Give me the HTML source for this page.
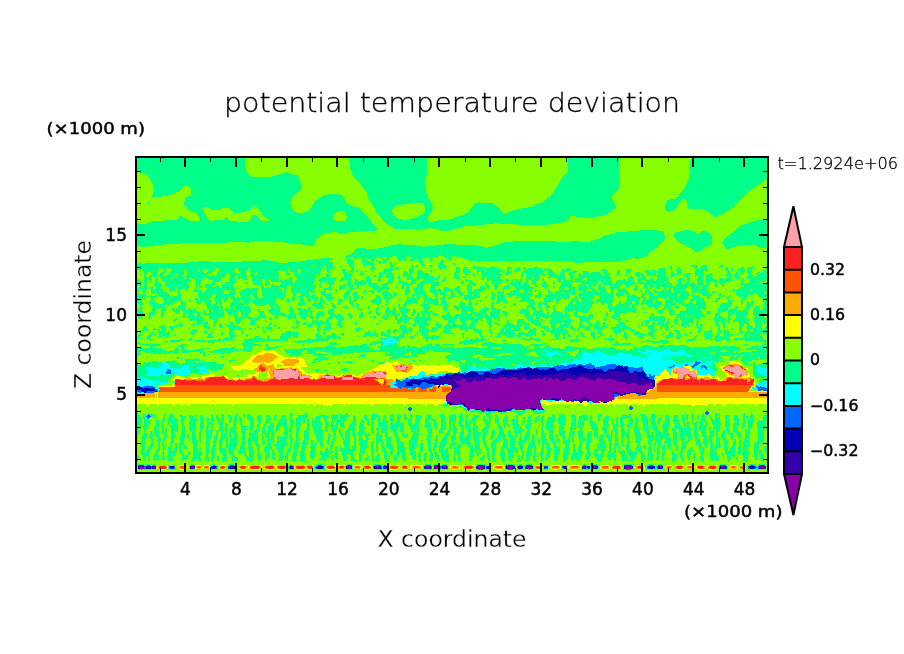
<!DOCTYPE html>
<html lang="en"><head><meta charset="utf-8"><title>potential temperature deviation</title>
<style>html,body{margin:0;padding:0;background:#fff}
svg{display:block}
text{fill:#000}
.thin{stroke:#fff;stroke-width:1.1px;paint-order:fill stroke}
.thin2{stroke:#fff;stroke-width:.3px;paint-order:fill stroke}
.lt{stroke:#000;stroke-width:.3px}
.med{stroke:#000;stroke-width:.45px}
</style></head><body>
<svg width="904" height="654" viewBox="0 0 904 654">
<rect width="904" height="654" fill="#fff"/>
<g shape-rendering="crispEdges"><rect x="136" y="157" width="632" height="316" fill="#88ff00"/>
<path fill="#00ff88" d="M348 157h79v2h-79zM691 157h77v3h-77zM349 159h78v4h-78zM136 157h109v10h-109zM690 160h78v7h-78zM350 163h77v6h-77zM136 167h110v4h-110zM689 167h79v4h-79zM351 169h76v2h-76zM568 157h51v15h-51zM136 171h111v1h-111zM690 171h78v2h-78zM139 172h109v1h-109zM285 172h3v1h-3zM567 172h52v1h-52zM143 173h105v1h-105zM282 173h8v1h-8zM566 173h53v1h-53zM352 171h75v4h-75zM146 174h103v1h-103zM279 174h15v1h-15zM565 174h54v1h-54zM147 175h102v1h-102zM276 175h21v1h-21zM353 175h74v1h-74zM564 175h55v1h-55zM148 176h103v1h-103zM272 176h26v1h-26zM563 176h56v1h-56zM354 176h72v2h-72zM689 173h79v6h-79zM149 177h150v2h-150zM562 177h57v2h-57zM355 178h71v1h-71zM150 179h149v1h-149zM356 179h69v1h-69zM561 179h58v1h-58zM689 179h77v1h-77zM357 180h68v1h-68zM688 180h76v1h-76zM151 180h149v2h-149zM560 180h59v2h-59zM358 181h67v1h-67zM687 181h76v1h-76zM359 182h66v1h-66zM687 182h75v1h-75zM152 182h149v2h-149zM559 182h60v2h-60zM360 183h65v1h-65zM687 183h74v1h-74zM153 184h148v1h-148zM686 184h73v1h-73zM361 184h64v2h-64zM558 184h61v2h-61zM153 185h149v1h-149zM686 185h72v1h-72zM153 186h30v1h-30zM188 186h114v1h-114zM362 186h64v1h-64zM557 186h62v1h-62zM685 186h71v1h-71zM190 187h111v1h-111zM363 187h63v1h-63zM556 187h63v1h-63zM685 187h70v1h-70zM154 187h28v2h-28zM191 188h110v1h-110zM555 188h64v1h-64zM684 188h69v1h-69zM364 188h62v2h-62zM154 189h27v1h-27zM555 189h63v1h-63zM683 189h68v1h-68zM191 189h109v2h-109zM154 190h26v1h-26zM365 190h61v1h-61zM554 190h64v1h-64zM683 190h67v1h-67zM154 191h25v1h-25zM191 191h108v1h-108zM366 191h60v1h-60zM554 191h62v1h-62zM682 191h67v1h-67zM153 192h23v1h-23zM191 192h107v1h-107zM367 192h59v1h-59zM553 192h62v1h-62zM681 192h67v1h-67zM153 193h21v1h-21zM191 193h105v1h-105zM553 193h61v1h-61zM680 193h67v1h-67zM153 194h18v1h-18zM191 194h104v1h-104zM328 194h11v1h-11zM552 194h61v1h-61zM679 194h67v1h-67zM367 193h60v3h-60zM152 195h16v1h-16zM190 195h103v1h-103zM324 195h18v1h-18zM551 195h61v1h-61zM679 195h66v1h-66zM152 196h10v1h-10zM188 196h105v1h-105zM322 196h21v1h-21zM368 196h59v1h-59zM550 196h62v1h-62zM678 196h66v1h-66zM152 197h2v1h-2zM186 197h106v1h-106zM320 197h23v1h-23zM368 197h60v1h-60zM548 197h64v1h-64zM677 197h66v1h-66zM151 198h1v1h-1zM185 198h107v1h-107zM319 198h25v1h-25zM368 198h61v1h-61zM547 198h65v1h-65zM676 198h66v1h-66zM318 199h27v1h-27zM369 199h60v1h-60zM546 199h67v1h-67zM670 199h12v1h-12zM685 199h56v1h-56zM316 200h29v1h-29zM370 200h60v1h-60zM545 200h68v1h-68zM667 200h14v1h-14zM686 200h54v1h-54zM185 199h106v3h-106zM149 201h1v1h-1zM315 201h31v1h-31zM371 201h59v1h-59zM544 201h70v1h-70zM667 201h13v1h-13zM686 201h53v1h-53zM148 202h1v1h-1zM314 202h32v1h-32zM371 202h60v1h-60zM478 202h2v1h-2zM542 202h72v1h-72zM687 202h51v1h-51zM184 202h106v2h-106zM666 202h13v2h-13zM147 203h2v1h-2zM314 203h33v1h-33zM372 203h39v1h-39zM423 203h8v1h-8zM475 203h18v1h-18zM539 203h76v1h-76zM687 203h50v1h-50zM184 204h107v1h-107zM313 204h36v1h-36zM373 204h30v1h-30zM474 204h20v1h-20zM536 204h79v1h-79zM665 204h13v1h-13zM687 204h49v1h-49zM424 204h8v2h-8zM185 205h106v1h-106zM312 205h40v1h-40zM373 205h23v1h-23zM473 205h22v1h-22zM534 205h81v1h-81zM688 205h47v1h-47zM665 205h12v2h-12zM186 206h67v1h-67zM256 206h35v1h-35zM312 206h41v1h-41zM374 206h21v1h-21zM473 206h24v1h-24zM532 206h84v1h-84zM688 206h46v1h-46zM208 207h44v1h-44zM257 207h35v1h-35zM311 207h46v1h-46zM374 207h20v1h-20zM472 207h26v1h-26zM528 207h88v1h-88zM688 207h45v1h-45zM425 206h8v3h-8zM187 207h16v2h-16zM665 207h11v2h-11zM209 208h13v1h-13zM229 208h22v1h-22zM258 208h34v1h-34zM310 208h50v1h-50zM375 208h18v1h-18zM471 208h28v1h-28zM521 208h95v1h-95zM689 208h43v1h-43zM188 209h15v1h-15zM211 209h9v1h-9zM230 209h20v1h-20zM310 209h51v1h-51zM470 209h30v1h-30zM516 209h98v1h-98zM665 209h10v1h-10zM704 209h27v1h-27zM259 209h34v2h-34zM375 209h17v2h-17zM425 209h7v2h-7zM190 210h13v1h-13zM231 210h18v1h-18zM309 210h53v1h-53zM470 210h31v1h-31zM513 210h99v1h-99zM666 210h7v1h-7zM706 210h22v1h-22zM192 211h12v1h-12zM233 211h13v1h-13zM260 211h35v1h-35zM307 211h31v1h-31zM425 211h6v1h-6zM469 211h32v1h-32zM510 211h101v1h-101zM667 211h3v1h-3zM707 211h19v1h-19zM345 211h18v2h-18zM376 211h16v2h-16zM195 212h9v1h-9zM234 212h7v1h-7zM261 212h36v1h-36zM304 212h32v1h-32zM424 212h7v1h-7zM468 212h34v1h-34zM508 212h102v1h-102zM709 212h16v1h-16zM196 213h9v1h-9zM262 213h73v1h-73zM346 213h18v1h-18zM377 213h16v1h-16zM424 213h6v1h-6zM465 213h38v1h-38zM505 213h103v1h-103zM710 213h13v1h-13zM197 214h8v1h-8zM262 214h72v1h-72zM346 214h19v1h-19zM378 214h15v1h-15zM422 214h8v1h-8zM463 214h144v1h-144zM712 214h9v1h-9zM198 215h8v1h-8zM252 215h4v1h-4zM263 215h70v1h-70zM346 215h20v1h-20zM379 215h15v1h-15zM420 215h9v1h-9zM460 215h144v1h-144zM713 215h6v1h-6zM179 216h3v1h-3zM199 216h7v1h-7zM252 216h5v1h-5zM264 216h69v1h-69zM347 216h20v1h-20zM380 216h15v1h-15zM418 216h10v1h-10zM457 216h113v1h-113zM575 216h22v1h-22zM714 216h4v1h-4zM179 217h5v1h-5zM199 217h8v1h-8zM226 217h1v1h-1zM251 217h7v1h-7zM266 217h67v1h-67zM347 217h21v1h-21zM381 217h15v1h-15zM416 217h12v1h-12zM455 217h115v1h-115zM583 217h11v1h-11zM178 218h8v1h-8zM200 218h7v1h-7zM225 218h2v1h-2zM251 218h8v1h-8zM268 218h65v1h-65zM346 218h23v1h-23zM382 218h16v1h-16zM411 218h16v1h-16zM453 218h116v1h-116zM177 219h11v1h-11zM200 219h8v1h-8zM224 219h4v1h-4zM250 219h10v1h-10zM269 219h65v1h-65zM346 219h24v1h-24zM382 219h19v1h-19zM409 219h19v1h-19zM449 219h120v1h-120zM165 220h25v1h-25zM199 220h11v1h-11zM214 220h15v1h-15zM250 220h11v1h-11zM269 220h67v1h-67zM345 220h26v1h-26zM383 220h45v1h-45zM438 220h130v1h-130zM756 220h12v1h-12zM151 221h86v1h-86zM248 221h123v1h-123zM384 221h45v1h-45zM434 221h131v1h-131zM753 221h15v1h-15zM149 222h223v1h-223zM385 222h177v1h-177zM749 222h19v1h-19zM136 223h3v1h-3zM147 223h225v1h-225zM386 223h108v1h-108zM499 223h58v1h-58zM747 223h21v1h-21zM136 224h237v1h-237zM388 224h97v1h-97zM518 224h31v1h-31zM744 224h24v1h-24zM136 225h238v1h-238zM389 225h86v1h-86zM741 225h27v1h-27zM136 226h239v1h-239zM391 226h73v1h-73zM740 226h28v1h-28zM136 227h240v1h-240zM392 227h69v1h-69zM738 227h30v1h-30zM394 228h34v1h-34zM433 228h24v1h-24zM737 228h31v1h-31zM136 228h241v2h-241zM416 229h4v1h-4zM437 229h16v1h-16zM736 229h32v1h-32zM136 230h240v1h-240zM441 230h9v1h-9zM640 230h18v1h-18zM683 230h8v1h-8zM735 230h33v1h-33zM136 231h197v1h-197zM334 231h25v1h-25zM628 231h35v1h-35zM680 231h15v1h-15zM702 231h4v1h-4zM734 231h34v1h-34zM136 232h193v1h-193zM337 232h12v1h-12zM616 232h48v1h-48zM676 232h20v1h-20zM701 232h7v1h-7zM733 232h35v1h-35zM136 233h188v1h-188zM339 233h7v1h-7zM615 233h49v1h-49zM674 233h22v1h-22zM699 233h11v1h-11zM731 233h37v1h-37zM136 234h186v1h-186zM610 234h54v1h-54zM730 234h38v1h-38zM674 234h37v2h-37zM136 235h185v1h-185zM605 235h60v1h-60zM728 235h40v1h-40zM136 236h184v1h-184zM603 236h62v1h-62zM674 236h38v1h-38zM727 236h41v1h-41zM136 237h183v1h-183zM602 237h63v1h-63zM726 237h42v1h-42zM675 237h37v2h-37zM136 238h181v1h-181zM600 238h65v1h-65zM725 238h43v1h-43zM597 239h67v1h-67zM676 239h36v1h-36zM136 239h180v2h-180zM724 239h44v2h-44zM593 240h71v1h-71zM677 240h35v1h-35zM136 241h118v1h-118zM273 241h42v1h-42zM513 241h42v1h-42zM571 241h8v1h-8zM590 241h73v1h-73zM678 241h34v1h-34zM723 241h45v1h-45zM136 242h92v1h-92zM246 242h3v1h-3zM285 242h30v1h-30zM504 242h158v1h-158zM679 242h33v1h-33zM722 242h46v2h-46zM136 243h45v1h-45zM292 243h22v1h-22zM501 243h160v1h-160zM680 243h32v1h-32zM136 244h28v1h-28zM302 244h12v1h-12zM397 244h5v1h-5zM444 244h12v1h-12zM498 244h162v1h-162zM683 244h29v1h-29zM723 244h45v1h-45zM136 245h18v1h-18zM307 245h7v1h-7zM391 245h25v1h-25zM435 245h42v1h-42zM495 245h164v1h-164zM685 245h25v1h-25zM724 245h15v1h-15zM755 245h13v1h-13zM141 246h6v1h-6zM388 246h34v1h-34zM425 246h56v1h-56zM492 246h166v1h-166zM687 246h20v1h-20zM725 246h11v1h-11zM757 246h11v1h-11zM383 247h102v1h-102zM488 247h169v1h-169zM689 247h15v1h-15zM725 247h8v1h-8zM759 247h9v1h-9zM357 248h9v1h-9zM378 248h278v1h-278zM691 248h12v1h-12zM726 248h4v1h-4zM355 249h299v1h-299zM692 249h10v1h-10zM355 250h298v1h-298zM694 250h7v1h-7zM354 251h297v1h-297zM695 251h4v1h-4zM353 252h297v1h-297zM352 253h297v1h-297zM350 254h298v1h-298zM347 255h92v1h-92zM441 255h206v1h-206zM346 256h46v1h-46zM396 256h12v1h-12zM409 256h29v1h-29zM443 256h9v1h-9zM456 256h189v1h-189zM353 257h24v1h-24zM379 257h3v1h-3zM397 257h8v1h-8zM411 257h15v1h-15zM435 257h2v1h-2zM445 257h7v1h-7zM460 257h183v1h-183zM346 257h3v2h-3zM387 257h3v2h-3zM429 257h3v2h-3zM321 258h11v1h-11zM354 258h3v1h-3zM362 258h3v1h-3zM367 258h8v1h-8zM381 258h2v1h-2zM397 258h9v1h-9zM411 258h12v1h-12zM446 258h1v1h-1zM448 258h4v1h-4zM464 258h168v1h-168zM635 258h3v1h-3zM314 259h15v1h-15zM330 259h3v1h-3zM347 259h3v1h-3zM362 259h5v1h-5zM383 259h6v1h-6zM398 259h4v1h-4zM404 259h3v1h-3zM410 259h4v1h-4zM418 259h4v1h-4zM430 259h2v1h-2zM449 259h3v1h-3zM467 259h163v1h-163zM371 259h3v2h-3zM261 260h8v1h-8zM306 260h23v1h-23zM362 260h6v1h-6zM383 260h4v1h-4zM399 260h3v1h-3zM404 260h2v1h-2zM409 260h5v1h-5zM418 260h5v1h-5zM430 260h3v1h-3zM441 260h2v1h-2zM450 260h1v1h-1zM470 260h156v1h-156zM376 260h1v2h-1zM199 261h10v1h-10zM229 261h1v1h-1zM242 261h32v1h-32zM299 261h30v1h-30zM362 261h7v1h-7zM371 261h2v1h-2zM379 261h2v1h-2zM383 261h2v1h-2zM399 261h1v1h-1zM405 261h1v1h-1zM409 261h1v1h-1zM431 261h1v1h-1zM543 261h3v1h-3zM572 261h47v1h-47zM419 261h4v2h-4zM440 261h4v2h-4zM187 262h91v1h-91zM288 262h44v1h-44zM362 262h12v1h-12zM378 262h7v1h-7zM390 262h2v1h-2zM395 262h1v1h-1zM575 262h8v1h-8zM347 260h6v4h-6zM139 263h2v1h-2zM145 263h188v1h-188zM379 263h1v1h-1zM389 263h3v1h-3zM394 263h2v1h-2zM420 263h3v1h-3zM438 263h5v1h-5zM453 263h2v1h-2zM364 263h10v2h-10zM136 264h177v1h-177zM314 264h19v1h-19zM390 264h2v1h-2zM395 264h1v1h-1zM417 264h1v1h-1zM421 264h3v1h-3zM438 264h6v1h-6zM454 264h1v2h-1zM315 265h10v1h-10zM364 265h2v1h-2zM412 265h1v1h-1zM416 265h3v1h-3zM422 265h3v1h-3zM438 265h8v1h-8zM691 265h6v1h-6zM703 265h3v1h-3zM720 265h3v1h-3zM349 264h4v3h-4zM136 265h176v2h-176zM371 265h3v2h-3zM429 265h3v2h-3zM315 266h9v1h-9zM340 266h2v1h-2zM364 266h1v1h-1zM415 266h3v1h-3zM422 266h2v1h-2zM438 266h9v1h-9zM449 266h1v1h-1zM473 266h4v1h-4zM492 266h1v1h-1zM692 266h6v1h-6zM701 266h6v1h-6zM719 266h4v1h-4zM752 266h1v1h-1zM390 265h3v3h-3zM411 266h3v2h-3zM136 267h100v1h-100zM237 267h12v1h-12zM250 267h73v1h-73zM341 267h1v1h-1zM371 267h4v1h-4zM396 267h3v1h-3zM438 267h8v1h-8zM456 267h3v1h-3zM464 267h3v1h-3zM472 267h13v1h-13zM489 267h7v1h-7zM507 267h4v1h-4zM518 267h2v1h-2zM523 267h2v1h-2zM534 267h4v1h-4zM694 267h4v1h-4zM718 267h5v1h-5zM726 267h2v1h-2zM741 267h2v1h-2zM748 267h5v1h-5zM326 265h7v4h-7zM351 267h3v2h-3zM677 267h3v2h-3zM700 267h7v2h-7zM137 268h22v1h-22zM161 268h6v1h-6zM169 268h36v1h-36zM206 268h9v1h-9zM250 268h38v1h-38zM289 268h32v1h-32zM385 268h2v1h-2zM389 268h4v1h-4zM395 268h4v1h-4zM410 268h4v1h-4zM439 268h6v1h-6zM463 268h4v1h-4zM474 268h11v1h-11zM486 268h13v1h-13zM507 268h5v1h-5zM515 268h6v1h-6zM523 268h3v1h-3zM528 268h14v1h-14zM545 268h2v1h-2zM695 268h3v1h-3zM740 268h4v1h-4zM747 268h6v1h-6zM755 268h1v1h-1zM670 266h2v4h-2zM219 268h16v2h-16zM238 268h10v2h-10zM370 268h5v2h-5zM566 268h4v2h-4zM659 268h6v2h-6zM725 268h3v2h-3zM138 269h20v1h-20zM171 269h13v1h-13zM186 269h11v1h-11zM200 269h4v1h-4zM209 269h6v1h-6zM250 269h37v1h-37zM300 269h7v1h-7zM332 269h1v1h-1zM342 269h4v1h-4zM352 269h2v1h-2zM394 269h5v1h-5zM440 269h2v1h-2zM476 269h9v1h-9zM486 269h14v1h-14zM507 269h4v1h-4zM515 269h5v1h-5zM524 269h18v1h-18zM544 269h7v1h-7zM562 269h2v1h-2zM602 269h3v1h-3zM653 269h1v1h-1zM677 269h4v1h-4zM700 269h8v1h-8zM738 269h7v1h-7zM766 269h2v1h-2zM731 268h2v3h-2zM290 269h8v2h-8zM326 269h4v2h-4zM384 269h9v2h-9zM409 269h5v2h-5zM435 269h1v2h-1zM463 269h6v2h-6zM696 269h3v2h-3zM139 270h1v1h-1zM143 270h15v1h-15zM172 270h12v1h-12zM200 270h3v1h-3zM208 270h6v1h-6zM219 270h15v1h-15zM239 270h8v1h-8zM249 270h30v1h-30zM281 270h7v1h-7zM342 270h5v1h-5zM351 270h3v1h-3zM371 270h3v1h-3zM418 270h3v1h-3zM477 270h8v1h-8zM487 270h16v1h-16zM507 270h3v1h-3zM514 270h6v1h-6zM525 270h21v1h-21zM548 270h4v1h-4zM562 270h7v1h-7zM573 270h3v1h-3zM601 270h6v1h-6zM617 270h2v1h-2zM645 270h5v1h-5zM652 270h4v1h-4zM671 270h1v1h-1zM676 270h6v1h-6zM700 270h4v1h-4zM705 270h3v1h-3zM726 270h3v1h-3zM737 270h2v1h-2zM456 268h4v4h-4zM164 269h2v3h-2zM308 269h13v3h-13zM626 269h5v3h-5zM747 269h5v3h-5zM187 270h11v2h-11zM301 270h6v2h-6zM356 270h1v2h-1zM430 270h2v2h-2zM740 270h5v2h-5zM763 270h5v2h-5zM144 271h5v1h-5zM171 271h13v1h-13zM199 271h4v1h-4zM208 271h5v1h-5zM239 271h7v1h-7zM250 271h28v1h-28zM285 271h3v1h-3zM290 271h3v1h-3zM327 271h3v1h-3zM343 271h3v1h-3zM349 271h5v1h-5zM365 271h2v1h-2zM372 271h1v1h-1zM383 271h9v1h-9zM404 271h2v1h-2zM417 271h6v1h-6zM463 271h8v1h-8zM477 271h2v1h-2zM481 271h4v1h-4zM487 271h17v1h-17zM507 271h4v1h-4zM514 271h4v1h-4zM523 271h21v1h-21zM548 271h5v1h-5zM561 271h7v1h-7zM572 271h5v1h-5zM582 271h6v1h-6zM601 271h1v1h-1zM644 271h6v1h-6zM652 271h5v1h-5zM671 271h2v1h-2zM677 271h5v1h-5zM706 271h1v1h-1zM737 271h1v1h-1zM658 270h8v3h-8zM151 271h6v2h-6zM218 271h15v2h-15zM361 271h2v2h-2zM409 271h4v2h-4zM603 271h5v2h-5zM727 271h3v2h-3zM144 272h4v1h-4zM161 272h4v1h-4zM170 272h7v1h-7zM187 272h17v1h-17zM207 272h5v1h-5zM235 272h1v1h-1zM251 272h5v1h-5zM257 272h21v1h-21zM286 272h2v1h-2zM300 272h21v1h-21zM328 272h1v1h-1zM343 272h4v1h-4zM349 272h1v1h-1zM351 272h2v1h-2zM380 272h8v1h-8zM389 272h3v1h-3zM417 272h7v1h-7zM431 272h1v1h-1zM455 272h5v1h-5zM463 272h6v1h-6zM470 272h1v1h-1zM502 272h1v1h-1zM522 272h22v1h-22zM548 272h6v1h-6zM560 272h5v1h-5zM570 272h6v1h-6zM592 272h8v1h-8zM626 272h4v1h-4zM636 272h4v1h-4zM645 272h12v1h-12zM677 272h4v1h-4zM719 272h1v1h-1zM736 272h2v1h-2zM740 272h4v1h-4zM747 272h4v1h-4zM757 272h3v1h-3zM762 272h6v1h-6zM294 271h4v3h-4zM617 271h3v3h-3zM240 272h6v2h-6zM481 272h19v2h-19zM506 272h5v2h-5zM583 272h6v2h-6zM671 272h3v2h-3zM144 273h3v1h-3zM151 273h7v1h-7zM170 273h6v1h-6zM187 273h22v1h-22zM217 273h9v1h-9zM229 273h8v1h-8zM251 273h4v1h-4zM286 273h3v1h-3zM290 273h1v1h-1zM300 273h20v1h-20zM327 273h1v1h-1zM343 273h8v1h-8zM360 273h4v1h-4zM379 273h14v1h-14zM417 273h11v1h-11zM454 273h6v1h-6zM464 273h4v1h-4zM472 273h2v1h-2zM522 273h2v1h-2zM526 273h18v1h-18zM548 273h7v1h-7zM560 273h4v1h-4zM569 273h6v1h-6zM578 273h2v1h-2zM590 273h11v1h-11zM635 273h7v1h-7zM646 273h5v1h-5zM658 273h7v1h-7zM676 273h4v1h-4zM687 273h4v1h-4zM710 273h2v1h-2zM727 273h4v1h-4zM735 273h8v1h-8zM755 273h13v1h-13zM178 272h6v3h-6zM403 272h5v3h-5zM477 272h1v3h-1zM160 273h4v2h-4zM257 273h22v2h-22zM409 273h3v2h-3zM652 273h4v2h-4zM748 273h4v2h-4zM140 274h1v1h-1zM152 274h6v1h-6zM168 274h7v1h-7zM187 274h21v1h-21zM217 274h8v1h-8zM229 274h17v1h-17zM250 274h4v1h-4zM286 274h4v1h-4zM317 274h3v1h-3zM326 274h3v1h-3zM360 274h3v1h-3zM379 274h4v1h-4zM465 274h3v1h-3zM482 274h19v1h-19zM506 274h3v1h-3zM526 274h14v1h-14zM542 274h3v1h-3zM548 274h10v1h-10zM560 274h3v1h-3zM578 274h3v1h-3zM583 274h19v1h-19zM616 274h3v1h-3zM635 274h8v1h-8zM647 274h4v1h-4zM671 274h4v1h-4zM676 274h3v1h-3zM708 274h4v1h-4zM726 274h6v1h-6zM734 274h6v1h-6zM695 271h8v5h-8zM604 273h6v3h-6zM294 274h22v2h-22zM344 274h8v2h-8zM386 274h7v2h-7zM417 274h12v2h-12zM454 274h4v2h-4zM473 274h2v2h-2zM569 274h5v2h-5zM625 274h2v2h-2zM657 274h9v2h-9zM684 274h6v2h-6zM757 274h11v2h-11zM149 275h9v1h-9zM166 275h8v1h-8zM178 275h5v1h-5zM186 275h23v1h-23zM211 275h3v1h-3zM216 275h9v1h-9zM230 275h17v1h-17zM250 275h5v1h-5zM256 275h23v1h-23zM287 275h2v1h-2zM318 275h1v1h-1zM361 275h2v1h-2zM379 275h3v1h-3zM399 275h1v1h-1zM403 275h9v1h-9zM439 275h1v1h-1zM465 275h2v1h-2zM482 275h20v1h-20zM506 275h1v1h-1zM527 275h12v1h-12zM543 275h2v1h-2zM549 275h15v1h-15zM578 275h25v1h-25zM631 275h1v1h-1zM635 275h9v1h-9zM647 275h3v1h-3zM653 275h2v1h-2zM671 275h5v1h-5zM706 275h7v1h-7zM726 275h5v1h-5zM748 275h5v1h-5zM144 274h2v3h-2zM159 275h5v2h-5zM326 275h4v2h-4zM374 275h2v2h-2zM734 275h5v2h-5zM149 276h3v1h-3zM154 276h3v1h-3zM165 276h10v1h-10zM177 276h6v1h-6zM186 276h39v1h-39zM230 276h6v1h-6zM251 276h28v1h-28zM295 276h21v1h-21zM344 276h7v1h-7zM366 276h3v1h-3zM378 276h4v1h-4zM386 276h8v1h-8zM404 276h2v1h-2zM417 276h17v1h-17zM438 276h2v1h-2zM454 276h5v1h-5zM474 276h2v1h-2zM482 276h14v1h-14zM498 276h3v1h-3zM526 276h13v1h-13zM549 276h16v1h-16zM570 276h4v1h-4zM578 276h32v1h-32zM630 276h2v1h-2zM637 276h3v1h-3zM670 276h3v1h-3zM683 276h6v1h-6zM695 276h1v1h-1zM747 276h6v1h-6zM755 276h13v1h-13zM521 274h2v4h-2zM238 276h9v2h-9zM407 276h6v2h-6zM463 276h2v2h-2zM641 276h5v2h-5zM657 276h10v2h-10zM706 276h6v2h-6zM727 276h4v2h-4zM144 277h3v1h-3zM148 277h4v1h-4zM160 277h12v1h-12zM173 277h3v1h-3zM177 277h7v1h-7zM186 277h17v1h-17zM205 277h17v1h-17zM223 277h2v1h-2zM289 277h4v1h-4zM296 277h20v1h-20zM322 277h9v1h-9zM333 277h2v1h-2zM342 277h9v1h-9zM366 277h4v1h-4zM378 277h3v1h-3zM386 277h3v1h-3zM390 277h4v1h-4zM416 277h18v1h-18zM437 277h3v1h-3zM454 277h6v1h-6zM482 277h3v1h-3zM487 277h14v1h-14zM548 277h4v1h-4zM554 277h11v1h-11zM578 277h33v1h-33zM638 277h1v1h-1zM686 277h3v1h-3zM735 277h4v1h-4zM746 277h22v1h-22zM398 276h2v3h-2zM698 276h5v3h-5zM156 277h1v2h-1zM252 277h26v2h-26zM444 277h2v2h-2zM526 277h6v2h-6zM534 277h6v2h-6zM570 277h3v2h-3zM628 277h5v2h-5zM671 277h1v2h-1zM136 278h2v1h-2zM144 278h8v1h-8zM161 278h10v1h-10zM173 278h11v1h-11zM186 278h4v1h-4zM193 278h10v1h-10zM208 278h13v1h-13zM238 278h2v1h-2zM242 278h5v1h-5zM289 278h3v1h-3zM341 278h10v1h-10zM379 278h2v1h-2zM407 278h7v1h-7zM416 278h5v1h-5zM423 278h12v1h-12zM436 278h3v1h-3zM455 278h5v1h-5zM487 278h13v1h-13zM515 278h1v1h-1zM521 278h1v1h-1zM543 278h1v1h-1zM549 278h1v1h-1zM575 278h3v1h-3zM579 278h4v1h-4zM650 278h3v1h-3zM679 278h4v1h-4zM706 278h7v1h-7zM720 278h3v1h-3zM726 278h6v1h-6zM736 278h3v1h-3zM742 278h1v1h-1zM747 278h21v1h-21zM229 277h6v3h-6zM297 278h18v2h-18zM319 278h12v2h-12zM332 278h4v2h-4zM389 278h5v2h-5zM481 278h3v2h-3zM557 278h8v2h-8zM587 278h24v2h-24zM638 278h8v2h-8zM657 278h11v2h-11zM136 279h3v1h-3zM162 279h28v1h-28zM194 279h8v1h-8zM209 279h12v1h-12zM244 279h3v1h-3zM264 279h5v1h-5zM285 279h7v1h-7zM341 279h4v1h-4zM347 279h4v1h-4zM354 279h3v1h-3zM399 279h1v1h-1zM407 279h8v1h-8zM417 279h2v1h-2zM424 279h14v1h-14zM443 279h2v1h-2zM458 279h1v1h-1zM465 279h2v1h-2zM487 279h15v1h-15zM506 279h2v1h-2zM512 279h1v1h-1zM520 279h2v1h-2zM529 279h3v1h-3zM534 279h5v1h-5zM570 279h2v1h-2zM574 279h9v1h-9zM623 279h2v1h-2zM649 279h4v1h-4zM706 279h8v1h-8zM716 279h1v1h-1zM719 279h13v1h-13zM749 279h2v1h-2zM752 279h14v1h-14zM366 278h5v3h-5zM687 278h3v3h-3zM149 279h3v2h-3zM252 279h10v2h-10zM271 279h8v2h-8zM515 279h3v2h-3zM526 279h2v2h-2zM542 279h2v2h-2zM627 279h6v2h-6zM767 279h1v2h-1zM136 280h4v1h-4zM162 280h29v1h-29zM195 280h7v1h-7zM212 280h10v1h-10zM229 280h7v1h-7zM265 280h3v1h-3zM280 280h3v1h-3zM284 280h8v1h-8zM296 280h19v1h-19zM318 280h9v1h-9zM328 280h7v1h-7zM340 280h4v1h-4zM355 280h3v1h-3zM361 280h2v1h-2zM388 280h5v1h-5zM399 280h2v1h-2zM423 280h11v1h-11zM436 280h2v1h-2zM442 280h3v1h-3zM463 280h1v1h-1zM465 280h7v1h-7zM487 280h2v1h-2zM491 280h12v1h-12zM506 280h3v1h-3zM511 280h2v1h-2zM519 280h3v1h-3zM531 280h6v1h-6zM558 280h4v1h-4zM563 280h5v1h-5zM569 280h3v1h-3zM575 280h7v1h-7zM583 280h2v1h-2zM587 280h25v1h-25zM617 280h8v1h-8zM638 280h4v1h-4zM645 280h9v1h-9zM656 280h12v1h-12zM706 280h12v1h-12zM719 280h14v1h-14zM750 280h9v1h-9zM760 280h6v1h-6zM155 279h3v3h-3zM378 279h3v3h-3zM678 279h5v3h-5zM348 280h3v2h-3zM411 280h4v2h-4zM163 281h28v1h-28zM213 281h6v1h-6zM229 281h8v1h-8zM265 281h4v1h-4zM271 281h4v1h-4zM276 281h3v1h-3zM280 281h12v1h-12zM295 281h20v1h-20zM319 281h3v1h-3zM340 281h2v1h-2zM355 281h4v1h-4zM360 281h11v1h-11zM388 281h4v1h-4zM399 281h4v1h-4zM422 281h12v1h-12zM435 281h3v1h-3zM442 281h1v1h-1zM462 281h2v1h-2zM466 281h1v1h-1zM469 281h3v1h-3zM487 281h1v1h-1zM492 281h11v1h-11zM506 281h2v1h-2zM511 281h3v1h-3zM516 281h6v1h-6zM525 281h3v1h-3zM532 281h5v1h-5zM544 281h2v1h-2zM553 281h1v1h-1zM558 281h3v1h-3zM562 281h11v1h-11zM575 281h23v1h-23zM616 281h18v1h-18zM638 281h5v1h-5zM666 281h2v1h-2zM687 281h2v1h-2zM713 281h17v1h-17zM761 281h4v1h-4zM697 279h6v4h-6zM741 279h2v4h-2zM324 281h2v2h-2zM601 281h11v2h-11zM646 281h18v2h-18zM706 281h4v2h-4zM749 281h11v2h-11zM155 282h4v1h-4zM165 282h24v1h-24zM212 282h4v1h-4zM225 282h11v1h-11zM295 282h19v1h-19zM320 282h1v1h-1zM354 282h13v1h-13zM368 282h3v1h-3zM387 282h5v1h-5zM398 282h9v1h-9zM411 282h5v1h-5zM420 282h19v1h-19zM469 282h4v1h-4zM492 282h10v1h-10zM507 282h1v1h-1zM511 282h11v1h-11zM524 282h4v1h-4zM543 282h3v1h-3zM559 282h1v1h-1zM561 282h12v1h-12zM576 282h1v1h-1zM580 282h11v1h-11zM616 282h19v1h-19zM638 282h6v1h-6zM666 282h4v1h-4zM686 282h3v1h-3zM692 282h2v1h-2zM714 282h3v1h-3zM719 282h6v1h-6zM136 281h6v3h-6zM196 281h5v3h-5zM253 281h9v3h-9zM328 281h6v3h-6zM245 282h2v2h-2zM265 282h5v2h-5zM281 282h12v2h-12zM347 282h4v2h-4zM461 282h2v2h-2zM485 282h2v2h-2zM532 282h4v2h-4zM553 282h2v2h-2zM592 282h6v2h-6zM678 282h4v2h-4zM155 283h6v1h-6zM166 283h21v1h-21zM211 283h4v1h-4zM221 283h1v1h-1zM225 283h9v1h-9zM294 283h19v1h-19zM354 283h12v1h-12zM385 283h6v1h-6zM402 283h6v1h-6zM410 283h6v1h-6zM419 283h9v1h-9zM429 283h10v1h-10zM469 283h8v1h-8zM492 283h7v1h-7zM500 283h2v1h-2zM509 283h12v1h-12zM523 283h5v1h-5zM542 283h5v1h-5zM581 283h10v1h-10zM603 283h9v1h-9zM615 283h20v1h-20zM638 283h26v1h-26zM665 283h7v1h-7zM684 283h6v1h-6zM691 283h4v1h-4zM720 283h3v1h-3zM745 283h16v1h-16zM765 283h1v1h-1zM368 283h9v2h-9zM561 283h11v2h-11zM697 283h7v2h-7zM706 283h3v2h-3zM740 283h3v2h-3zM136 284h5v1h-5zM154 284h7v1h-7zM165 284h22v1h-22zM196 284h4v1h-4zM205 284h10v1h-10zM222 284h1v1h-1zM224 284h9v1h-9zM254 284h8v1h-8zM265 284h4v1h-4zM272 284h2v1h-2zM280 284h34v1h-34zM329 284h4v1h-4zM344 284h2v1h-2zM355 284h11v1h-11zM382 284h6v1h-6zM402 284h10v1h-10zM417 284h7v1h-7zM427 284h1v1h-1zM467 284h3v1h-3zM471 284h5v1h-5zM486 284h2v1h-2zM493 284h5v1h-5zM508 284h13v1h-13zM522 284h7v1h-7zM533 284h3v1h-3zM542 284h6v1h-6zM581 284h5v1h-5zM588 284h3v1h-3zM593 284h4v1h-4zM599 284h2v1h-2zM604 284h9v1h-9zM614 284h8v1h-8zM624 284h9v1h-9zM637 284h1v1h-1zM643 284h11v1h-11zM676 284h19v1h-19zM721 284h2v1h-2zM744 284h19v1h-19zM764 284h3v1h-3zM347 284h6v2h-6zM431 284h8v2h-8zM553 284h1v2h-1zM656 284h16v2h-16zM136 285h6v1h-6zM154 285h8v1h-8zM165 285h13v1h-13zM200 285h2v1h-2zM205 285h9v1h-9zM260 285h3v1h-3zM265 285h3v1h-3zM271 285h7v1h-7zM280 285h8v1h-8zM291 285h25v1h-25zM340 285h6v1h-6zM369 285h9v1h-9zM382 285h5v1h-5zM467 285h4v1h-4zM473 285h3v1h-3zM506 285h2v1h-2zM512 285h9v1h-9zM522 285h8v1h-8zM548 285h1v1h-1zM560 285h12v1h-12zM578 285h8v1h-8zM589 285h2v1h-2zM593 285h3v1h-3zM610 285h11v1h-11zM626 285h5v1h-5zM636 285h2v1h-2zM644 285h10v1h-10zM676 285h12v1h-12zM690 285h6v1h-6zM698 285h10v1h-10zM722 285h2v1h-2zM319 283h2v4h-2zM715 283h2v4h-2zM180 285h9v2h-9zM196 285h2v2h-2zM222 285h11v2h-11zM329 285h2v2h-2zM357 285h2v2h-2zM402 285h2v2h-2zM417 285h6v2h-6zM535 285h3v2h-3zM542 285h5v2h-5zM598 285h3v2h-3zM604 285h1v2h-1zM741 285h1v2h-1zM744 285h24v2h-24zM140 286h2v1h-2zM152 286h1v1h-1zM155 286h7v1h-7zM166 286h1v1h-1zM168 286h11v1h-11zM199 286h3v1h-3zM205 286h7v1h-7zM215 286h4v1h-4zM237 286h1v1h-1zM271 286h16v1h-16zM292 286h24v1h-24zM339 286h7v1h-7zM348 286h5v1h-5zM369 286h10v1h-10zM381 286h7v1h-7zM396 286h1v1h-1zM431 286h5v1h-5zM457 286h3v1h-3zM480 286h4v1h-4zM501 286h1v1h-1zM504 286h5v1h-5zM514 286h16v1h-16zM549 286h1v1h-1zM553 286h2v1h-2zM560 286h5v1h-5zM566 286h6v1h-6zM578 286h13v1h-13zM594 286h1v1h-1zM626 286h4v1h-4zM650 286h9v1h-9zM661 286h12v1h-12zM675 286h12v1h-12zM691 286h9v1h-9zM723 286h1v1h-1zM144 279h3v9h-3zM486 285h3v3h-3zM494 285h4v3h-4zM261 286h3v2h-3zM610 286h10v2h-10zM635 286h3v2h-3zM139 287h3v1h-3zM156 287h4v1h-4zM177 287h12v1h-12zM200 287h2v1h-2zM206 287h14v1h-14zM222 287h12v1h-12zM266 287h2v1h-2zM281 287h6v1h-6zM292 287h9v1h-9zM302 287h14v1h-14zM320 287h1v1h-1zM328 287h3v1h-3zM349 287h4v1h-4zM356 287h3v1h-3zM372 287h7v1h-7zM381 287h8v1h-8zM396 287h2v1h-2zM413 287h1v1h-1zM415 287h8v1h-8zM431 287h4v1h-4zM444 287h3v1h-3zM456 287h4v1h-4zM480 287h5v1h-5zM503 287h6v1h-6zM515 287h19v1h-19zM538 287h1v1h-1zM544 287h3v1h-3zM554 287h1v1h-1zM568 287h7v1h-7zM578 287h10v1h-10zM590 287h3v1h-3zM598 287h7v1h-7zM650 287h3v1h-3zM655 287h5v1h-5zM664 287h3v1h-3zM669 287h18v1h-18zM741 287h27v1h-27zM406 285h3v4h-3zM644 286h4v3h-4zM702 286h5v3h-5zM150 287h3v2h-3zM169 287h6v2h-6zM195 287h2v2h-2zM270 287h9v2h-9zM339 287h6v2h-6zM401 287h3v2h-3zM559 287h5v2h-5zM691 287h8v2h-8zM138 288h9v1h-9zM156 288h6v1h-6zM177 288h6v1h-6zM184 288h4v1h-4zM207 288h28v1h-28zM246 288h4v1h-4zM252 288h6v1h-6zM261 288h8v1h-8zM284 288h3v1h-3zM302 288h13v1h-13zM324 288h7v1h-7zM350 288h3v1h-3zM356 288h2v1h-2zM373 288h16v1h-16zM397 288h1v1h-1zM413 288h10v1h-10zM430 288h5v1h-5zM439 288h1v1h-1zM444 288h5v1h-5zM479 288h7v1h-7zM487 288h2v1h-2zM502 288h7v1h-7zM516 288h18v1h-18zM545 288h2v1h-2zM569 288h6v1h-6zM590 288h4v1h-4zM610 288h5v1h-5zM617 288h3v1h-3zM623 288h2v1h-2zM650 288h2v1h-2zM656 288h4v1h-4zM669 288h2v1h-2zM740 288h28v1h-28zM467 286h5v4h-5zM454 288h6v2h-6zM494 288h3v2h-3zM598 288h8v2h-8zM634 288h4v2h-4zM664 288h2v2h-2zM673 288h13v2h-13zM137 289h3v1h-3zM142 289h5v1h-5zM151 289h2v1h-2zM155 289h8v1h-8zM169 289h7v1h-7zM177 289h4v1h-4zM186 289h1v1h-1zM194 289h4v1h-4zM207 289h8v1h-8zM216 289h9v1h-9zM226 289h10v1h-10zM244 289h14v1h-14zM261 289h18v1h-18zM280 289h2v1h-2zM324 289h3v1h-3zM328 289h4v1h-4zM339 289h2v1h-2zM349 289h4v1h-4zM374 289h10v1h-10zM386 289h3v1h-3zM399 289h1v1h-1zM406 289h4v1h-4zM430 289h7v1h-7zM438 289h3v1h-3zM444 289h8v1h-8zM475 289h11v1h-11zM502 289h2v1h-2zM515 289h4v1h-4zM523 289h9v1h-9zM559 289h6v1h-6zM568 289h7v1h-7zM591 289h4v1h-4zM611 289h3v1h-3zM617 289h4v1h-4zM622 289h3v1h-3zM646 289h3v1h-3zM654 289h1v1h-1zM668 289h3v1h-3zM691 289h16v1h-16zM733 289h2v1h-2zM737 289h13v1h-13zM578 288h9v3h-9zM302 289h12v2h-12zM319 289h1v2h-1zM335 289h2v2h-2zM414 289h9v2h-9zM752 289h16v2h-16zM142 290h4v1h-4zM170 290h5v1h-5zM194 290h7v1h-7zM206 290h9v1h-9zM216 290h8v1h-8zM227 290h2v1h-2zM231 290h4v1h-4zM241 290h17v1h-17zM324 290h2v1h-2zM330 290h1v1h-1zM339 290h1v1h-1zM348 290h4v1h-4zM364 290h2v1h-2zM369 290h4v1h-4zM376 290h6v1h-6zM387 290h1v1h-1zM430 290h11v1h-11zM444 290h9v1h-9zM455 290h5v1h-5zM474 290h10v1h-10zM499 290h1v1h-1zM513 290h6v1h-6zM524 290h7v1h-7zM535 290h2v1h-2zM539 290h1v1h-1zM559 290h17v1h-17zM589 290h1v1h-1zM591 290h6v1h-6zM599 290h7v1h-7zM617 290h9v1h-9zM634 290h2v1h-2zM637 290h1v1h-1zM648 290h2v1h-2zM653 290h3v1h-3zM662 290h4v1h-4zM667 290h4v1h-4zM674 290h12v1h-12zM692 290h15v1h-15zM732 290h3v1h-3zM736 290h14v1h-14zM291 288h10v4h-10zM284 289h2v3h-2zM548 289h2v3h-2zM136 290h3v2h-3zM151 290h12v2h-12zM262 290h20v2h-20zM468 290h4v2h-4zM503 290h1v2h-1zM611 290h2v2h-2zM640 290h2v2h-2zM142 291h3v1h-3zM170 291h3v1h-3zM193 291h8v1h-8zM205 291h19v1h-19zM230 291h5v1h-5zM240 291h17v1h-17zM302 291h7v1h-7zM310 291h4v1h-4zM319 291h2v1h-2zM323 291h3v1h-3zM336 291h1v1h-1zM346 291h4v1h-4zM355 291h1v1h-1zM368 291h6v1h-6zM377 291h4v1h-4zM383 291h5v1h-5zM414 291h11v1h-11zM430 291h7v1h-7zM439 291h2v1h-2zM444 291h4v1h-4zM450 291h3v1h-3zM456 291h5v1h-5zM473 291h8v1h-8zM498 291h3v1h-3zM510 291h9v1h-9zM524 291h5v1h-5zM535 291h1v1h-1zM556 291h19v1h-19zM579 291h1v1h-1zM582 291h8v1h-8zM591 291h7v1h-7zM600 291h6v1h-6zM618 291h9v1h-9zM648 291h3v1h-3zM654 291h17v1h-17zM674 291h13v1h-13zM692 291h5v1h-5zM699 291h9v1h-9zM733 291h2v1h-2zM736 291h32v1h-32zM405 290h5v3h-5zM364 291h3v2h-3zM491 291h2v2h-2zM530 291h2v2h-2zM539 291h2v2h-2zM645 291h2v2h-2zM712 291h4v2h-4zM136 292h2v1h-2zM143 292h2v1h-2zM151 292h16v1h-16zM229 292h6v1h-6zM262 292h24v1h-24zM291 292h8v1h-8zM300 292h9v1h-9zM311 292h2v1h-2zM320 292h6v1h-6zM330 292h1v1h-1zM345 292h5v1h-5zM354 292h3v1h-3zM378 292h2v1h-2zM382 292h7v1h-7zM393 292h2v1h-2zM415 292h10v1h-10zM431 292h6v1h-6zM451 292h2v1h-2zM510 292h10v1h-10zM524 292h4v1h-4zM548 292h3v1h-3zM564 292h11v1h-11zM582 292h16v1h-16zM599 292h8v1h-8zM611 292h3v1h-3zM618 292h10v1h-10zM641 292h1v1h-1zM648 292h4v1h-4zM654 292h3v1h-3zM658 292h14v1h-14zM673 292h15v1h-15zM692 292h3v1h-3zM700 292h9v1h-9zM736 292h29v1h-29zM178 290h2v4h-2zM198 292h25v2h-25zM239 292h18v2h-18zM372 292h2v2h-2zM440 292h5v2h-5zM457 292h6v2h-6zM468 292h11v2h-11zM555 292h6v2h-6zM767 292h1v2h-1zM142 293h3v1h-3zM151 293h4v1h-4zM157 293h11v1h-11zM229 293h7v1h-7zM292 293h3v1h-3zM321 293h5v1h-5zM329 293h2v1h-2zM345 293h4v1h-4zM353 293h4v1h-4zM382 293h8v1h-8zM405 293h4v1h-4zM414 293h9v1h-9zM424 293h1v1h-1zM433 293h4v1h-4zM451 293h3v1h-3zM491 293h4v1h-4zM563 293h7v1h-7zM571 293h4v1h-4zM579 293h29v1h-29zM609 293h5v1h-5zM625 293h4v1h-4zM642 293h4v1h-4zM648 293h5v1h-5zM659 293h19v1h-19zM679 293h11v1h-11zM700 293h10v1h-10zM712 293h2v1h-2zM719 293h2v1h-2zM736 293h18v1h-18zM755 293h10v1h-10zM136 293h3v2h-3zM301 293h8v2h-8zM506 293h26v2h-26zM538 293h4v2h-4zM548 293h5v2h-5zM616 293h8v2h-8zM692 293h2v2h-2zM141 294h4v1h-4zM157 294h13v1h-13zM178 294h3v1h-3zM198 294h15v1h-15zM215 294h20v1h-20zM240 294h17v1h-17zM321 294h10v1h-10zM344 294h5v1h-5zM352 294h5v1h-5zM382 294h9v1h-9zM405 294h3v1h-3zM412 294h11v1h-11zM424 294h2v1h-2zM434 294h3v1h-3zM440 294h7v1h-7zM459 294h4v1h-4zM468 294h4v1h-4zM474 294h5v1h-5zM491 294h5v1h-5zM554 294h15v1h-15zM572 294h3v1h-3zM578 294h36v1h-36zM626 294h4v1h-4zM633 294h1v1h-1zM642 294h3v1h-3zM648 294h6v1h-6zM658 294h20v1h-20zM680 294h10v1h-10zM702 294h9v1h-9zM718 294h4v1h-4zM723 294h1v1h-1zM736 294h17v1h-17zM757 294h11v1h-11zM497 292h7v4h-7zM262 293h23v3h-23zM393 293h4v3h-4zM312 294h3v2h-3zM451 294h4v2h-4zM151 295h1v1h-1zM155 295h2v1h-2zM159 295h11v1h-11zM177 295h4v1h-4zM198 295h14v1h-14zM240 295h10v1h-10zM253 295h4v1h-4zM300 295h10v1h-10zM324 295h8v1h-8zM353 295h5v1h-5zM376 295h3v1h-3zM383 295h5v1h-5zM389 295h3v1h-3zM412 295h7v1h-7zM443 295h4v1h-4zM460 295h2v1h-2zM464 295h8v1h-8zM474 295h6v1h-6zM509 295h3v1h-3zM517 295h15v1h-15zM545 295h24v1h-24zM578 295h16v1h-16zM596 295h18v1h-18zM616 295h7v1h-7zM627 295h3v1h-3zM632 295h3v1h-3zM641 295h4v1h-4zM649 295h5v1h-5zM657 295h20v1h-20zM680 295h9v1h-9zM692 295h4v1h-4zM697 295h2v1h-2zM703 295h8v1h-8zM729 295h1v1h-1zM737 295h11v1h-11zM758 295h10v1h-10zM293 294h3v3h-3zM216 295h18v2h-18zM344 295h4v2h-4zM423 295h4v2h-4zM435 295h2v2h-2zM492 295h3v2h-3zM535 295h7v2h-7zM719 295h2v2h-2zM723 295h2v2h-2zM147 296h2v1h-2zM159 296h12v1h-12zM173 296h8v1h-8zM198 296h6v1h-6zM205 296h7v1h-7zM241 296h8v1h-8zM263 296h22v1h-22zM298 296h5v1h-5zM305 296h10v1h-10zM321 296h1v1h-1zM325 296h7v1h-7zM354 296h4v1h-4zM362 296h1v1h-1zM376 296h4v1h-4zM384 296h4v1h-4zM390 296h3v1h-3zM395 296h1v1h-1zM416 296h3v1h-3zM443 296h3v1h-3zM450 296h5v1h-5zM460 296h1v1h-1zM464 296h16v1h-16zM485 296h2v1h-2zM509 296h2v1h-2zM518 296h13v1h-13zM545 296h25v1h-25zM599 296h15v1h-15zM618 296h2v1h-2zM627 296h11v1h-11zM641 296h3v1h-3zM668 296h10v1h-10zM679 296h9v1h-9zM692 296h8v1h-8zM727 296h2v1h-2zM739 296h8v1h-8zM759 296h9v1h-9zM136 295h10v3h-10zM150 296h7v2h-7zM254 296h4v2h-4zM412 296h2v2h-2zM497 296h8v2h-8zM575 296h2v2h-2zM579 296h14v2h-14zM649 296h18v2h-18zM707 296h3v2h-3zM147 297h1v1h-1zM162 297h19v1h-19zM199 297h13v1h-13zM215 297h6v1h-6zM222 297h6v1h-6zM230 297h5v1h-5zM237 297h2v1h-2zM241 297h9v1h-9zM262 297h23v1h-23zM299 297h4v1h-4zM306 297h4v1h-4zM311 297h3v1h-3zM317 297h1v1h-1zM319 297h3v1h-3zM325 297h8v1h-8zM375 297h5v1h-5zM384 297h8v1h-8zM407 297h2v1h-2zM417 297h3v1h-3zM423 297h5v1h-5zM430 297h1v1h-1zM436 297h1v1h-1zM442 297h4v1h-4zM448 297h6v1h-6zM464 297h15v1h-15zM486 297h1v1h-1zM509 297h1v1h-1zM520 297h10v1h-10zM535 297h6v1h-6zM545 297h24v1h-24zM600 297h14v1h-14zM618 297h1v1h-1zM627 297h19v1h-19zM693 297h7v1h-7zM718 297h2v1h-2zM726 297h3v1h-3zM742 297h4v1h-4zM760 297h8v1h-8zM292 297h3v2h-3zM344 297h3v2h-3zM354 297h5v2h-5zM361 297h2v2h-2zM491 297h4v2h-4zM516 297h2v2h-2zM669 297h19v2h-19zM143 298h3v1h-3zM163 298h18v1h-18zM231 298h20v1h-20zM254 298h24v1h-24zM280 298h4v1h-4zM287 298h2v1h-2zM300 298h3v1h-3zM307 298h3v1h-3zM312 298h3v1h-3zM316 298h2v1h-2zM320 298h3v1h-3zM326 298h7v1h-7zM375 298h6v1h-6zM384 298h7v1h-7zM399 298h2v1h-2zM407 298h9v1h-9zM423 298h9v1h-9zM436 298h2v1h-2zM440 298h6v1h-6zM464 298h12v1h-12zM521 298h6v1h-6zM528 298h2v1h-2zM539 298h1v1h-1zM544 298h17v1h-17zM563 298h6v1h-6zM573 298h5v1h-5zM580 298h13v1h-13zM599 298h14v1h-14zM643 298h3v1h-3zM649 298h8v1h-8zM664 298h3v1h-3zM692 298h9v1h-9zM702 298h2v1h-2zM707 298h2v1h-2zM727 298h2v1h-2zM742 298h3v1h-3zM763 298h5v1h-5zM349 296h2v4h-2zM151 298h3v2h-3zM195 298h3v2h-3zM200 298h10v2h-10zM214 298h7v2h-7zM223 298h5v2h-5zM417 298h2v2h-2zM448 298h2v2h-2zM497 298h9v2h-9zM627 298h13v2h-13zM716 298h4v2h-4zM144 299h2v1h-2zM163 299h4v1h-4zM189 299h1v1h-1zM232 299h8v1h-8zM241 299h11v1h-11zM254 299h23v1h-23zM281 299h2v1h-2zM287 299h3v1h-3zM313 299h5v1h-5zM327 299h5v1h-5zM339 299h3v1h-3zM346 299h1v1h-1zM354 299h3v1h-3zM361 299h1v1h-1zM373 299h8v1h-8zM385 299h4v1h-4zM399 299h1v1h-1zM406 299h10v1h-10zM440 299h5v1h-5zM465 299h2v1h-2zM469 299h5v1h-5zM491 299h2v1h-2zM521 299h11v1h-11zM544 299h10v1h-10zM556 299h5v1h-5zM565 299h1v1h-1zM572 299h6v1h-6zM581 299h11v1h-11zM597 299h16v1h-16zM643 299h4v1h-4zM648 299h6v1h-6zM655 299h2v1h-2zM665 299h2v1h-2zM669 299h17v1h-17zM690 299h14v1h-14zM728 299h1v1h-1zM733 299h1v1h-1zM741 299h4v1h-4zM169 299h12v2h-12zM291 299h4v2h-4zM320 299h4v2h-4zM145 300h1v1h-1zM150 300h4v1h-4zM164 300h3v1h-3zM196 300h3v1h-3zM200 300h12v1h-12zM224 300h3v1h-3zM233 300h7v1h-7zM242 300h34v1h-34zM281 300h1v1h-1zM314 300h4v1h-4zM328 300h4v1h-4zM338 300h5v1h-5zM349 300h3v1h-3zM353 300h3v1h-3zM386 300h3v1h-3zM406 300h12v1h-12zM441 300h4v1h-4zM449 300h1v1h-1zM492 300h1v1h-1zM497 300h10v1h-10zM544 300h9v1h-9zM556 300h4v1h-4zM571 300h7v1h-7zM581 300h10v1h-10zM596 300h18v1h-18zM626 300h14v1h-14zM643 300h10v1h-10zM656 300h1v1h-1zM666 300h17v1h-17zM690 300h4v1h-4zM696 300h8v1h-8zM741 300h3v1h-3zM752 300h1v1h-1zM300 299h4v3h-4zM308 299h3v3h-3zM424 299h14v3h-14zM763 299h4v3h-4zM189 300h2v2h-2zM215 300h7v2h-7zM286 300h4v2h-4zM371 300h10v2h-10zM480 300h1v2h-1zM520 300h14v2h-14zM715 300h3v2h-3zM728 300h6v2h-6zM149 301h5v1h-5zM164 301h11v1h-11zM179 301h6v1h-6zM203 301h8v1h-8zM224 301h2v1h-2zM233 301h9v1h-9zM243 301h7v1h-7zM314 301h3v1h-3zM319 301h6v1h-6zM342 301h1v1h-1zM349 301h7v1h-7zM406 301h11v1h-11zM442 301h4v1h-4zM461 301h1v1h-1zM496 301h4v1h-4zM540 301h1v1h-1zM544 301h7v1h-7zM552 301h1v1h-1zM570 301h4v1h-4zM576 301h3v1h-3zM582 301h11v1h-11zM596 301h17v1h-17zM626 301h6v1h-6zM642 301h10v1h-10zM656 301h4v1h-4zM675 301h8v1h-8zM690 301h3v1h-3zM696 301h9v1h-9zM712 301h1v1h-1zM746 301h2v1h-2zM136 298h6v5h-6zM469 300h2v3h-2zM252 301h23v2h-23zM331 301h1v2h-1zM338 301h3v2h-3zM503 301h4v2h-4zM619 301h2v2h-2zM665 301h8v2h-8zM751 301h3v2h-3zM149 302h7v1h-7zM164 302h10v1h-10zM216 302h6v1h-6zM232 302h10v1h-10zM244 302h5v1h-5zM288 302h1v1h-1zM299 302h6v1h-6zM315 302h1v1h-1zM319 302h7v1h-7zM372 302h9v1h-9zM405 302h6v1h-6zM412 302h6v1h-6zM424 302h1v1h-1zM442 302h5v1h-5zM460 302h4v1h-4zM496 302h3v1h-3zM528 302h7v1h-7zM539 302h2v1h-2zM543 302h4v1h-4zM570 302h3v1h-3zM576 302h17v1h-17zM596 302h2v1h-2zM601 302h11v1h-11zM625 302h7v1h-7zM641 302h12v1h-12zM675 302h9v1h-9zM689 302h3v1h-3zM696 302h10v1h-10zM725 302h1v1h-1zM728 302h4v1h-4zM747 302h2v1h-2zM197 301h4v3h-4zM556 301h2v3h-2zM741 301h2v3h-2zM205 302h6v2h-6zM349 302h4v2h-4zM427 302h11v2h-11zM655 302h7v2h-7zM138 303h5v1h-5zM150 303h8v1h-8zM163 303h11v1h-11zM215 303h3v1h-3zM219 303h3v1h-3zM230 303h13v1h-13zM244 303h4v1h-4zM253 303h22v1h-22zM313 303h4v1h-4zM318 303h4v1h-4zM325 303h1v1h-1zM331 303h2v1h-2zM356 303h2v1h-2zM376 303h5v1h-5zM404 303h5v1h-5zM416 303h2v1h-2zM422 303h3v1h-3zM441 303h6v1h-6zM469 303h3v1h-3zM476 303h2v1h-2zM497 303h2v1h-2zM513 303h2v1h-2zM538 303h9v1h-9zM569 303h4v1h-4zM576 303h18v1h-18zM601 303h3v1h-3zM607 303h4v1h-4zM618 303h3v1h-3zM624 303h8v1h-8zM641 303h4v1h-4zM646 303h8v1h-8zM679 303h7v1h-7zM688 303h5v1h-5zM695 303h6v1h-6zM702 303h4v1h-4zM721 303h11v1h-11zM747 303h7v1h-7zM492 301h2v4h-2zM635 301h4v4h-4zM181 302h5v3h-5zM764 302h4v3h-4zM298 303h7v2h-7zM338 303h2v2h-2zM460 303h5v2h-5zM529 303h6v2h-6zM665 303h11v2h-11zM139 304h4v1h-4zM150 304h9v1h-9zM160 304h10v1h-10zM172 304h1v1h-1zM197 304h1v1h-1zM213 304h4v1h-4zM246 304h2v1h-2zM255 304h11v1h-11zM269 304h9v1h-9zM312 304h10v1h-10zM326 304h1v1h-1zM332 304h2v1h-2zM351 304h3v1h-3zM377 304h3v1h-3zM421 304h9v1h-9zM433 304h5v1h-5zM440 304h8v1h-8zM475 304h3v1h-3zM513 304h3v1h-3zM538 304h5v1h-5zM544 304h4v1h-4zM568 304h5v1h-5zM575 304h17v1h-17zM602 304h2v1h-2zM617 304h9v1h-9zM627 304h4v1h-4zM632 304h1v1h-1zM641 304h3v1h-3zM646 304h16v1h-16zM682 304h24v1h-24zM720 304h12v1h-12zM741 304h1v1h-1zM747 304h6v1h-6zM386 301h1v5h-1zM206 304h5v2h-5zM220 304h2v2h-2zM230 304h14v2h-14zM403 304h4v2h-4zM468 304h4v2h-4zM608 304h4v2h-4zM140 305h2v1h-2zM151 305h14v1h-14zM168 305h2v1h-2zM180 305h6v1h-6zM212 305h5v1h-5zM247 305h1v1h-1zM256 305h2v1h-2zM260 305h3v1h-3zM269 305h5v1h-5zM275 305h4v1h-4zM299 305h3v1h-3zM312 305h12v1h-12zM332 305h3v1h-3zM352 305h2v1h-2zM377 305h2v1h-2zM381 305h1v1h-1zM420 305h10v1h-10zM441 305h1v1h-1zM454 305h2v1h-2zM459 305h3v1h-3zM463 305h3v1h-3zM514 305h2v1h-2zM528 305h7v1h-7zM545 305h4v1h-4zM554 305h1v1h-1zM616 305h14v1h-14zM632 305h6v1h-6zM647 305h12v1h-12zM664 305h12v1h-12zM683 305h14v1h-14zM698 305h8v1h-8zM356 304h3v3h-3zM398 304h2v3h-2zM444 305h4v2h-4zM491 305h3v2h-3zM568 305h24v2h-24zM720 305h11v2h-11zM152 306h13v1h-13zM207 306h15v1h-15zM230 306h4v1h-4zM270 306h4v1h-4zM276 306h3v1h-3zM290 306h1v1h-1zM313 306h10v1h-10zM343 306h4v1h-4zM352 306h1v1h-1zM368 306h2v1h-2zM381 306h2v1h-2zM387 306h1v1h-1zM403 306h3v1h-3zM422 306h8v1h-8zM453 306h5v1h-5zM459 306h13v1h-13zM527 306h7v1h-7zM545 306h5v1h-5zM566 306h1v1h-1zM608 306h5v1h-5zM615 306h14v1h-14zM632 306h3v1h-3zM648 306h5v1h-5zM674 306h5v1h-5zM685 306h11v1h-11zM698 306h7v1h-7zM736 306h2v1h-2zM756 306h3v1h-3zM538 305h4v3h-4zM764 305h3v3h-3zM140 306h1v2h-1zM178 306h8v2h-8zM235 306h15v2h-15zM332 306h4v2h-4zM504 306h1v2h-1zM654 306h5v2h-5zM664 306h7v2h-7zM153 307h12v1h-12zM207 307h16v1h-16zM271 307h3v1h-3zM276 307h4v1h-4zM290 307h2v1h-2zM316 307h7v1h-7zM343 307h5v1h-5zM367 307h3v1h-3zM377 307h2v1h-2zM387 307h2v1h-2zM399 307h7v1h-7zM423 307h7v1h-7zM453 307h6v1h-6zM460 307h12v1h-12zM485 307h2v1h-2zM527 307h2v1h-2zM530 307h5v1h-5zM546 307h4v1h-4zM565 307h26v1h-26zM608 307h4v1h-4zM614 307h15v1h-15zM632 307h4v1h-4zM650 307h2v1h-2zM675 307h4v1h-4zM686 307h10v1h-10zM697 307h9v1h-9zM719 307h9v1h-9zM735 307h3v1h-3zM741 307h1v1h-1zM755 307h4v1h-4zM746 305h4v4h-4zM553 306h2v3h-2zM197 307h1v2h-1zM230 307h3v2h-3zM308 307h3v2h-3zM357 307h2v2h-2zM443 307h4v2h-4zM491 307h4v2h-4zM136 308h1v1h-1zM139 308h3v1h-3zM153 308h6v1h-6zM161 308h4v1h-4zM172 308h2v1h-2zM177 308h8v1h-8zM188 308h2v1h-2zM194 308h1v1h-1zM207 308h12v1h-12zM225 308h3v1h-3zM267 308h1v1h-1zM271 308h9v1h-9zM290 308h3v1h-3zM317 308h2v1h-2zM333 308h2v1h-2zM345 308h3v1h-3zM361 308h1v1h-1zM368 308h2v1h-2zM393 308h2v1h-2zM399 308h8v1h-8zM455 308h4v1h-4zM482 308h1v1h-1zM484 308h5v1h-5zM523 308h1v1h-1zM526 308h2v1h-2zM531 308h5v1h-5zM539 308h2v1h-2zM565 308h25v1h-25zM608 308h28v1h-28zM642 308h1v1h-1zM655 308h3v1h-3zM663 308h3v1h-3zM667 308h4v1h-4zM676 308h2v1h-2zM686 308h20v1h-20zM734 308h4v1h-4zM754 308h5v1h-5zM763 308h5v1h-5zM221 308h2v2h-2zM235 308h16v2h-16zM297 308h5v2h-5zM321 308h2v2h-2zM376 308h3v2h-3zM386 308h3v2h-3zM424 308h6v2h-6zM461 308h12v2h-12zM546 308h2v2h-2zM718 308h10v2h-10zM152 309h6v1h-6zM162 309h3v1h-3zM172 309h8v1h-8zM181 309h4v1h-4zM188 309h4v1h-4zM193 309h2v1h-2zM209 309h10v1h-10zM225 309h8v1h-8zM268 309h1v1h-1zM270 309h10v1h-10zM304 309h2v1h-2zM307 309h4v1h-4zM329 309h5v1h-5zM358 309h4v1h-4zM393 309h3v1h-3zM399 309h10v1h-10zM413 309h2v1h-2zM456 309h3v1h-3zM481 309h8v1h-8zM521 309h8v1h-8zM532 309h4v1h-4zM540 309h2v1h-2zM554 309h2v1h-2zM565 309h24v1h-24zM609 309h28v1h-28zM657 309h1v1h-1zM662 309h3v1h-3zM669 309h4v1h-4zM686 309h15v1h-15zM703 309h3v1h-3zM729 309h9v1h-9zM744 309h5v1h-5zM754 309h2v1h-2zM758 309h2v1h-2zM762 309h6v1h-6zM136 309h6v2h-6zM258 309h2v2h-2zM289 309h4v2h-4zM444 309h3v2h-3zM492 309h9v2h-9zM152 310h4v1h-4zM161 310h4v1h-4zM182 310h13v1h-13zM204 310h1v1h-1zM225 310h4v1h-4zM230 310h21v1h-21zM268 310h12v1h-12zM298 310h13v1h-13zM360 310h2v1h-2zM376 310h2v1h-2zM385 310h5v1h-5zM392 310h4v1h-4zM400 310h9v1h-9zM423 310h5v1h-5zM457 310h1v1h-1zM462 310h11v1h-11zM480 310h7v1h-7zM533 310h4v1h-4zM539 310h4v1h-4zM553 310h3v1h-3zM568 310h6v1h-6zM575 310h14v1h-14zM609 310h3v1h-3zM613 310h24v1h-24zM658 310h6v1h-6zM669 310h5v1h-5zM681 310h1v1h-1zM685 310h16v1h-16zM718 310h9v1h-9zM728 310h10v1h-10zM739 310h3v1h-3zM743 310h5v1h-5zM753 310h4v1h-4zM758 310h10v1h-10zM173 310h7v2h-7zM209 310h3v2h-3zM213 310h10v2h-10zM413 310h3v2h-3zM520 310h9v2h-9zM547 310h1v2h-1zM564 310h3v2h-3zM151 311h4v1h-4zM183 311h15v1h-15zM203 311h2v1h-2zM226 311h12v1h-12zM240 311h11v1h-11zM258 311h6v1h-6zM269 311h11v1h-11zM289 311h5v1h-5zM299 311h14v1h-14zM319 311h2v1h-2zM361 311h1v1h-1zM369 311h3v1h-3zM377 311h1v1h-1zM400 311h8v1h-8zM421 311h8v1h-8zM430 311h2v1h-2zM445 311h1v1h-1zM461 311h6v1h-6zM470 311h3v1h-3zM492 311h8v1h-8zM502 311h3v1h-3zM553 311h5v1h-5zM559 311h1v1h-1zM568 311h4v1h-4zM575 311h4v1h-4zM581 311h7v1h-7zM600 311h1v1h-1zM609 311h2v1h-2zM632 311h4v1h-4zM707 311h3v1h-3zM718 311h8v1h-8zM753 311h15v1h-15zM328 310h6v3h-6zM136 311h7v2h-7zM479 311h7v2h-7zM534 311h9v2h-9zM614 311h14v2h-14zM658 311h5v2h-5zM669 311h6v2h-6zM680 311h22v2h-22zM728 311h20v2h-20zM184 312h11v1h-11zM196 312h5v1h-5zM203 312h3v1h-3zM209 312h15v1h-15zM227 312h11v1h-11zM241 312h9v1h-9zM270 312h11v1h-11zM290 312h4v1h-4zM299 312h9v1h-9zM309 312h3v1h-3zM318 312h6v1h-6zM361 312h2v1h-2zM368 312h4v1h-4zM376 312h3v1h-3zM406 312h1v1h-1zM418 312h1v1h-1zM421 312h12v1h-12zM448 312h1v1h-1zM461 312h5v1h-5zM471 312h6v1h-6zM502 312h5v1h-5zM519 312h4v1h-4zM582 312h5v1h-5zM607 312h1v1h-1zM633 312h3v1h-3zM643 312h4v1h-4zM707 312h4v1h-4zM718 312h4v1h-4zM753 312h14v1h-14zM385 311h11v3h-11zM175 312h4v2h-4zM401 312h4v2h-4zM412 312h4v2h-4zM547 312h2v2h-2zM552 312h10v2h-10zM565 312h2v2h-2zM573 312h5v2h-5zM595 312h1v2h-1zM137 313h6v1h-6zM203 313h4v1h-4zM208 313h16v1h-16zM233 313h5v1h-5zM271 313h14v1h-14zM289 313h6v1h-6zM310 313h1v1h-1zM317 313h7v1h-7zM328 313h7v1h-7zM348 313h2v1h-2zM369 313h3v1h-3zM398 313h2v1h-2zM422 313h8v1h-8zM432 313h4v1h-4zM447 313h3v1h-3zM461 313h7v1h-7zM470 313h16v1h-16zM503 313h4v1h-4zM520 313h2v1h-2zM533 313h11v1h-11zM615 313h6v1h-6zM624 313h3v1h-3zM652 313h1v1h-1zM659 313h3v1h-3zM669 313h5v1h-5zM679 313h6v1h-6zM686 313h11v1h-11zM698 313h5v1h-5zM707 313h3v1h-3zM716 313h4v1h-4zM753 313h12v1h-12zM161 311h3v4h-3zM149 312h6v3h-6zM259 312h5v3h-5zM524 312h6v3h-6zM188 313h6v2h-6zM228 313h3v2h-3zM297 313h11v2h-11zM360 313h3v2h-3zM376 313h4v2h-4zM728 313h5v2h-5zM736 313h12v2h-12zM138 314h5v1h-5zM204 314h20v1h-20zM234 314h3v1h-3zM272 314h14v1h-14zM310 314h2v1h-2zM329 314h7v1h-7zM338 314h3v1h-3zM347 314h5v1h-5zM386 314h4v1h-4zM391 314h9v1h-9zM402 314h4v1h-4zM446 314h4v1h-4zM456 314h3v1h-3zM460 314h12v1h-12zM473 314h10v1h-10zM485 314h2v1h-2zM504 314h4v1h-4zM532 314h13v1h-13zM546 314h3v1h-3zM551 314h18v1h-18zM590 314h3v1h-3zM614 314h6v1h-6zM651 314h3v1h-3zM670 314h3v1h-3zM687 314h17v1h-17zM707 314h2v1h-2zM753 314h11v1h-11zM490 312h10v4h-10zM197 313h3v3h-3zM241 313h7v3h-7zM417 313h3v3h-3zM606 313h2v3h-2zM288 314h8v2h-8zM316 314h8v2h-8zM411 314h3v2h-3zM422 314h3v2h-3zM427 314h3v2h-3zM433 314h5v2h-5zM574 314h3v2h-3zM676 314h9v2h-9zM715 314h5v2h-5zM149 315h5v1h-5zM188 315h2v1h-2zM191 315h3v1h-3zM205 315h1v1h-1zM208 315h16v1h-16zM229 315h1v1h-1zM259 315h7v1h-7zM275 315h4v1h-4zM281 315h6v1h-6zM300 315h13v1h-13zM330 315h11v1h-11zM348 315h4v1h-4zM377 315h2v1h-2zM383 315h6v1h-6zM391 315h8v1h-8zM402 315h5v1h-5zM442 315h9v1h-9zM455 315h17v1h-17zM474 315h9v1h-9zM484 315h4v1h-4zM525 315h6v1h-6zM532 315h2v1h-2zM535 315h35v1h-35zM579 315h1v1h-1zM583 315h2v1h-2zM589 315h4v1h-4zM613 315h7v1h-7zM650 315h4v1h-4zM687 315h19v1h-19zM728 315h3v1h-3zM736 315h11v1h-11zM754 315h9v1h-9zM138 315h4v2h-4zM161 315h2v2h-2zM234 315h4v2h-4zM505 315h2v2h-2zM597 315h1v2h-1zM187 316h8v1h-8zM196 316h6v1h-6zM209 316h14v1h-14zM241 316h8v1h-8zM258 316h8v1h-8zM275 316h3v1h-3zM283 316h13v1h-13zM300 316h7v1h-7zM309 316h4v1h-4zM316 316h4v1h-4zM322 316h2v1h-2zM329 316h14v1h-14zM382 316h7v1h-7zM395 316h2v1h-2zM401 316h7v1h-7zM416 316h4v1h-4zM422 316h4v1h-4zM428 316h2v1h-2zM441 316h11v1h-11zM454 316h20v1h-20zM475 316h2v1h-2zM484 316h16v1h-16zM525 316h8v1h-8zM536 316h5v1h-5zM542 316h28v1h-28zM575 316h2v1h-2zM588 316h5v1h-5zM605 316h2v1h-2zM611 316h9v1h-9zM649 316h5v1h-5zM656 316h2v1h-2zM660 316h4v1h-4zM677 316h13v1h-13zM691 316h15v1h-15zM715 316h7v1h-7zM755 316h9v1h-9zM183 313h3v5h-3zM359 315h4v3h-4zM149 316h2v2h-2zM349 316h3v2h-3zM370 316h1v2h-1zM373 316h3v2h-3zM478 316h5v2h-5zM578 316h8v2h-8zM728 316h2v2h-2zM736 316h10v2h-10zM138 317h3v1h-3zM161 317h1v1h-1zM187 317h16v1h-16zM209 317h11v1h-11zM234 317h5v1h-5zM240 317h4v1h-4zM246 317h5v1h-5zM257 317h3v1h-3zM262 317h4v1h-4zM270 317h1v1h-1zM288 317h8v1h-8zM310 317h4v1h-4zM315 317h4v1h-4zM328 317h5v1h-5zM335 317h9v1h-9zM382 317h6v1h-6zM415 317h6v1h-6zM422 317h9v1h-9zM441 317h17v1h-17zM459 317h15v1h-15zM484 317h7v1h-7zM492 317h7v1h-7zM526 317h7v1h-7zM536 317h4v1h-4zM543 317h6v1h-6zM551 317h19v1h-19zM587 317h6v1h-6zM611 317h6v1h-6zM649 317h16v1h-16zM676 317h2v1h-2zM679 317h11v1h-11zM691 317h4v1h-4zM718 317h5v1h-5zM754 317h5v1h-5zM760 317h4v1h-4zM275 317h2v2h-2zM301 317h5v2h-5zM395 317h3v2h-3zM400 317h11v2h-11zM604 317h2v2h-2zM618 317h2v2h-2zM696 317h4v2h-4zM714 317h3v2h-3zM139 318h2v1h-2zM150 318h1v1h-1zM175 318h3v1h-3zM209 318h9v1h-9zM235 318h8v1h-8zM247 318h8v1h-8zM256 318h4v1h-4zM264 318h1v1h-1zM288 318h4v1h-4zM294 318h2v1h-2zM312 318h2v1h-2zM315 318h3v1h-3zM327 318h5v1h-5zM336 318h8v1h-8zM350 318h2v1h-2zM374 318h2v1h-2zM383 318h5v1h-5zM443 318h14v1h-14zM460 318h15v1h-15zM476 318h6v1h-6zM486 318h5v1h-5zM494 318h2v1h-2zM497 318h3v1h-3zM535 318h5v1h-5zM545 318h3v1h-3zM566 318h4v1h-4zM579 318h12v1h-12zM612 318h4v1h-4zM649 318h17v1h-17zM675 318h3v1h-3zM718 318h8v1h-8zM728 318h3v1h-3zM735 318h12v1h-12zM754 318h10v1h-10zM766 318h2v1h-2zM189 318h14v2h-14zM269 318h3v2h-3zM414 318h17v2h-17zM527 318h6v2h-6zM551 318h13v2h-13zM680 318h14v2h-14zM174 319h4v1h-4zM213 319h5v1h-5zM250 319h9v1h-9zM304 319h2v1h-2zM312 319h1v1h-1zM316 319h2v1h-2zM326 319h5v1h-5zM337 319h7v1h-7zM351 319h1v1h-1zM375 319h1v1h-1zM384 319h3v1h-3zM395 319h15v1h-15zM444 319h12v1h-12zM460 319h19v1h-19zM480 319h2v1h-2zM494 319h1v1h-1zM498 319h2v1h-2zM518 319h5v1h-5zM534 319h5v1h-5zM566 319h5v1h-5zM604 319h3v1h-3zM615 319h6v1h-6zM649 319h16v1h-16zM668 319h2v1h-2zM708 319h2v1h-2zM727 319h4v1h-4zM734 319h13v1h-13zM748 319h2v1h-2zM754 319h14v1h-14zM235 319h7v2h-7zM487 319h5v2h-5zM541 319h2v2h-2zM697 319h2v2h-2zM714 319h12v2h-12zM173 320h3v1h-3zM190 320h3v1h-3zM196 320h7v1h-7zM214 320h4v1h-4zM251 320h6v1h-6zM265 320h1v1h-1zM296 320h2v1h-2zM312 320h2v1h-2zM315 320h3v1h-3zM320 320h1v1h-1zM338 320h5v1h-5zM380 320h2v1h-2zM397 320h12v1h-12zM414 320h14v1h-14zM429 320h2v1h-2zM445 320h1v1h-1zM447 320h8v1h-8zM460 320h7v1h-7zM471 320h7v1h-7zM481 320h2v1h-2zM498 320h1v1h-1zM528 320h12v1h-12zM572 320h1v1h-1zM597 320h1v1h-1zM604 320h2v1h-2zM617 320h4v1h-4zM626 320h2v1h-2zM644 320h7v1h-7zM652 320h13v1h-13zM681 320h13v1h-13zM733 320h17v1h-17zM762 320h6v1h-6zM580 319h10v3h-10zM674 319h4v3h-4zM507 320h2v2h-2zM517 320h6v2h-6zM550 320h21v2h-21zM667 320h2v2h-2zM727 320h3v2h-3zM754 320h7v2h-7zM174 321h2v1h-2zM197 321h7v1h-7zM214 321h3v1h-3zM229 321h1v1h-1zM235 321h6v1h-6zM251 321h5v1h-5zM265 321h2v1h-2zM305 321h1v1h-1zM311 321h13v1h-13zM355 321h1v1h-1zM397 321h4v1h-4zM403 321h5v1h-5zM415 321h12v1h-12zM461 321h5v1h-5zM472 321h6v1h-6zM481 321h1v1h-1zM487 321h7v1h-7zM529 321h14v1h-14zM618 321h2v1h-2zM626 321h3v1h-3zM643 321h7v1h-7zM654 321h1v1h-1zM658 321h7v1h-7zM682 321h12v1h-12zM696 321h4v1h-4zM715 321h4v1h-4zM720 321h6v1h-6zM733 321h15v1h-15zM326 320h3v3h-3zM448 321h7v2h-7zM596 321h3v2h-3zM609 321h1v2h-1zM763 321h4v2h-4zM179 322h1v1h-1zM197 322h11v1h-11zM229 322h4v1h-4zM270 322h1v1h-1zM304 322h3v1h-3zM312 322h13v1h-13zM354 322h3v1h-3zM404 322h3v1h-3zM422 322h6v1h-6zM436 322h1v1h-1zM462 322h3v1h-3zM471 322h7v1h-7zM487 322h5v1h-5zM494 322h1v1h-1zM497 322h1v1h-1zM507 322h3v1h-3zM517 322h9v1h-9zM531 322h10v1h-10zM550 322h12v1h-12zM563 322h8v1h-8zM580 322h2v1h-2zM586 322h4v1h-4zM619 322h5v1h-5zM645 322h4v1h-4zM653 322h2v1h-2zM658 322h6v1h-6zM666 322h3v1h-3zM674 322h3v1h-3zM682 322h7v1h-7zM691 322h3v1h-3zM696 322h2v1h-2zM721 322h5v1h-5zM727 322h2v1h-2zM733 322h1v1h-1zM739 322h9v1h-9zM296 321h4v3h-4zM338 321h3v3h-3zM236 322h4v2h-4zM397 322h3v2h-3zM415 322h6v2h-6zM603 322h2v2h-2zM715 322h3v2h-3zM179 323h3v1h-3zM193 323h1v1h-1zM196 323h6v1h-6zM219 323h2v1h-2zM270 323h2v1h-2zM303 323h3v1h-3zM311 323h14v1h-14zM326 323h4v1h-4zM376 323h2v1h-2zM422 323h7v1h-7zM436 323h2v1h-2zM448 323h2v1h-2zM451 323h4v1h-4zM462 323h4v1h-4zM471 323h5v1h-5zM494 323h5v1h-5zM506 323h6v1h-6zM532 323h9v1h-9zM550 323h8v1h-8zM559 323h2v1h-2zM564 323h6v1h-6zM580 323h3v1h-3zM595 323h5v1h-5zM618 323h7v1h-7zM646 323h3v1h-3zM652 323h3v1h-3zM657 323h7v1h-7zM665 323h4v1h-4zM682 323h6v1h-6zM691 323h2v1h-2zM696 323h1v1h-1zM701 323h1v1h-1zM722 323h4v1h-4zM728 323h1v1h-1zM739 323h10v1h-10zM764 323h2v1h-2zM213 322h3v3h-3zM250 322h5v3h-5zM204 323h4v2h-4zM230 323h4v2h-4zM355 323h2v2h-2zM404 323h1v2h-1zM488 323h4v2h-4zM523 323h6v2h-6zM589 323h3v2h-3zM675 323h2v2h-2zM192 324h3v1h-3zM196 324h4v1h-4zM225 324h2v1h-2zM269 324h2v1h-2zM274 324h1v1h-1zM303 324h2v1h-2zM308 324h5v1h-5zM316 324h8v1h-8zM337 324h4v1h-4zM376 324h1v1h-1zM397 324h1v1h-1zM418 324h11v1h-11zM436 324h5v1h-5zM447 324h3v1h-3zM452 324h5v1h-5zM461 324h6v1h-6zM470 324h5v1h-5zM495 324h1v1h-1zM497 324h2v1h-2zM505 324h8v1h-8zM534 324h7v1h-7zM551 324h5v1h-5zM579 324h4v1h-4zM617 324h8v1h-8zM646 324h2v1h-2zM651 324h4v1h-4zM657 324h11v1h-11zM700 324h3v1h-3zM716 324h3v1h-3zM722 324h3v1h-3zM739 324h5v1h-5zM747 324h2v1h-2zM764 324h1v1h-1zM641 322h2v4h-2zM517 323h5v3h-5zM178 324h5v2h-5zM219 324h3v2h-3zM237 324h1v2h-1zM297 324h2v2h-2zM412 324h4v2h-4zM560 324h9v2h-9zM603 324h3v2h-3zM681 324h8v2h-8zM161 325h4v1h-4zM176 325h1v1h-1zM191 325h3v1h-3zM203 325h3v1h-3zM213 325h2v1h-2zM226 325h9v1h-9zM257 325h1v1h-1zM308 325h4v1h-4zM316 325h4v1h-4zM337 325h5v1h-5zM400 325h5v1h-5zM419 325h9v1h-9zM445 325h22v1h-22zM498 325h1v1h-1zM504 325h12v1h-12zM523 325h7v1h-7zM536 325h6v1h-6zM551 325h4v1h-4zM570 325h2v1h-2zM579 325h5v1h-5zM588 325h4v1h-4zM616 325h9v1h-9zM645 325h2v1h-2zM659 325h9v1h-9zM700 325h2v1h-2zM717 325h3v1h-3zM740 325h4v1h-4zM747 325h4v1h-4zM325 324h6v3h-6zM594 324h6v3h-6zM696 324h2v3h-2zM268 325h2v2h-2zM274 325h2v2h-2zM436 325h6v2h-6zM469 325h6v2h-6zM489 325h3v2h-3zM638 325h1v2h-1zM144 326h2v1h-2zM170 326h3v1h-3zM174 326h3v1h-3zM180 326h2v1h-2zM203 326h4v1h-4zM208 326h2v1h-2zM214 326h2v1h-2zM219 326h4v1h-4zM228 326h11v1h-11zM292 326h2v1h-2zM296 326h2v1h-2zM308 326h3v1h-3zM317 326h3v1h-3zM338 326h5v1h-5zM400 326h6v1h-6zM413 326h3v1h-3zM444 326h24v1h-24zM503 326h18v1h-18zM540 326h7v1h-7zM559 326h10v1h-10zM579 326h7v1h-7zM587 326h4v1h-4zM602 326h5v1h-5zM615 326h6v1h-6zM622 326h5v1h-5zM645 326h1v1h-1zM661 326h2v1h-2zM665 326h3v1h-3zM671 326h2v1h-2zM681 326h5v1h-5zM688 326h1v1h-1zM700 326h1v1h-1zM718 326h2v1h-2zM739 326h4v1h-4zM747 326h5v1h-5zM755 322h7v6h-7zM723 325h2v3h-2zM159 326h6v2h-6zM257 326h2v2h-2zM419 326h6v2h-6zM524 326h5v2h-5zM551 326h5v2h-5zM570 326h3v2h-3zM765 326h3v2h-3zM169 327h6v1h-6zM204 327h6v1h-6zM220 327h2v1h-2zM229 327h12v1h-12zM266 327h5v1h-5zM292 327h6v1h-6zM340 327h2v1h-2zM358 327h2v1h-2zM400 327h7v1h-7zM409 327h2v1h-2zM432 327h2v1h-2zM435 327h6v1h-6zM444 327h11v1h-11zM489 327h2v1h-2zM503 327h4v1h-4zM508 327h12v1h-12zM541 327h7v1h-7zM558 327h6v1h-6zM566 327h2v1h-2zM579 327h11v1h-11zM594 327h13v1h-13zM623 327h7v1h-7zM671 327h1v1h-1zM684 327h2v1h-2zM697 327h4v1h-4zM719 327h1v1h-1zM746 327h6v1h-6zM648 325h6v4h-6zM136 327h1v2h-1zM262 327h1v2h-1zM278 327h2v2h-2zM324 327h7v2h-7zM459 327h16v2h-16zM611 327h9v2h-9zM154 328h2v1h-2zM170 328h4v1h-4zM188 328h1v1h-1zM206 328h3v1h-3zM229 328h13v1h-13zM249 328h2v1h-2zM266 328h6v1h-6zM293 328h2v1h-2zM356 328h5v1h-5zM399 328h8v1h-8zM409 328h3v1h-3zM419 328h9v1h-9zM432 328h6v1h-6zM444 328h7v1h-7zM489 328h1v1h-1zM502 328h9v1h-9zM513 328h7v1h-7zM524 328h6v1h-6zM533 328h3v1h-3zM543 328h6v1h-6zM552 328h12v1h-12zM570 328h4v1h-4zM578 328h2v1h-2zM583 328h7v1h-7zM594 328h10v1h-10zM622 328h9v1h-9zM732 328h1v1h-1zM747 328h15v1h-15zM143 327h4v3h-4zM317 327h4v3h-4zM660 327h2v3h-2zM665 327h4v3h-4zM711 327h1v3h-1zM161 328h5v2h-5zM255 328h1v2h-1zM698 328h4v2h-4zM718 328h2v2h-2zM764 328h4v2h-4zM153 329h4v1h-4zM158 329h1v1h-1zM171 329h3v1h-3zM193 329h4v1h-4zM229 329h6v1h-6zM237 329h5v1h-5zM250 329h1v1h-1zM262 329h2v1h-2zM267 329h5v1h-5zM323 329h7v1h-7zM355 329h5v1h-5zM388 329h1v1h-1zM394 329h3v1h-3zM419 329h10v1h-10zM444 329h6v1h-6zM460 329h8v1h-8zM473 329h5v1h-5zM480 329h1v1h-1zM501 329h3v1h-3zM505 329h6v1h-6zM514 329h6v1h-6zM524 329h3v1h-3zM544 329h5v1h-5zM552 329h15v1h-15zM571 329h4v1h-4zM585 329h5v1h-5zM594 329h1v1h-1zM597 329h5v1h-5zM612 329h9v1h-9zM622 329h2v1h-2zM629 329h4v1h-4zM649 329h8v1h-8zM724 329h2v1h-2zM731 329h2v1h-2zM753 329h10v1h-10zM739 327h3v4h-3zM408 329h4v2h-4zM431 329h6v2h-6zM489 329h2v2h-2zM529 329h7v2h-7zM577 329h2v2h-2zM747 329h3v2h-3zM141 330h6v1h-6zM157 330h3v1h-3zM162 330h4v1h-4zM171 330h2v1h-2zM192 330h5v1h-5zM205 330h2v1h-2zM229 330h4v1h-4zM263 330h2v1h-2zM270 330h2v1h-2zM317 330h2v1h-2zM323 330h3v1h-3zM327 330h2v1h-2zM355 330h4v1h-4zM419 330h11v1h-11zM443 330h4v1h-4zM448 330h2v1h-2zM465 330h3v1h-3zM473 330h8v1h-8zM500 330h4v1h-4zM505 330h15v1h-15zM541 330h2v1h-2zM546 330h4v1h-4zM551 330h17v1h-17zM573 330h3v1h-3zM587 330h2v1h-2zM590 330h1v1h-1zM613 330h11v1h-11zM629 330h6v1h-6zM650 330h7v1h-7zM666 330h2v1h-2zM674 330h5v1h-5zM709 330h3v1h-3zM724 330h4v1h-4zM753 330h15v1h-15zM402 329h5v3h-5zM241 330h2v2h-2zM387 330h4v2h-4zM393 330h5v2h-5zM698 330h3v2h-3zM718 330h3v2h-3zM138 331h4v1h-4zM152 331h1v1h-1zM168 331h2v1h-2zM191 331h6v1h-6zM229 331h3v1h-3zM286 331h6v1h-6zM324 331h1v1h-1zM356 331h2v1h-2zM368 331h2v1h-2zM375 331h1v1h-1zM382 331h1v1h-1zM409 331h3v1h-3zM420 331h9v1h-9zM431 331h4v1h-4zM443 331h7v1h-7zM465 331h2v1h-2zM490 331h2v1h-2zM500 331h15v1h-15zM541 331h3v1h-3zM547 331h21v1h-21zM591 331h1v1h-1zM624 331h1v1h-1zM631 331h2v1h-2zM636 331h3v1h-3zM650 331h4v1h-4zM675 331h5v1h-5zM704 331h3v1h-3zM708 331h4v1h-4zM723 331h7v1h-7zM746 331h4v1h-4zM752 331h16v1h-16zM598 330h4v3h-4zM158 331h7v2h-7zM211 331h2v2h-2zM263 331h3v2h-3zM318 331h1v2h-1zM417 331h1v2h-1zM476 331h6v2h-6zM528 331h8v2h-8zM614 331h7v2h-7zM739 331h4v2h-4zM139 332h2v1h-2zM151 332h2v1h-2zM167 332h3v1h-3zM190 332h6v1h-6zM285 332h13v1h-13zM323 332h2v1h-2zM365 332h6v1h-6zM374 332h2v1h-2zM387 332h3v1h-3zM393 332h3v1h-3zM402 332h6v1h-6zM409 332h2v1h-2zM420 332h8v1h-8zM444 332h7v1h-7zM490 332h3v1h-3zM499 332h16v1h-16zM519 332h5v1h-5zM542 332h2v1h-2zM550 332h18v1h-18zM580 332h2v1h-2zM624 332h2v1h-2zM634 332h6v1h-6zM649 332h5v1h-5zM669 332h3v1h-3zM676 332h4v1h-4zM683 332h1v1h-1zM698 332h2v1h-2zM717 332h4v1h-4zM745 332h23v1h-23zM204 331h3v3h-3zM229 332h4v2h-4zM242 332h2v2h-2zM381 332h4v2h-4zM441 332h1v2h-1zM690 332h2v2h-2zM724 332h6v2h-6zM159 333h6v1h-6zM166 333h4v1h-4zM190 333h5v1h-5zM209 333h3v1h-3zM282 333h16v1h-16zM317 333h2v1h-2zM322 333h3v1h-3zM332 333h3v1h-3zM364 333h8v1h-8zM373 333h4v1h-4zM387 333h2v1h-2zM402 333h3v1h-3zM406 333h3v1h-3zM421 333h7v1h-7zM445 333h4v1h-4zM451 333h3v1h-3zM490 333h2v1h-2zM497 333h18v1h-18zM518 333h18v1h-18zM542 333h3v1h-3zM555 333h6v1h-6zM562 333h6v1h-6zM580 333h3v1h-3zM598 333h5v1h-5zM615 333h4v1h-4zM634 333h7v1h-7zM642 333h1v1h-1zM648 333h6v1h-6zM662 333h1v1h-1zM669 333h4v1h-4zM677 333h3v1h-3zM739 333h1v1h-1zM741 333h2v1h-2zM745 333h16v1h-16zM221 332h2v3h-2zM150 333h5v2h-5zM341 333h3v2h-3zM416 333h1v2h-1zM479 333h3v2h-3zM551 333h2v2h-2zM624 333h3v2h-3zM763 333h5v2h-5zM192 334h2v1h-2zM229 334h6v1h-6zM281 334h18v1h-18zM316 334h3v1h-3zM323 334h2v1h-2zM331 334h5v1h-5zM364 334h13v1h-13zM400 334h4v1h-4zM407 334h1v1h-1zM452 334h1v1h-1zM504 334h11v1h-11zM517 334h19v1h-19zM542 334h4v1h-4zM555 334h5v1h-5zM562 334h3v1h-3zM568 334h2v1h-2zM574 334h1v1h-1zM616 334h1v1h-1zM634 334h11v1h-11zM647 334h7v1h-7zM661 334h2v1h-2zM668 334h5v1h-5zM678 334h3v1h-3zM684 334h4v1h-4zM724 334h10v1h-10zM738 334h1v1h-1zM744 334h4v1h-4zM749 334h11v1h-11zM591 332h4v4h-4zM462 333h2v3h-2zM716 333h4v3h-4zM138 334h3v2h-3zM159 334h10v2h-10zM174 334h2v2h-2zM208 334h4v2h-4zM246 334h2v2h-2zM381 334h8v2h-8zM422 334h6v2h-6zM491 334h1v2h-1zM497 334h4v2h-4zM581 334h3v2h-3zM600 334h3v2h-3zM148 335h4v1h-4zM154 335h2v1h-2zM221 335h1v1h-1zM230 335h6v1h-6zM267 335h1v1h-1zM281 335h10v1h-10zM328 335h8v1h-8zM342 335h2v1h-2zM364 335h3v1h-3zM368 335h5v1h-5zM374 335h4v1h-4zM399 335h6v1h-6zM414 335h2v1h-2zM432 335h4v1h-4zM438 335h1v1h-1zM480 335h2v1h-2zM505 335h10v1h-10zM516 335h6v1h-6zM525 335h7v1h-7zM535 335h1v1h-1zM543 335h2v1h-2zM554 335h6v1h-6zM563 335h2v1h-2zM568 335h3v1h-3zM635 335h2v1h-2zM639 335h6v1h-6zM649 335h5v1h-5zM661 335h1v1h-1zM666 335h7v1h-7zM677 335h4v1h-4zM685 335h2v1h-2zM696 335h1v1h-1zM724 335h9v1h-9zM749 335h12v1h-12zM767 335h1v1h-1zM704 332h8v5h-8zM316 335h5v2h-5zM610 335h2v2h-2zM623 335h5v2h-5zM744 335h3v2h-3zM138 336h2v1h-2zM158 336h5v1h-5zM166 336h3v1h-3zM207 336h6v1h-6zM230 336h5v1h-5zM247 336h1v1h-1zM255 336h4v1h-4zM326 336h11v1h-11zM338 336h2v1h-2zM358 336h1v1h-1zM364 336h2v1h-2zM370 336h2v1h-2zM375 336h3v1h-3zM385 336h7v1h-7zM393 336h4v1h-4zM398 336h7v1h-7zM423 336h6v1h-6zM431 336h8v1h-8zM463 336h1v1h-1zM480 336h4v1h-4zM490 336h2v1h-2zM496 336h5v1h-5zM506 336h9v1h-9zM517 336h4v1h-4zM526 336h1v1h-1zM529 336h3v1h-3zM554 336h5v1h-5zM564 336h1v1h-1zM568 336h4v1h-4zM581 336h4v1h-4zM592 336h3v1h-3zM598 336h2v1h-2zM651 336h3v1h-3zM665 336h8v1h-8zM695 336h2v1h-2zM715 336h7v1h-7zM723 336h6v1h-6zM749 336h13v1h-13zM293 335h5v3h-5zM147 336h4v2h-4zM280 336h11v2h-11zM410 336h4v2h-4zM638 336h6v2h-6zM676 336h5v2h-5zM136 337h3v1h-3zM158 337h4v1h-4zM167 337h1v1h-1zM207 337h7v1h-7zM225 337h2v1h-2zM230 337h4v1h-4zM254 337h6v1h-6zM317 337h6v1h-6zM326 337h15v1h-15zM365 337h1v1h-1zM381 337h1v1h-1zM392 337h12v1h-12zM423 337h16v1h-16zM462 337h2v1h-2zM467 337h1v1h-1zM476 337h1v1h-1zM481 337h3v1h-3zM497 337h3v1h-3zM508 337h3v1h-3zM517 337h3v1h-3zM530 337h2v1h-2zM555 337h4v1h-4zM563 337h2v1h-2zM571 337h1v1h-1zM583 337h2v1h-2zM593 337h2v1h-2zM597 337h2v1h-2zM611 337h1v1h-1zM624 337h4v1h-4zM652 337h2v1h-2zM666 337h5v1h-5zM694 337h2v1h-2zM741 337h1v1h-1zM743 337h4v1h-4zM749 337h14v1h-14zM267 336h2v3h-2zM576 336h1v3h-1zM705 337h7v2h-7zM714 337h15v2h-15zM136 338h4v1h-4zM141 338h2v1h-2zM146 338h4v1h-4zM181 338h1v1h-1zM190 338h2v1h-2zM224 338h9v1h-9zM250 338h2v1h-2zM253 338h10v1h-10zM280 338h8v1h-8zM308 338h1v1h-1zM316 338h8v1h-8zM325 338h6v1h-6zM333 338h3v1h-3zM338 338h3v1h-3zM380 338h5v1h-5zM393 338h6v1h-6zM411 338h2v1h-2zM425 338h14v1h-14zM466 338h2v1h-2zM476 338h2v1h-2zM481 338h4v1h-4zM518 338h1v1h-1zM522 338h3v1h-3zM529 338h5v1h-5zM535 338h4v1h-4zM555 338h5v1h-5zM562 338h3v1h-3zM594 338h2v1h-2zM605 338h9v1h-9zM625 338h2v1h-2zM652 338h4v1h-4zM666 338h2v1h-2zM677 338h3v1h-3zM689 338h1v1h-1zM693 338h2v1h-2zM735 338h29v1h-29zM147 339h4v1h-4zM154 339h1v1h-1zM180 339h5v1h-5zM188 339h5v1h-5zM218 339h3v1h-3zM223 339h9v1h-9zM246 339h42v1h-42zM307 339h6v1h-6zM314 339h15v1h-15zM334 339h1v1h-1zM380 339h1v1h-1zM383 339h3v1h-3zM395 339h5v1h-5zM431 339h3v1h-3zM470 339h15v1h-15zM521 339h19v1h-19zM548 339h2v1h-2zM551 339h7v1h-7zM572 339h8v1h-8zM603 339h12v1h-12zM626 339h1v1h-1zM688 339h7v1h-7zM701 339h1v1h-1zM705 339h1v1h-1zM710 339h3v1h-3zM714 339h16v1h-16zM733 339h30v1h-30zM150 340h2v1h-2zM170 340h11v1h-11zM189 340h3v1h-3zM194 340h12v1h-12zM207 340h22v1h-22zM231 340h1v1h-1zM233 340h2v1h-2zM243 340h32v1h-32zM276 340h5v1h-5zM282 340h6v1h-6zM299 340h2v1h-2zM303 340h25v1h-25zM353 340h1v1h-1zM377 340h1v1h-1zM381 340h1v1h-1zM385 340h1v1h-1zM396 340h4v1h-4zM464 340h22v1h-22zM502 340h4v1h-4zM527 340h2v1h-2zM535 340h7v1h-7zM570 340h10v1h-10zM609 340h5v1h-5zM646 340h4v1h-4zM660 340h8v1h-8zM686 340h7v1h-7zM711 340h1v1h-1zM715 340h7v1h-7zM726 340h3v1h-3zM736 340h1v1h-1zM745 340h23v1h-23zM426 339h2v3h-2zM164 341h4v1h-4zM170 341h10v1h-10zM195 341h25v1h-25zM245 341h3v1h-3zM250 341h9v1h-9zM261 341h2v1h-2zM285 341h2v1h-2zM293 341h3v1h-3zM297 341h23v1h-23zM321 341h2v1h-2zM460 341h19v1h-19zM482 341h1v1h-1zM485 341h1v1h-1zM489 341h1v1h-1zM503 341h3v1h-3zM570 341h7v1h-7zM615 341h2v1h-2zM641 341h16v1h-16zM658 341h12v1h-12zM687 341h1v1h-1zM716 341h3v1h-3zM753 341h2v1h-2zM759 341h9v1h-9zM373 341h10v2h-10zM136 342h4v1h-4zM166 342h1v1h-1zM172 342h2v1h-2zM208 342h2v1h-2zM211 342h3v1h-3zM244 342h9v1h-9zM295 342h6v1h-6zM302 342h4v1h-4zM308 342h5v1h-5zM330 342h2v1h-2zM333 342h2v1h-2zM371 342h1v1h-1zM459 342h19v1h-19zM485 342h7v1h-7zM570 342h1v1h-1zM573 342h1v1h-1zM616 342h2v1h-2zM652 342h16v1h-16zM764 342h2v2h-2zM136 343h6v1h-6zM147 343h1v1h-1zM150 343h1v1h-1zM212 343h1v1h-1zM242 343h12v1h-12zM329 343h8v1h-8zM370 343h3v1h-3zM374 343h4v1h-4zM395 343h2v1h-2zM459 343h15v1h-15zM482 343h15v1h-15zM503 343h5v1h-5zM511 343h1v1h-1zM543 343h4v1h-4zM612 343h1v1h-1zM615 343h4v1h-4zM622 343h9v1h-9zM663 343h4v1h-4zM139 344h21v1h-21zM181 344h4v1h-4zM211 344h1v1h-1zM242 344h18v1h-18zM266 344h2v1h-2zM303 344h1v1h-1zM330 344h8v1h-8zM362 344h5v1h-5zM369 344h4v1h-4zM374 344h2v1h-2zM390 344h8v1h-8zM443 344h11v1h-11zM459 344h1v1h-1zM464 344h4v1h-4zM481 344h41v1h-41zM532 344h13v1h-13zM612 344h19v1h-19zM663 344h1v1h-1zM744 344h3v1h-3zM762 344h4v1h-4zM767 344h1v1h-1zM381 343h2v3h-2zM427 344h5v2h-5zM435 344h5v2h-5zM147 345h13v1h-13zM179 345h6v1h-6zM243 345h19v1h-19zM265 345h3v1h-3zM302 345h2v1h-2zM331 345h1v1h-1zM333 345h1v1h-1zM355 345h3v1h-3zM360 345h7v1h-7zM370 345h2v1h-2zM387 345h11v1h-11zM407 345h2v1h-2zM444 345h4v1h-4zM451 345h2v1h-2zM476 345h1v1h-1zM482 345h41v1h-41zM529 345h14v1h-14zM546 345h3v1h-3zM613 345h6v1h-6zM645 345h4v1h-4zM659 345h6v1h-6zM668 345h7v1h-7zM680 345h5v1h-5zM756 345h1v1h-1zM762 345h6v1h-6zM150 346h4v1h-4zM178 346h6v1h-6zM233 346h1v1h-1zM244 346h3v1h-3zM248 346h5v1h-5zM266 346h2v1h-2zM276 346h3v1h-3zM326 346h8v1h-8zM348 346h22v1h-22zM375 346h1v1h-1zM378 346h5v1h-5zM384 346h14v1h-14zM402 346h3v1h-3zM407 346h3v1h-3zM413 346h2v1h-2zM423 346h10v1h-10zM434 346h7v1h-7zM471 346h1v1h-1zM483 346h1v1h-1zM488 346h36v1h-36zM526 346h4v1h-4zM535 346h4v1h-4zM545 346h5v1h-5zM565 346h1v1h-1zM567 346h4v1h-4zM573 346h1v1h-1zM641 346h12v1h-12zM658 346h30v1h-30zM709 346h10v1h-10zM722 346h14v1h-14zM752 346h16v1h-16zM140 347h2v1h-2zM150 347h3v1h-3zM177 347h1v1h-1zM180 347h4v1h-4zM229 347h1v1h-1zM232 347h3v1h-3zM244 347h2v1h-2zM248 347h4v1h-4zM267 347h11v1h-11zM313 347h22v1h-22zM338 347h32v1h-32zM378 347h28v1h-28zM407 347h10v1h-10zM420 347h29v1h-29zM450 347h4v1h-4zM459 347h1v1h-1zM463 347h12v1h-12zM476 347h1v1h-1zM488 347h4v1h-4zM502 347h25v1h-25zM534 347h6v1h-6zM544 347h6v1h-6zM565 347h15v1h-15zM598 347h1v1h-1zM603 347h3v1h-3zM609 347h5v1h-5zM634 347h3v1h-3zM641 347h13v1h-13zM655 347h37v1h-37zM694 347h45v1h-45zM750 347h18v1h-18zM136 348h8v1h-8zM145 348h16v1h-16zM175 348h4v1h-4zM202 348h2v1h-2zM206 348h3v1h-3zM221 348h15v1h-15zM244 348h8v1h-8zM266 348h10v1h-10zM283 348h1v1h-1zM301 348h2v1h-2zM304 348h66v1h-66zM424 348h69v1h-69zM501 348h26v1h-26zM533 348h27v1h-27zM564 348h22v1h-22zM593 348h23v1h-23zM633 348h107v1h-107zM746 348h22v1h-22zM181 348h4v2h-4zM380 348h43v2h-43zM136 349h25v1h-25zM174 349h5v1h-5zM197 349h7v1h-7zM218 349h20v1h-20zM240 349h1v1h-1zM243 349h9v1h-9zM266 349h4v1h-4zM284 349h3v1h-3zM289 349h82v1h-82zM425 349h107v1h-107zM533 349h83v1h-83zM618 349h2v1h-2zM623 349h2v1h-2zM630 349h18v1h-18zM654 349h12v1h-12zM669 349h11v1h-11zM682 349h1v1h-1zM684 349h57v1h-57zM742 349h1v1h-1zM746 349h3v1h-3zM750 349h18v1h-18zM136 350h29v1h-29zM171 350h1v1h-1zM174 350h4v1h-4zM213 350h13v1h-13zM228 350h14v1h-14zM243 350h8v1h-8zM285 350h19v1h-19zM307 350h10v1h-10zM320 350h109v1h-109zM431 350h46v1h-46zM479 350h67v1h-67zM548 350h27v1h-27zM579 350h48v1h-48zM629 350h8v1h-8zM640 350h6v1h-6zM655 350h7v1h-7zM663 350h1v1h-1zM671 350h8v1h-8zM684 350h38v1h-38zM726 350h2v1h-2zM729 350h11v1h-11zM757 350h11v1h-11zM182 350h21v2h-21zM136 351h5v1h-5zM143 351h35v1h-35zM208 351h18v1h-18zM228 351h6v1h-6zM237 351h1v1h-1zM244 351h7v1h-7zM285 351h17v1h-17zM307 351h8v1h-8zM323 351h53v1h-53zM377 351h2v1h-2zM380 351h30v1h-30zM411 351h14v1h-14zM434 351h99v1h-99zM535 351h9v1h-9zM549 351h5v1h-5zM557 351h10v1h-10zM579 351h17v1h-17zM600 351h38v1h-38zM642 351h3v1h-3zM657 351h2v1h-2zM672 351h5v1h-5zM685 351h35v1h-35zM730 351h4v1h-4zM752 351h16v1h-16zM138 352h2v1h-2zM146 352h34v1h-34zM182 352h8v1h-8zM200 352h5v1h-5zM210 352h2v1h-2zM213 352h13v1h-13zM227 352h5v1h-5zM286 352h16v1h-16zM308 352h7v1h-7zM328 352h1v1h-1zM330 352h23v1h-23zM357 352h2v1h-2zM363 352h2v1h-2zM386 352h2v1h-2zM389 352h18v1h-18zM449 352h52v1h-52zM502 352h27v1h-27zM536 352h11v1h-11zM557 352h11v1h-11zM578 352h6v1h-6zM587 352h7v1h-7zM602 352h18v1h-18zM622 352h18v1h-18zM649 352h2v1h-2zM685 352h26v1h-26zM715 352h19v1h-19zM736 352h2v1h-2zM741 352h27v1h-27zM411 352h15v2h-15zM147 353h1v1h-1zM153 353h8v1h-8zM163 353h7v1h-7zM175 353h2v1h-2zM200 353h1v1h-1zM203 353h2v1h-2zM221 353h3v1h-3zM286 353h1v1h-1zM292 353h9v1h-9zM305 353h1v1h-1zM307 353h14v1h-14zM332 353h11v1h-11zM386 353h1v1h-1zM389 353h5v1h-5zM396 353h10v1h-10zM452 353h22v1h-22zM475 353h24v1h-24zM504 353h1v1h-1zM514 353h12v1h-12zM537 353h10v1h-10zM559 353h10v1h-10zM578 353h5v1h-5zM603 353h15v1h-15zM625 353h3v1h-3zM629 353h13v1h-13zM687 353h23v1h-23zM715 353h35v1h-35zM751 353h17v1h-17zM136 353h5v2h-5zM208 354h1v1h-1zM222 354h1v1h-1zM290 354h11v1h-11zM313 354h14v1h-14zM331 354h5v1h-5zM337 354h5v1h-5zM361 354h4v1h-4zM385 354h19v1h-19zM412 354h4v1h-4zM451 354h22v1h-22zM475 354h3v1h-3zM479 354h19v1h-19zM511 354h15v1h-15zM538 354h8v1h-8zM555 354h3v1h-3zM576 354h7v1h-7zM605 354h11v1h-11zM625 354h1v1h-1zM631 354h13v1h-13zM648 354h1v1h-1zM674 354h1v1h-1zM689 354h62v1h-62zM753 354h15v1h-15zM203 354h3v2h-3zM561 354h8v2h-8zM136 355h3v1h-3zM289 355h5v1h-5zM295 355h4v1h-4zM314 355h12v1h-12zM360 355h5v1h-5zM386 355h18v1h-18zM408 355h1v1h-1zM411 355h6v1h-6zM447 355h21v1h-21zM469 355h4v1h-4zM481 355h8v1h-8zM490 355h3v1h-3zM503 355h25v1h-25zM539 355h6v1h-6zM553 355h7v1h-7zM576 355h6v1h-6zM632 355h14v1h-14zM673 355h3v1h-3zM678 355h2v1h-2zM682 355h4v1h-4zM697 355h32v1h-32zM730 355h4v1h-4zM737 355h4v1h-4zM744 355h24v1h-24zM204 356h1v1h-1zM220 356h4v1h-4zM227 356h1v1h-1zM318 356h4v1h-4zM359 356h6v1h-6zM393 356h8v1h-8zM402 356h15v1h-15zM445 356h23v1h-23zM469 356h3v1h-3zM483 356h48v1h-48zM532 356h2v1h-2zM538 356h10v1h-10zM552 356h21v1h-21zM575 356h7v1h-7zM640 356h3v1h-3zM644 356h3v1h-3zM664 356h2v1h-2zM672 356h16v1h-16zM692 356h5v1h-5zM698 356h21v1h-21zM731 356h2v1h-2zM736 356h4v1h-4zM741 356h27v1h-27zM148 357h1v1h-1zM171 357h2v1h-2zM176 357h3v1h-3zM214 357h2v1h-2zM221 357h2v1h-2zM317 357h9v1h-9zM344 357h1v1h-1zM350 357h2v1h-2zM357 357h2v1h-2zM390 357h11v1h-11zM403 357h6v1h-6zM411 357h1v1h-1zM445 357h29v1h-29zM477 357h2v1h-2zM484 357h67v1h-67zM552 357h30v1h-30zM663 357h5v1h-5zM671 357h33v1h-33zM711 357h10v1h-10zM730 357h9v1h-9zM760 357h8v1h-8zM741 357h17v2h-17zM177 358h2v1h-2zM182 358h1v1h-1zM196 358h2v1h-2zM315 358h14v1h-14zM390 358h8v1h-8zM447 358h28v1h-28zM476 358h3v1h-3zM496 358h54v1h-54zM552 358h29v1h-29zM663 358h40v1h-40zM705 358h4v1h-4zM712 358h11v1h-11zM729 358h9v1h-9zM760 358h6v1h-6zM185 359h15v1h-15zM314 359h14v1h-14zM448 359h31v1h-31zM494 359h56v1h-56zM551 359h22v1h-22zM577 359h4v1h-4zM666 359h33v1h-33zM700 359h18v1h-18zM729 359h8v1h-8zM741 359h18v1h-18zM760 359h2v1h-2zM173 360h2v1h-2zM185 360h16v1h-16zM229 360h6v1h-6zM314 360h2v1h-2zM318 360h4v1h-4zM325 360h1v1h-1zM371 360h2v1h-2zM412 360h3v1h-3zM419 360h3v1h-3zM448 360h3v1h-3zM454 360h7v1h-7zM465 360h16v1h-16zM484 360h81v1h-81zM566 360h7v1h-7zM674 360h24v1h-24zM701 360h10v1h-10zM713 360h7v1h-7zM721 360h2v1h-2zM730 360h1v1h-1zM741 360h11v1h-11zM152 361h5v1h-5zM166 361h10v1h-10zM185 361h7v1h-7zM194 361h1v1h-1zM229 361h3v1h-3zM313 361h4v1h-4zM318 361h2v1h-2zM347 361h4v1h-4zM371 361h3v1h-3zM414 361h1v1h-1zM448 361h2v1h-2zM456 361h4v1h-4zM465 361h69v1h-69zM537 361h7v1h-7zM545 361h20v1h-20zM566 361h6v1h-6zM675 361h11v1h-11zM690 361h6v1h-6zM697 361h2v1h-2zM702 361h3v1h-3zM713 361h11v1h-11zM742 361h3v1h-3zM747 361h3v1h-3zM144 362h2v1h-2zM148 362h3v1h-3zM152 362h7v1h-7zM160 362h1v1h-1zM167 362h8v1h-8zM185 362h10v1h-10zM198 362h9v1h-9zM208 362h8v1h-8zM312 362h3v1h-3zM344 362h9v1h-9zM373 362h1v1h-1zM378 362h7v1h-7zM459 362h3v1h-3zM465 362h67v1h-67zM535 362h2v1h-2zM538 362h1v1h-1zM541 362h2v1h-2zM546 362h17v1h-17zM567 362h3v1h-3zM676 362h10v1h-10zM692 362h3v1h-3zM703 362h2v1h-2zM713 362h1v1h-1zM715 362h3v1h-3zM743 362h4v1h-4zM753 362h2v1h-2zM338 362h2v2h-2zM136 363h3v1h-3zM143 363h19v1h-19zM168 363h6v1h-6zM176 363h4v1h-4zM183 363h34v1h-34zM328 363h2v1h-2zM350 363h2v1h-2zM379 363h5v1h-5zM460 363h59v1h-59zM521 363h10v1h-10zM534 363h27v1h-27zM678 363h4v1h-4zM684 363h1v1h-1zM694 363h1v1h-1zM712 363h2v1h-2zM744 363h3v1h-3zM761 363h7v1h-7zM753 363h3v2h-3zM136 364h4v1h-4zM143 364h18v1h-18zM169 364h55v1h-55zM460 364h12v1h-12zM481 364h31v1h-31zM515 364h3v1h-3zM522 364h10v1h-10zM533 364h8v1h-8zM545 364h14v1h-14zM745 364h6v1h-6zM759 364h9v1h-9zM476 364h3v2h-3zM712 364h3v2h-3zM136 365h25v1h-25zM170 365h14v1h-14zM188 365h36v1h-36zM460 365h13v1h-13zM481 365h33v1h-33zM523 365h7v1h-7zM534 365h5v1h-5zM547 365h10v1h-10zM699 365h3v1h-3zM705 365h1v1h-1zM751 365h4v1h-4zM758 365h10v1h-10zM136 366h12v1h-12zM149 366h11v1h-11zM170 366h12v1h-12zM199 366h3v1h-3zM206 366h18v1h-18zM459 366h13v1h-13zM475 366h23v1h-23zM502 366h14v1h-14zM535 366h3v1h-3zM698 366h1v1h-1zM706 366h10v1h-10zM753 366h3v1h-3zM760 366h8v1h-8zM189 366h9v2h-9zM136 367h9v1h-9zM154 367h5v1h-5zM170 367h11v1h-11zM206 367h17v1h-17zM371 367h1v1h-1zM460 367h11v1h-11zM476 367h7v1h-7zM487 367h9v1h-9zM503 367h8v1h-8zM708 367h8v1h-8zM136 368h10v1h-10zM177 368h3v1h-3zM206 368h16v1h-16zM344 368h3v1h-3zM460 368h10v1h-10zM478 368h3v1h-3zM488 368h5v1h-5zM494 368h2v1h-2zM505 368h5v1h-5zM711 368h6v1h-6zM207 369h11v1h-11zM219 369h3v1h-3zM225 369h2v1h-2zM316 369h4v1h-4zM341 369h7v1h-7zM461 369h8v1h-8zM489 369h2v1h-2zM712 369h1v1h-1zM189 368h10v3h-10zM714 369h3v2h-3zM211 370h6v1h-6zM314 370h5v1h-5zM324 370h3v1h-3zM342 370h6v1h-6zM753 367h4v5h-4zM462 370h6v2h-6zM191 371h8v1h-8zM316 371h3v1h-3zM714 371h1v1h-1zM136 369h11v4h-11zM173 372h2v1h-2zM190 372h9v1h-9zM203 372h1v1h-1zM242 372h1v1h-1zM463 372h1v1h-1zM466 372h1v1h-1zM753 372h5v1h-5zM136 373h12v1h-12zM172 373h3v1h-3zM190 373h1v1h-1zM194 373h5v1h-5zM201 373h2v1h-2zM753 373h6v1h-6zM136 374h11v1h-11zM162 374h2v1h-2zM171 374h3v1h-3zM199 374h3v1h-3zM432 374h2v1h-2zM753 374h8v1h-8zM136 375h10v1h-10zM160 375h13v1h-13zM187 375h2v1h-2zM237 375h2v1h-2zM433 375h1v1h-1zM712 375h1v1h-1zM754 375h9v1h-9zM136 376h20v1h-20zM158 376h15v1h-15zM185 376h2v1h-2zM238 376h1v1h-1zM755 376h12v1h-12zM137 377h4v1h-4zM142 377h31v1h-31zM756 377h5v1h-5zM762 377h6v1h-6zM145 378h25v1h-25zM756 378h2v1h-2zM765 378h3v1h-3zM150 379h19v1h-19zM760 379h8v1h-8zM152 380h4v1h-4zM158 380h10v1h-10zM759 380h9v1h-9zM160 381h8v1h-8zM758 381h8v1h-8zM759 382h3v1h-3zM156 384h3v1h-3zM579 404h1v1h-1zM443 404h5v2h-5zM450 405h1v1h-1zM446 406h1v1h-1zM454 406h1v1h-1zM459 406h2v1h-2zM565 406h1v1h-1zM454 407h4v1h-4zM460 407h3v1h-3zM565 407h4v1h-4zM454 408h1v1h-1zM463 408h3v1h-3zM464 409h3v1h-3zM474 409h1v1h-1zM512 409h3v1h-3zM525 409h6v1h-6zM536 409h1v1h-1zM465 410h2v1h-2zM473 410h8v1h-8zM485 410h1v1h-1zM511 410h7v1h-7zM521 410h6v1h-6zM532 410h1v1h-1zM534 410h4v1h-4zM543 410h2v1h-2zM466 411h2v1h-2zM471 411h11v1h-11zM484 411h5v1h-5zM490 411h8v1h-8zM506 411h1v1h-1zM511 411h15v1h-15zM533 411h5v1h-5zM541 411h4v1h-4zM471 412h2v1h-2zM478 412h3v1h-3zM484 412h11v1h-11zM499 412h7v1h-7zM516 412h9v1h-9zM534 412h9v1h-9zM136 413h2v1h-2zM171 413h1v1h-1zM237 413h1v1h-1zM305 413h2v1h-2zM346 413h1v1h-1zM373 413h1v1h-1zM461 413h1v1h-1zM486 413h5v1h-5zM493 413h1v1h-1zM501 413h3v1h-3zM517 413h6v1h-6zM535 413h2v1h-2zM538 413h3v1h-3zM703 413h1v1h-1zM716 413h1v1h-1zM744 413h1v1h-1zM751 413h1v1h-1zM136 414h3v1h-3zM149 414h5v1h-5zM212 414h1v1h-1zM217 414h1v1h-1zM229 414h1v1h-1zM236 414h2v1h-2zM247 414h3v1h-3zM275 414h1v1h-1zM304 414h4v1h-4zM321 414h1v1h-1zM333 414h1v1h-1zM336 414h2v1h-2zM339 414h2v1h-2zM345 414h3v1h-3zM365 414h1v1h-1zM372 414h5v1h-5zM391 414h3v1h-3zM398 414h1v1h-1zM404 414h1v1h-1zM427 414h3v1h-3zM440 414h3v1h-3zM452 414h3v1h-3zM518 414h4v1h-4zM552 414h2v1h-2zM559 414h5v1h-5zM572 414h2v1h-2zM583 414h3v1h-3zM629 414h2v1h-2zM640 414h5v1h-5zM651 414h4v1h-4zM682 414h1v1h-1zM686 414h1v1h-1zM691 414h2v1h-2zM702 414h2v1h-2zM709 414h1v1h-1zM715 414h5v1h-5zM742 414h3v1h-3zM751 414h2v1h-2zM765 414h3v1h-3zM164 413h1v3h-1zM290 413h3v3h-3zM143 414h2v2h-2zM170 414h3v2h-3zM221 414h3v2h-3zM243 414h2v2h-2zM410 414h1v2h-1zM460 414h3v2h-3zM486 414h4v2h-4zM591 414h1v2h-1zM136 415h4v1h-4zM150 415h5v1h-5zM180 415h2v1h-2zM189 415h3v1h-3zM200 415h1v1h-1zM228 415h3v1h-3zM235 415h2v1h-2zM259 415h2v1h-2zM267 415h2v1h-2zM275 415h2v1h-2zM282 415h3v1h-3zM319 415h7v1h-7zM354 415h1v1h-1zM372 415h6v1h-6zM384 415h2v1h-2zM397 415h3v1h-3zM416 415h3v1h-3zM420 415h2v1h-2zM426 415h5v1h-5zM440 415h4v1h-4zM465 415h2v1h-2zM494 415h3v1h-3zM505 415h2v1h-2zM516 415h2v1h-2zM529 415h1v1h-1zM538 415h1v1h-1zM543 415h1v1h-1zM572 415h3v1h-3zM582 415h5v1h-5zM607 415h1v1h-1zM622 415h9v1h-9zM635 415h1v1h-1zM641 415h5v1h-5zM661 415h2v1h-2zM666 415h2v1h-2zM681 415h3v1h-3zM698 415h1v1h-1zM734 415h3v1h-3zM750 415h3v1h-3zM598 414h4v3h-4zM195 415h2v2h-2zM216 415h2v2h-2zM247 415h4v2h-4zM298 415h10v2h-10zM340 415h9v2h-9zM403 415h3v2h-3zM473 415h6v2h-6zM552 415h3v2h-3zM559 415h6v2h-6zM691 415h3v2h-3zM709 415h2v2h-2zM715 415h3v2h-3zM719 415h1v2h-1zM764 415h4v2h-4zM137 416h3v1h-3zM151 416h4v1h-4zM163 416h1v1h-1zM169 416h5v1h-5zM180 416h6v1h-6zM199 416h4v1h-4zM222 416h2v1h-2zM239 416h1v1h-1zM244 416h1v1h-1zM274 416h3v1h-3zM316 416h5v1h-5zM322 416h5v1h-5zM371 416h8v1h-8zM410 416h2v1h-2zM416 416h6v1h-6zM427 416h4v1h-4zM440 416h5v1h-5zM505 416h3v1h-3zM515 416h3v1h-3zM537 416h2v1h-2zM542 416h2v1h-2zM549 416h1v1h-1zM571 416h5v1h-5zM579 416h8v1h-8zM606 416h3v1h-3zM613 416h1v1h-1zM621 416h10v1h-10zM636 416h1v1h-1zM661 416h1v1h-1zM682 416h2v1h-2zM211 415h2v3h-2zM364 415h3v3h-3zM651 415h5v3h-5zM143 416h3v2h-3zM189 416h5v2h-5zM228 416h4v2h-4zM266 416h4v2h-4zM290 416h2v2h-2zM397 416h4v2h-4zM465 416h3v2h-3zM484 416h1v2h-1zM487 416h4v2h-4zM495 416h3v2h-3zM641 416h6v2h-6zM666 416h3v2h-3zM734 416h4v2h-4zM750 416h4v2h-4zM153 417h2v1h-2zM168 417h6v1h-6zM181 417h5v1h-5zM195 417h1v1h-1zM206 417h1v1h-1zM297 417h11v1h-11zM315 417h6v1h-6zM323 417h4v1h-4zM340 417h8v1h-8zM371 417h4v1h-4zM377 417h2v1h-2zM426 417h6v1h-6zM472 417h7v1h-7zM548 417h7v1h-7zM559 417h7v1h-7zM605 417h4v1h-4zM620 417h11v1h-11zM660 417h1v1h-1zM692 417h2v1h-2zM331 415h7v4h-7zM686 415h2v4h-2zM701 415h4v4h-4zM281 416h5v3h-5zM383 416h3v3h-3zM513 416h1v3h-1zM528 416h3v3h-3zM697 416h2v3h-2zM746 416h2v3h-2zM216 417h3v2h-3zM239 417h2v2h-2zM247 417h6v2h-6zM274 417h2v2h-2zM409 417h3v2h-3zM416 417h5v2h-5zM504 417h4v2h-4zM636 417h2v2h-2zM710 417h2v2h-2zM763 417h5v2h-5zM143 418h5v1h-5zM168 418h8v1h-8zM181 418h4v1h-4zM189 418h7v1h-7zM267 418h4v1h-4zM289 418h3v1h-3zM307 418h1v1h-1zM364 418h4v1h-4zM371 418h5v1h-5zM378 418h2v1h-2zM426 418h7v1h-7zM472 418h6v1h-6zM483 418h3v1h-3zM620 418h5v1h-5zM627 418h1v1h-1zM630 418h2v1h-2zM650 418h6v1h-6zM750 418h3v1h-3zM673 415h5v5h-5zM163 417h2v3h-2zM404 417h3v3h-3zM516 417h2v3h-2zM535 417h4v3h-4zM579 417h3v3h-3zM583 417h4v3h-4zM715 417h5v3h-5zM206 418h3v2h-3zM312 418h1v2h-1zM340 418h6v2h-6zM466 418h1v2h-1zM642 418h5v2h-5zM158 419h1v1h-1zM181 419h3v1h-3zM248 419h5v1h-5zM266 419h5v1h-5zM274 419h1v1h-1zM279 419h7v1h-7zM290 419h3v1h-3zM332 419h6v1h-6zM361 419h1v1h-1zM365 419h4v1h-4zM371 419h4v1h-4zM383 419h2v1h-2zM425 419h10v1h-10zM471 419h5v1h-5zM512 419h3v1h-3zM701 419h5v1h-5zM710 419h3v1h-3zM749 419h4v1h-4zM763 419h4v1h-4zM390 415h4v6h-4zM743 415h2v6h-2zM234 416h3v5h-3zM257 416h4v5h-4zM353 416h3v5h-3zM459 416h4v5h-4zM590 416h2v5h-2zM200 417h3v4h-3zM221 417h3v4h-3zM523 417h2v4h-2zM598 417h2v4h-2zM682 417h3v4h-3zM211 418h3v3h-3zM229 418h3v3h-3zM296 418h9v3h-9zM315 418h5v3h-5zM324 418h3v3h-3zM397 418h3v3h-3zM489 418h2v3h-2zM603 418h6v3h-6zM658 418h3v3h-3zM734 418h5v3h-5zM144 419h5v2h-5zM168 419h9v2h-9zM217 419h2v2h-2zM239 419h3v2h-3zM378 419h3v2h-3zM408 419h4v2h-4zM415 419h5v2h-5zM483 419h5v2h-5zM630 419h3v2h-3zM636 419h3v2h-3zM687 419h1v2h-1zM697 419h1v2h-1zM180 420h4v1h-4zM249 420h4v1h-4zM273 420h2v1h-2zM279 420h8v1h-8zM312 420h2v1h-2zM332 420h2v1h-2zM366 420h3v1h-3zM383 420h3v1h-3zM432 420h4v1h-4zM465 420h2v1h-2zM470 420h6v1h-6zM538 420h1v1h-1zM582 420h3v1h-3zM672 420h7v1h-7zM700 420h6v1h-6zM758 420h1v1h-1zM762 420h5v1h-5zM449 415h7v7h-7zM441 417h4v5h-4zM541 417h3v5h-3zM547 418h8v4h-8zM665 418h4v4h-4zM190 419h7v3h-7zM503 419h5v3h-5zM620 419h3v3h-3zM650 419h5v3h-5zM162 420h3v2h-3zM207 420h2v2h-2zM266 420h4v2h-4zM336 420h10v2h-10zM361 420h3v2h-3zM425 420h4v2h-4zM534 420h3v2h-3zM711 420h8v2h-8zM168 421h10v1h-10zM211 421h2v1h-2zM217 421h7v1h-7zM233 421h4v1h-4zM278 421h9v1h-9zM325 421h3v1h-3zM352 421h4v1h-4zM378 421h2v1h-2zM433 421h3v1h-3zM459 421h3v1h-3zM465 421h3v1h-3zM469 421h2v1h-2zM484 421h7v1h-7zM522 421h3v1h-3zM589 421h4v1h-4zM598 421h1v1h-1zM636 421h2v1h-2zM674 421h5v1h-5zM696 421h2v1h-2zM700 421h7v1h-7zM743 421h3v1h-3zM758 421h8v1h-8zM572 417h4v6h-4zM495 418h4v5h-4zM558 418h8v5h-8zM692 418h1v5h-1zM527 419h4v4h-4zM290 420h4v3h-4zM578 420h3v3h-3zM642 420h6v3h-6zM229 421h2v2h-2zM258 421h3v2h-3zM303 421h2v2h-2zM367 421h2v2h-2zM382 421h6v2h-6zM391 421h2v2h-2zM396 421h4v2h-4zM408 421h3v2h-3zM582 421h2v2h-2zM629 421h4v2h-4zM683 421h2v2h-2zM687 421h2v2h-2zM735 421h4v2h-4zM162 422h2v1h-2zM168 422h2v1h-2zM265 422h5v1h-5zM271 422h2v1h-2zM336 422h3v1h-3zM378 422h3v1h-3zM402 422h1v1h-1zM425 422h5v1h-5zM433 422h4v1h-4zM449 422h3v1h-3zM523 422h2v1h-2zM534 422h2v1h-2zM541 422h2v1h-2zM664 422h6v1h-6zM695 422h3v1h-3zM699 422h5v1h-5zM705 422h2v1h-2zM712 422h8v1h-8zM743 422h2v1h-2zM307 419h2v5h-2zM612 419h2v5h-2zM371 420h3v4h-3zM512 420h6v4h-6zM748 420h5v4h-5zM144 421h6v3h-6zM312 421h9v3h-9zM415 421h4v3h-4zM603 421h5v3h-5zM207 422h6v2h-6zM218 422h5v2h-5zM277 422h10v2h-10zM351 422h5v2h-5zM458 422h4v2h-4zM465 422h6v2h-6zM503 422h4v2h-4zM590 422h5v2h-5zM674 422h6v2h-6zM226 423h1v1h-1zM258 423h2v1h-2zM265 423h3v1h-3zM303 423h1v1h-1zM390 423h3v1h-3zM396 423h7v1h-7zM497 423h2v1h-2zM522 423h2v1h-2zM527 423h5v1h-5zM535 423h1v1h-1zM558 423h7v1h-7zM628 423h5v1h-5zM684 423h5v1h-5zM692 423h5v1h-5zM712 423h9v1h-9zM734 423h5v1h-5zM137 417h5v8h-5zM616 417h2v8h-2zM240 421h2v4h-2zM250 421h3v4h-3zM331 421h3v4h-3zM658 421h2v4h-2zM172 422h6v3h-6zM360 422h4v3h-4zM485 422h5v3h-5zM651 422h5v3h-5zM167 423h3v2h-3zM270 423h4v2h-4zM336 423h2v2h-2zM367 423h3v2h-3zM408 423h4v2h-4zM425 423h6v2h-6zM663 423h6v2h-6zM705 423h3v2h-3zM144 424h5v1h-5zM207 424h3v1h-3zM257 424h3v1h-3zM277 424h6v1h-6zM312 424h10v1h-10zM350 424h6v1h-6zM371 424h2v1h-2zM390 424h5v1h-5zM396 424h8v1h-8zM414 424h5v1h-5zM459 424h4v1h-4zM497 424h3v1h-3zM512 424h7v1h-7zM522 424h1v1h-1zM560 424h5v1h-5zM613 424h2v1h-2zM627 424h6v1h-6zM733 424h6v1h-6zM156 420h3v6h-3zM181 421h3v5h-3zM296 421h5v5h-5zM473 421h3v5h-3zM325 422h4v4h-4zM340 422h4v4h-4zM453 422h2v4h-2zM757 422h9v4h-9zM290 423h3v3h-3zM541 423h3v3h-3zM571 423h5v3h-5zM578 423h6v3h-6zM643 423h5v3h-5zM700 423h3v3h-3zM225 424h3v2h-3zM264 424h2v2h-2zM503 424h3v2h-3zM590 424h6v2h-6zM603 424h6v2h-6zM675 424h5v2h-5zM687 424h2v2h-2zM693 424h4v2h-4zM713 424h8v2h-8zM137 425h4v1h-4zM143 425h5v1h-5zM169 425h9v1h-9zM207 425h2v1h-2zM241 425h2v1h-2zM269 425h5v1h-5zM276 425h6v1h-6zM331 425h4v1h-4zM336 425h1v1h-1zM359 425h5v1h-5zM368 425h1v1h-1zM409 425h10v1h-10zM459 425h5v1h-5zM486 425h4v1h-4zM497 425h4v1h-4zM652 425h4v1h-4zM662 425h7v1h-7zM704 425h4v1h-4zM725 415h4v12h-4zM233 422h3v5h-3zM620 422h4v5h-4zM635 422h3v5h-3zM378 423h10v4h-10zM434 423h3v4h-3zM539 423h1v4h-1zM742 423h3v4h-3zM465 424h5v3h-5zM508 424h2v3h-2zM250 425h4v2h-4zM312 425h9v2h-9zM349 425h6v2h-6zM390 425h14v2h-14zM424 425h7v2h-7zM513 425h6v2h-6zM627 425h4v2h-4zM733 425h5v2h-5zM155 426h4v1h-4zM170 426h8v1h-8zM206 426h3v1h-3zM263 426h2v1h-2zM268 426h6v1h-6zM340 426h3v1h-3zM359 426h4v1h-4zM460 426h4v1h-4zM486 426h3v1h-3zM498 426h4v1h-4zM504 426h2v1h-2zM521 426h1v1h-1zM571 426h2v1h-2zM574 426h1v1h-1zM603 426h5v1h-5zM674 426h7v1h-7zM699 426h4v1h-4zM704 426h3v1h-3zM709 426h1v1h-1zM714 426h6v1h-6zM200 421h4v7h-4zM441 422h5v6h-5zM161 423h3v5h-3zM284 424h3v4h-3zM307 424h3v4h-3zM684 424h2v4h-2zM748 424h4v4h-4zM225 426h2v2h-2zM276 426h4v2h-4zM290 426h2v2h-2zM331 426h7v2h-7zM410 426h9v2h-9zM453 426h3v2h-3zM473 426h5v2h-5zM577 426h6v2h-6zM591 426h6v2h-6zM662 426h8v2h-8zM687 426h3v2h-3zM154 427h5v1h-5zM231 427h5v1h-5zM313 427h8v1h-8zM341 427h2v1h-2zM378 427h1v1h-1zM390 427h8v1h-8zM425 427h6v1h-6zM465 427h2v1h-2zM468 427h2v1h-2zM484 427h5v1h-5zM504 427h1v1h-1zM512 427h10v1h-10zM538 427h1v1h-1zM602 427h6v1h-6zM621 427h2v1h-2zM628 427h3v1h-3zM634 427h4v1h-4zM674 427h8v1h-8zM733 427h4v1h-4zM742 427h2v1h-2zM189 422h7v7h-7zM219 424h4v5h-4zM526 424h5v5h-5zM257 425h2v4h-2zM143 426h4v3h-4zM643 426h6v3h-6zM652 426h5v3h-5zM757 426h8v3h-8zM250 427h3v2h-3zM348 427h7v2h-7zM359 427h6v2h-6zM400 427h4v2h-4zM435 427h2v2h-2zM498 427h5v2h-5zM713 427h7v2h-7zM154 428h4v1h-4zM166 428h1v1h-1zM200 428h3v1h-3zM230 428h6v1h-6zM313 428h9v1h-9zM390 428h7v1h-7zM410 428h10v1h-10zM428 428h3v1h-3zM440 428h6v1h-6zM466 428h1v1h-1zM472 428h5v1h-5zM483 428h6v1h-6zM513 428h9v1h-9zM537 428h1v1h-1zM591 428h7v1h-7zM662 428h6v1h-6zM672 428h11v1h-11zM684 428h7v1h-7zM742 428h1v1h-1zM748 428h3v1h-3zM546 422h7v8h-7zM449 423h2v7h-2zM211 424h2v6h-2zM613 425h5v5h-5zM241 426h6v4h-6zM541 426h2v4h-2zM206 427h2v3h-2zM570 427h3v3h-3zM574 427h2v3h-2zM699 427h7v3h-7zM709 427h2v3h-2zM726 427h3v3h-3zM276 428h3v2h-3zM284 428h4v2h-4zM289 428h3v2h-3zM306 428h4v2h-4zM331 428h6v2h-6zM376 428h3v2h-3zM580 428h2v2h-2zM602 428h5v2h-5zM621 428h3v2h-3zM634 428h5v2h-5zM144 429h3v1h-3zM218 429h5v1h-5zM314 429h8v1h-8zM347 429h8v1h-8zM411 429h9v1h-9zM428 429h4v1h-4zM435 429h1v1h-1zM440 429h5v1h-5zM493 429h1v1h-1zM527 429h4v1h-4zM592 429h6v1h-6zM644 429h5v1h-5zM653 429h5v1h-5zM684 429h3v1h-3zM688 429h3v1h-3zM713 429h1v1h-1zM758 429h7v1h-7zM559 425h5v6h-5zM137 426h3v5h-3zM182 426h3v5h-3zM296 426h4v5h-4zM325 426h3v5h-3zM171 427h7v4h-7zM268 427h5v4h-5zM225 428h3v3h-3zM733 428h5v3h-5zM189 429h6v2h-6zM200 429h2v2h-2zM250 429h2v2h-2zM256 429h3v2h-3zM359 429h5v2h-5zM391 429h6v2h-6zM473 429h4v2h-4zM499 429h4v2h-4zM514 429h9v2h-9zM672 429h4v2h-4zM679 429h4v2h-4zM716 429h4v2h-4zM745 429h2v2h-2zM748 429h2v2h-2zM210 430h3v1h-3zM217 430h6v1h-6zM241 430h5v1h-5zM253 430h2v1h-2zM276 430h2v1h-2zM285 430h7v1h-7zM305 430h5v1h-5zM346 430h4v1h-4zM377 430h2v1h-2zM417 430h3v1h-3zM509 430h2v1h-2zM548 430h5v1h-5zM570 430h2v1h-2zM579 430h3v1h-3zM593 430h5v1h-5zM603 430h4v1h-4zM612 430h6v1h-6zM644 430h1v1h-1zM646 430h3v1h-3zM654 430h5v1h-5zM684 430h7v1h-7zM700 430h6v1h-6zM723 430h2v1h-2zM726 430h4v1h-4zM694 426h3v6h-3zM262 427h3v5h-3zM381 427h6v5h-6zM461 427h3v5h-3zM162 428h2v4h-2zM628 428h1v4h-1zM165 429h2v3h-2zM400 429h3v3h-3zM482 429h6v3h-6zM332 430h4v2h-4zM411 430h5v2h-5zM427 430h5v2h-5zM448 430h3v2h-3zM492 430h3v2h-3zM527 430h3v2h-3zM136 431h4v1h-4zM176 431h2v1h-2zM190 431h5v1h-5zM200 431h1v1h-1zM216 431h3v1h-3zM253 431h6v1h-6zM268 431h6v1h-6zM275 431h2v1h-2zM289 431h3v1h-3zM326 431h2v1h-2zM359 431h6v1h-6zM391 431h1v1h-1zM393 431h4v1h-4zM473 431h5v1h-5zM590 431h1v1h-1zM615 431h2v1h-2zM655 431h5v1h-5zM673 431h3v1h-3zM716 431h3v1h-3zM733 431h6v1h-6zM371 425h3v8h-3zM453 428h4v5h-4zM154 429h5v4h-5zM229 429h7v4h-7zM663 429h5v4h-5zM144 430h2v3h-2zM314 430h9v3h-9zM352 430h3v3h-3zM439 430h4v3h-4zM541 430h3v3h-3zM634 430h6v3h-6zM225 431h2v2h-2zM241 431h4v2h-4zM250 431h1v2h-1zM296 431h3v2h-3zM377 431h3v2h-3zM417 431h2v2h-2zM514 431h8v2h-8zM570 431h5v2h-5zM578 431h5v2h-5zM604 431h3v2h-3zM679 431h12v2h-12zM701 431h5v2h-5zM722 431h3v2h-3zM727 431h3v2h-3zM162 432h4v1h-4zM253 432h5v1h-5zM262 432h4v1h-4zM267 432h3v1h-3zM271 432h5v1h-5zM290 432h2v1h-2zM327 432h1v1h-1zM358 432h7v1h-7zM369 432h1v1h-1zM381 432h2v1h-2zM384 432h3v1h-3zM401 432h2v1h-2zM413 432h3v1h-3zM447 432h3v1h-3zM588 432h4v1h-4zM627 432h2v1h-2zM651 432h2v1h-2zM733 432h2v1h-2zM736 432h4v1h-4zM339 429h2v5h-2zM206 430h3v4h-3zM150 431h2v3h-2zM499 431h5v3h-5zM611 431h2v3h-2zM192 432h3v2h-3zM394 432h3v2h-3zM428 432h4v2h-4zM526 432h4v2h-4zM655 432h7v2h-7zM144 433h3v1h-3zM162 433h1v1h-1zM164 433h2v1h-2zM233 433h4v1h-4zM249 433h9v1h-9zM262 433h1v1h-1zM264 433h6v1h-6zM271 433h4v1h-4zM291 433h1v1h-1zM328 433h1v1h-1zM358 433h8v1h-8zM368 433h2v1h-2zM372 433h2v1h-2zM402 433h2v1h-2zM439 433h3v1h-3zM446 433h4v1h-4zM515 433h3v1h-3zM519 433h3v1h-3zM569 433h6v1h-6zM578 433h6v1h-6zM587 433h5v1h-5zM604 433h4v1h-4zM626 433h3v1h-3zM634 433h7v1h-7zM663 433h6v1h-6zM736 433h5v1h-5zM468 428h3v7h-3zM536 429h2v6h-2zM710 430h4v5h-4zM758 430h6v5h-6zM181 431h4v4h-4zM210 431h2v4h-2zM508 431h3v4h-3zM559 431h6v4h-6zM646 431h4v4h-4zM745 431h5v4h-5zM136 432h3v3h-3zM460 432h4v3h-4zM473 432h8v3h-8zM483 432h4v3h-4zM491 432h4v3h-4zM155 433h4v2h-4zM229 433h2v2h-2zM352 433h4v2h-4zM376 433h4v2h-4zM381 433h1v2h-1zM385 433h2v2h-2zM413 433h6v2h-6zM453 433h3v2h-3zM651 433h3v2h-3zM702 433h4v2h-4zM728 433h6v2h-6zM143 434h4v1h-4zM150 434h3v1h-3zM188 434h1v1h-1zM205 434h4v1h-4zM249 434h8v1h-8zM261 434h2v1h-2zM328 434h2v1h-2zM364 434h6v1h-6zM422 434h1v1h-1zM428 434h3v1h-3zM439 434h1v1h-1zM445 434h5v1h-5zM498 434h7v1h-7zM526 434h3v1h-3zM533 434h1v1h-1zM556 434h1v1h-1zM601 434h2v1h-2zM611 434h1v1h-1zM656 434h14v1h-14zM621 430h4v6h-4zM284 431h4v5h-4zM594 431h4v5h-4zM216 432h2v4h-2zM333 432h3v4h-3zM315 433h8v3h-8zM680 433h11v3h-11zM234 434h3v2h-3zM290 434h2v2h-2zM340 434h3v2h-3zM358 434h4v2h-4zM394 434h4v2h-4zM402 434h6v2h-6zM605 434h4v2h-4zM155 435h5v1h-5zM261 435h3v1h-3zM353 435h3v1h-3zM365 435h5v1h-5zM412 435h7v1h-7zM436 435h1v1h-1zM438 435h1v1h-1zM445 435h4v1h-4zM452 435h4v1h-4zM467 435h4v1h-4zM498 435h3v1h-3zM508 435h4v1h-4zM525 435h4v1h-4zM533 435h2v1h-2zM537 435h1v1h-1zM556 435h2v1h-2zM560 435h5v1h-5zM600 435h3v1h-3zM610 435h2v1h-2zM709 435h5v1h-5zM758 435h5v1h-5zM694 432h4v5h-4zM296 433h2v4h-2zM541 433h4v4h-4zM721 433h4v4h-4zM164 434h3v3h-3zM265 434h5v3h-5zM271 434h3v3h-3zM515 434h2v3h-2zM520 434h1v3h-1zM569 434h5v3h-5zM578 434h5v3h-5zM635 434h6v3h-6zM737 434h4v3h-4zM142 435h5v2h-5zM206 435h6v2h-6zM229 435h3v2h-3zM249 435h9v2h-9zM328 435h3v2h-3zM385 435h3v2h-3zM460 435h3v2h-3zM473 435h7v2h-7zM491 435h3v2h-3zM502 435h3v2h-3zM702 435h5v2h-5zM730 435h4v2h-4zM156 436h4v1h-4zM234 436h4v1h-4zM278 436h3v1h-3zM284 436h3v1h-3zM333 436h2v1h-2zM341 436h2v1h-2zM353 436h2v1h-2zM365 436h3v1h-3zM390 436h1v1h-1zM395 436h3v1h-3zM403 436h5v1h-5zM412 436h6v1h-6zM444 436h4v1h-4zM466 436h5v1h-5zM508 436h5v1h-5zM555 436h3v1h-3zM594 436h3v1h-3zM687 436h4v1h-4zM709 436h4v1h-4zM171 431h4v7h-4zM221 431h2v7h-2zM549 431h4v7h-4zM716 432h2v6h-2zM224 433h3v5h-3zM626 434h4v4h-4zM149 435h4v3h-4zM187 435h2v3h-2zM482 435h4v3h-4zM655 435h15v3h-15zM745 435h4v3h-4zM262 436h2v2h-2zM289 436h3v2h-3zM497 436h4v2h-4zM532 436h3v2h-3zM562 436h3v2h-3zM606 436h6v2h-6zM621 436h3v2h-3zM141 437h6v1h-6zM164 437h2v1h-2zM230 437h2v1h-2zM233 437h5v1h-5zM249 437h2v1h-2zM266 437h8v1h-8zM354 437h1v1h-1zM366 437h2v1h-2zM395 437h4v1h-4zM404 437h3v1h-3zM443 437h5v1h-5zM459 437h4v1h-4zM465 437h6v1h-6zM509 437h7v1h-7zM520 437h2v1h-2zM556 437h2v1h-2zM579 437h5v1h-5zM595 437h2v1h-2zM635 437h7v1h-7zM695 437h3v1h-3zM719 437h1v1h-1zM722 437h3v1h-3zM738 437h3v1h-3zM587 434h4v5h-4zM180 435h5v4h-5zM376 435h6v4h-6zM427 435h4v4h-4zM647 435h7v4h-7zM214 436h4v3h-4zM316 436h7v3h-7zM359 436h3v3h-3zM436 436h2v3h-2zM599 436h4v3h-4zM206 437h5v2h-5zM277 437h10v2h-10zM333 437h3v2h-3zM342 437h1v2h-1zM411 437h7v2h-7zM490 437h3v2h-3zM503 437h3v2h-3zM541 437h5v2h-5zM704 437h3v2h-3zM141 438h5v1h-5zM150 438h4v1h-4zM163 438h3v1h-3zM261 438h3v1h-3zM396 438h3v1h-3zM460 438h11v1h-11zM496 438h5v1h-5zM509 438h6v1h-6zM549 438h5v1h-5zM557 438h2v1h-2zM596 438h1v1h-1zM665 438h6v1h-6zM722 438h4v1h-4zM745 438h5v1h-5zM304 431h5v9h-5zM345 431h5v9h-5zM199 432h2v8h-2zM192 434h4v6h-4zM451 436h5v4h-5zM524 436h6v4h-6zM680 436h5v4h-5zM252 437h6v3h-6zM386 437h5v3h-5zM473 437h6v3h-6zM568 437h2v3h-2zM688 437h3v3h-3zM731 437h2v3h-2zM220 438h3v2h-3zM267 438h7v2h-7zM366 438h3v2h-3zM442 438h5v2h-5zM519 438h3v2h-3zM532 438h2v2h-2zM538 438h1v2h-1zM563 438h2v2h-2zM636 438h6v2h-6zM655 438h7v2h-7zM739 438h1v2h-1zM262 439h2v1h-2zM311 439h1v1h-1zM317 439h6v1h-6zM333 439h2v1h-2zM342 439h2v1h-2zM358 439h5v1h-5zM410 439h8v1h-8zM426 439h4v1h-4zM490 439h2v1h-2zM494 439h7v1h-7zM503 439h4v1h-4zM541 439h6v1h-6zM648 439h6v1h-6zM666 439h5v1h-5zM723 439h4v1h-4zM136 435h2v6h-2zM758 436h6v5h-6zM296 437h3v4h-3zM373 437h1v4h-1zM709 437h3v4h-3zM171 438h3v3h-3zM188 438h1v3h-1zM230 438h8v3h-8zM290 438h3v3h-3zM482 438h3v3h-3zM579 438h6v3h-6zM608 438h4v3h-4zM627 438h3v3h-3zM142 439h4v2h-4zM163 439h2v2h-2zM214 439h3v2h-3zM277 439h9v2h-9zM396 439h4v2h-4zM550 439h5v2h-5zM557 439h3v2h-3zM599 439h5v2h-5zM744 439h5v2h-5zM317 440h5v1h-5zM332 440h3v1h-3zM358 440h10v1h-10zM386 440h6v1h-6zM421 440h2v1h-2zM493 440h8v1h-8zM504 440h3v1h-3zM519 440h4v1h-4zM524 440h3v1h-3zM529 440h1v1h-1zM636 440h5v1h-5zM665 440h6v1h-6zM681 440h3v1h-3zM688 440h2v1h-2zM673 432h4v10h-4zM242 433h3v9h-3zM157 437h4v5h-4zM328 437h2v5h-2zM572 437h2v5h-2zM225 438h3v4h-3zM695 438h5v4h-5zM376 439h7v3h-7zM435 439h3v3h-3zM460 439h10v3h-10zM734 439h2v3h-2zM219 440h4v2h-4zM253 440h5v2h-5zM272 440h2v2h-2zM303 440h5v2h-5zM441 440h6v2h-6zM531 440h4v2h-4zM542 440h5v2h-5zM648 440h5v2h-5zM655 440h6v2h-6zM137 441h1v1h-1zM163 441h1v1h-1zM171 441h2v1h-2zM276 441h10v1h-10zM295 441h3v1h-3zM317 441h2v1h-2zM320 441h2v1h-2zM331 441h4v1h-4zM359 441h9v1h-9zM372 441h2v1h-2zM386 441h4v1h-4zM396 441h5v1h-5zM504 441h4v1h-4zM550 441h1v1h-1zM580 441h4v1h-4zM599 441h6v1h-6zM627 441h4v1h-4zM635 441h5v1h-5zM682 441h2v1h-2zM686 441h4v1h-4zM710 441h2v1h-2zM757 441h6v1h-6zM615 432h3v11h-3zM248 438h3v5h-3zM180 439h4v4h-4zM206 439h4v4h-4zM586 439h5v4h-5zM192 440h5v3h-5zM200 440h1v3h-1zM427 440h4v3h-4zM451 440h4v3h-4zM474 440h5v3h-5zM538 440h2v3h-2zM563 440h7v3h-7zM421 441h1v2h-1zM492 441h5v2h-5zM524 441h2v2h-2zM552 441h3v2h-3zM558 441h1v2h-1zM664 441h7v2h-7zM170 442h3v1h-3zM295 442h4v1h-4zM316 442h1v1h-1zM331 442h3v1h-3zM376 442h3v1h-3zM440 442h7v1h-7zM460 442h11v1h-11zM542 442h6v1h-6zM627 442h3v1h-3zM636 442h4v1h-4zM655 442h2v1h-2zM658 442h3v1h-3zM682 442h6v1h-6zM756 442h7v1h-7zM621 438h2v6h-2zM151 439h3v5h-3zM703 439h4v5h-4zM262 440h3v4h-3zM343 440h7v4h-7zM724 440h4v4h-4zM141 441h5v3h-5zM230 441h7v3h-7zM483 441h3v3h-3zM226 442h2v2h-2zM254 442h4v2h-4zM273 442h1v2h-1zM277 442h10v2h-10zM302 442h6v2h-6zM327 442h2v2h-2zM529 442h6v2h-6zM573 442h1v2h-1zM580 442h2v2h-2zM599 442h7v2h-7zM170 443h2v1h-2zM179 443h5v1h-5zM205 443h5v1h-5zM315 443h2v1h-2zM421 443h2v1h-2zM428 443h3v1h-3zM458 443h1v1h-1zM461 443h10v1h-10zM563 443h6v1h-6zM586 443h4v1h-4zM597 443h1v1h-1zM682 443h5v1h-5zM754 443h6v1h-6zM762 443h1v1h-1zM354 438h2v7h-2zM716 438h4v7h-4zM267 440h4v5h-4zM311 440h2v5h-2zM409 440h8v5h-8zM290 441h2v4h-2zM518 441h5v4h-5zM743 441h6v4h-6zM162 442h2v3h-2zM241 442h4v3h-4zM359 442h8v3h-8zM382 442h2v3h-2zM386 442h5v3h-5zM648 442h4v3h-4zM674 442h3v3h-3zM696 442h6v3h-6zM733 442h3v3h-3zM175 443h2v2h-2zM331 443h2v2h-2zM440 443h6v2h-6zM539 443h1v2h-1zM545 443h4v2h-4zM553 443h3v2h-3zM626 443h3v2h-3zM654 443h2v2h-2zM657 443h4v2h-4zM179 444h6v1h-6zM206 444h4v1h-4zM255 444h5v1h-5zM263 444h2v1h-2zM273 444h14v1h-14zM302 444h5v1h-5zM314 444h3v1h-3zM328 444h1v1h-1zM458 444h3v1h-3zM483 444h4v1h-4zM528 444h7v1h-7zM586 444h3v1h-3zM597 444h9v1h-9zM213 441h3v5h-3zM320 442h3v4h-3zM434 442h3v4h-3zM503 442h5v4h-5zM450 443h5v3h-5zM614 443h5v3h-5zM637 443h3v3h-3zM664 443h1v3h-1zM667 443h4v3h-4zM150 444h4v2h-4zM170 444h1v2h-1zM226 444h11v2h-11zM427 444h4v2h-4zM466 444h5v2h-5zM704 444h3v2h-3zM162 445h3v1h-3zM183 445h3v1h-3zM240 445h5v1h-5zM266 445h5v1h-5zM274 445h13v1h-13zM311 445h5v1h-5zM330 445h3v1h-3zM340 445h1v1h-1zM353 445h3v1h-3zM484 445h3v1h-3zM519 445h4v1h-4zM554 445h2v1h-2zM596 445h3v1h-3zM600 445h6v1h-6zM658 445h3v1h-3zM674 445h4v1h-4zM697 445h5v1h-5zM743 445h7v1h-7zM510 439h5v8h-5zM739 440h2v7h-2zM609 441h3v6h-3zM397 442h7v5h-7zM710 442h3v5h-3zM193 443h4v4h-4zM248 443h4v4h-4zM294 443h5v4h-5zM491 443h5v4h-5zM141 444h4v3h-4zM344 444h6v3h-6zM579 444h3v3h-3zM622 444h1v3h-1zM724 444h3v3h-3zM175 445h3v2h-3zM179 445h3v2h-3zM256 445h4v2h-4zM290 445h1v2h-1zM381 445h3v2h-3zM386 445h7v2h-7zM416 445h1v2h-1zM439 445h7v2h-7zM457 445h4v2h-4zM625 445h4v2h-4zM649 445h3v2h-3zM716 445h5v2h-5zM732 445h3v2h-3zM150 446h3v1h-3zM169 446h3v1h-3zM212 446h4v1h-4zM240 446h4v1h-4zM265 446h7v1h-7zM275 446h11v1h-11zM321 446h2v1h-2zM433 446h4v1h-4zM450 446h2v1h-2zM454 446h1v1h-1zM468 446h5v1h-5zM597 446h9v1h-9zM637 446h4v1h-4zM658 446h2v1h-2zM675 446h3v1h-3zM699 446h3v1h-3zM743 446h6v1h-6zM764 446h2v1h-2zM219 442h3v6h-3zM475 443h5v5h-5zM542 443h2v5h-2zM565 444h4v4h-4zM682 444h4v4h-4zM302 445h4v3h-4zM360 445h7v3h-7zM528 445h8v3h-8zM546 445h4v3h-4zM643 445h3v3h-3zM226 446h10v2h-10zM310 446h6v2h-6zM352 446h4v2h-4zM485 446h3v2h-3zM502 446h6v2h-6zM558 446h1v2h-1zM705 446h2v2h-2zM148 447h4v1h-4zM175 447h6v1h-6zM200 447h1v1h-1zM289 447h2v1h-2zM320 447h2v1h-2zM327 447h1v1h-1zM340 447h1v1h-1zM387 447h6v1h-6zM433 447h3v1h-3zM449 447h3v1h-3zM454 447h7v1h-7zM469 447h4v1h-4zM491 447h4v1h-4zM510 447h6v1h-6zM691 447h1v1h-1zM699 447h4v1h-4zM710 447h4v1h-4zM716 447h4v1h-4zM731 447h4v1h-4zM764 447h3v1h-3zM158 442h2v7h-2zM573 444h2v5h-2zM754 444h5v5h-5zM409 445h6v4h-6zM184 446h3v3h-3zM335 446h2v3h-2zM428 446h3v3h-3zM554 446h3v3h-3zM668 446h3v3h-3zM142 447h3v2h-3zM168 447h4v2h-4zM240 447h5v2h-5zM257 447h3v2h-3zM264 447h8v2h-8zM276 447h8v2h-8zM294 447h4v2h-4zM345 447h5v2h-5zM382 447h3v2h-3zM597 447h3v2h-3zM148 448h3v1h-3zM174 448h4v1h-4zM199 448h2v1h-2zM228 448h7v1h-7zM288 448h3v1h-3zM311 448h5v1h-5zM326 448h2v1h-2zM340 448h3v1h-3zM352 448h3v1h-3zM388 448h5v1h-5zM449 448h2v1h-2zM470 448h3v1h-3zM474 448h6v1h-6zM485 448h4v1h-4zM527 448h5v1h-5zM533 448h3v1h-3zM546 448h5v1h-5zM558 448h2v1h-2zM644 448h2v1h-2zM681 448h4v1h-4zM690 448h2v1h-2zM699 448h5v1h-5zM711 448h6v1h-6zM586 445h4v5h-4zM163 446h2v4h-2zM520 446h3v4h-3zM618 446h1v4h-1zM212 447h3v3h-3zM248 447h5v3h-5zM439 447h4v3h-4zM626 447h3v3h-3zM724 447h4v3h-4zM179 448h2v2h-2zM360 448h6v2h-6zM433 448h2v2h-2zM446 448h2v2h-2zM506 448h3v2h-3zM510 448h7v2h-7zM564 448h6v2h-6zM730 448h5v2h-5zM157 449h3v1h-3zM168 449h3v1h-3zM185 449h1v1h-1zM199 449h3v1h-3zM239 449h6v1h-6zM264 449h9v1h-9zM277 449h7v1h-7zM348 449h2v1h-2zM351 449h4v1h-4zM389 449h4v1h-4zM409 449h5v1h-5zM470 449h11v1h-11zM630 449h1v1h-1zM689 449h4v1h-4zM699 449h6v1h-6zM420 444h3v7h-3zM330 446h2v5h-2zM662 446h3v5h-3zM578 447h4v4h-4zM601 447h5v4h-5zM609 447h2v4h-2zM636 447h6v4h-6zM657 447h3v4h-3zM676 447h2v4h-2zM219 448h7v3h-7zM301 448h4v3h-4zM501 448h2v3h-2zM764 448h4v3h-4zM141 449h3v2h-3zM147 449h4v2h-4zM174 449h3v2h-3zM228 449h6v2h-6zM287 449h4v2h-4zM311 449h4v2h-4zM325 449h3v2h-3zM382 449h4v2h-4zM428 449h4v2h-4zM486 449h3v2h-3zM527 449h4v2h-4zM534 449h2v2h-2zM594 449h5v2h-5zM681 449h3v2h-3zM754 449h4v2h-4zM759 449h2v2h-2zM156 450h4v1h-4zM168 450h4v1h-4zM179 450h3v1h-3zM238 450h7v1h-7zM264 450h6v1h-6zM271 450h2v1h-2zM321 450h1v1h-1zM348 450h7v1h-7zM390 450h4v1h-4zM410 450h4v1h-4zM475 450h3v1h-3zM507 450h10v1h-10zM618 450h2v1h-2zM622 450h2v1h-2zM627 450h5v1h-5zM673 450h1v1h-1zM688 450h5v1h-5zM725 450h3v1h-3zM729 450h6v1h-6zM376 443h2v9h-2zM654 445h1v7h-1zM614 446h2v6h-2zM193 447h5v5h-5zM397 447h8v5h-8zM738 447h3v5h-3zM743 447h5v5h-5zM541 448h3v4h-3zM294 449h3v3h-3zM340 449h7v3h-7zM547 449h4v3h-4zM573 449h3v3h-3zM163 450h1v2h-1zM199 450h2v2h-2zM278 450h5v2h-5zM434 450h1v2h-1zM439 450h9v2h-9zM521 450h3v2h-3zM564 450h5v2h-5zM587 450h3v2h-3zM155 451h4v1h-4zM168 451h9v1h-9zM189 451h1v1h-1zM264 451h5v1h-5zM287 451h3v1h-3zM325 451h8v1h-8zM348 451h6v1h-6zM410 451h5v1h-5zM420 451h2v1h-2zM429 451h3v1h-3zM500 451h4v1h-4zM507 451h7v1h-7zM533 451h3v1h-3zM578 451h5v1h-5zM601 451h4v1h-4zM618 451h7v1h-7zM627 451h6v1h-6zM634 451h3v1h-3zM639 451h3v1h-3zM657 451h4v1h-4zM677 451h1v1h-1zM687 451h6v1h-6zM454 448h6v5h-6zM258 449h2v4h-2zM554 449h6v4h-6zM710 449h6v4h-6zM360 450h5v3h-5zM141 451h4v2h-4zM146 451h4v2h-4zM220 451h6v2h-6zM238 451h8v2h-8zM272 451h2v2h-2zM320 451h3v2h-3zM383 451h4v2h-4zM487 451h2v2h-2zM515 451h3v2h-3zM608 451h3v2h-3zM663 451h2v2h-2zM672 451h2v2h-2zM725 451h10v2h-10zM759 451h3v2h-3zM168 452h8v1h-8zM286 452h4v1h-4zM324 452h9v1h-9zM377 452h1v1h-1zM397 452h4v1h-4zM419 452h3v1h-3zM430 452h2v1h-2zM434 452h3v1h-3zM440 452h8v1h-8zM540 452h4v1h-4zM547 452h3v1h-3zM573 452h10v1h-10zM587 452h4v1h-4zM613 452h3v1h-3zM619 452h6v1h-6zM640 452h3v1h-3zM737 452h4v1h-4zM206 445h3v9h-3zM648 447h4v7h-4zM479 450h2v4h-2zM700 450h4v4h-4zM180 451h3v3h-3zM229 451h5v3h-5zM300 451h4v3h-4zM390 451h3v3h-3zM476 451h2v3h-2zM594 451h4v3h-4zM155 452h3v2h-3zM293 452h4v2h-4zM348 452h5v2h-5zM534 452h3v2h-3zM601 452h3v2h-3zM627 452h10v2h-10zM657 452h3v2h-3zM222 453h4v1h-4zM238 453h3v1h-3zM243 453h3v1h-3zM257 453h3v1h-3zM320 453h12v1h-12zM359 453h5v1h-5zM378 453h1v1h-1zM397 453h3v1h-3zM418 453h3v1h-3zM434 453h4v1h-4zM441 453h7v1h-7zM454 453h7v1h-7zM517 453h1v1h-1zM540 453h3v1h-3zM572 453h11v1h-11zM620 453h5v1h-5zM640 453h4v1h-4zM710 453h7v1h-7zM726 453h8v1h-8zM738 453h2v1h-2zM371 442h3v13h-3zM136 446h1v9h-1zM335 449h3v6h-3zM211 450h4v5h-4zM470 450h4v5h-4zM766 451h2v4h-2zM188 452h2v3h-2zM193 452h9v3h-9zM279 452h4v3h-4zM342 452h5v3h-5zM410 452h6v3h-6zM508 452h5v3h-5zM563 452h6v3h-6zM687 452h4v3h-4zM742 452h7v3h-7zM141 453h8v2h-8zM286 453h2v2h-2zM424 453h3v2h-3zM554 453h5v2h-5zM607 453h8v2h-8zM662 453h3v2h-3zM672 453h3v2h-3zM693 453h2v2h-2zM759 453h4v2h-4zM154 454h4v1h-4zM181 454h3v1h-3zM222 454h5v1h-5zM230 454h4v1h-4zM244 454h2v1h-2zM300 454h5v1h-5zM320 454h1v1h-1zM322 454h8v1h-8zM331 454h1v1h-1zM350 454h3v1h-3zM390 454h2v1h-2zM396 454h3v1h-3zM418 454h2v1h-2zM435 454h3v1h-3zM476 454h4v1h-4zM539 454h4v1h-4zM621 454h4v1h-4zM628 454h9v1h-9zM641 454h3v1h-3zM656 454h3v1h-3zM676 454h2v1h-2zM701 454h3v1h-3zM709 454h8v1h-8zM726 454h9v1h-9zM739 454h1v1h-1zM492 448h3v8h-3zM249 450h5v6h-5zM526 451h5v5h-5zM500 452h5v4h-5zM522 452h2v4h-2zM168 453h7v3h-7zM546 453h4v3h-4zM586 453h5v3h-5zM722 453h1v3h-1zM206 454h2v2h-2zM292 454h5v2h-5zM377 454h3v2h-3zM454 454h2v2h-2zM457 454h3v2h-3zM534 454h2v2h-2zM572 454h10v2h-10zM594 454h9v2h-9zM136 455h2v1h-2zM143 455h6v1h-6zM182 455h3v1h-3zM186 455h2v1h-2zM193 455h8v1h-8zM245 455h2v1h-2zM367 455h1v1h-1zM389 455h2v1h-2zM394 455h5v1h-5zM469 455h5v1h-5zM477 455h2v1h-2zM483 455h2v1h-2zM517 455h1v1h-1zM540 455h3v1h-3zM629 455h7v1h-7zM657 455h1v1h-1zM694 455h2v1h-2zM701 455h2v1h-2zM710 455h7v1h-7zM727 455h8v1h-8zM310 451h5v6h-5zM680 451h3v6h-3zM754 451h3v6h-3zM648 454h5v3h-5zM212 455h3v2h-3zM223 455h4v2h-4zM231 455h4v2h-4zM334 455h3v2h-3zM418 455h3v2h-3zM435 455h4v2h-4zM508 455h6v2h-6zM607 455h9v2h-9zM743 455h5v2h-5zM148 456h1v1h-1zM193 456h7v1h-7zM205 456h3v1h-3zM245 456h3v1h-3zM249 456h4v1h-4zM367 456h2v1h-2zM376 456h3v1h-3zM393 456h6v1h-6zM453 456h2v1h-2zM458 456h2v1h-2zM477 456h1v1h-1zM482 456h3v1h-3zM517 456h2v1h-2zM533 456h4v1h-4zM571 456h11v1h-11zM595 456h8v1h-8zM630 456h6v1h-6zM657 456h2v1h-2zM733 456h2v1h-2zM162 452h2v6h-2zM265 452h4v6h-4zM487 453h3v5h-3zM257 454h4v4h-4zM441 454h8v4h-8zM279 455h5v3h-5zM322 455h7v3h-7zM331 455h2v3h-2zM372 455h2v3h-2zM424 455h2v3h-2zM621 455h7v3h-7zM469 456h4v2h-4zM492 456h2v2h-2zM545 456h5v2h-5zM586 456h4v2h-4zM700 456h3v2h-3zM192 457h8v1h-8zM211 457h4v1h-4zM231 457h7v1h-7zM310 457h4v1h-4zM366 457h3v1h-3zM393 457h5v1h-5zM454 457h2v1h-2zM481 457h4v1h-4zM508 457h5v1h-5zM518 457h1v1h-1zM596 457h7v1h-7zM607 457h4v1h-4zM648 457h1v1h-1zM680 457h4v1h-4zM734 457h1v1h-1zM743 457h6v1h-6zM402 452h4v7h-4zM272 453h3v6h-3zM384 453h3v6h-3zM430 453h3v6h-3zM359 454h3v5h-3zM351 455h3v4h-3zM412 455h4v4h-4zM563 455h5v4h-5zM687 455h3v4h-3zM760 455h4v4h-4zM767 455h1v4h-1zM168 456h5v3h-5zM182 456h6v3h-6zM389 456h1v3h-1zM521 456h3v3h-3zM526 456h4v3h-4zM693 456h3v3h-3zM723 456h1v3h-1zM335 457h3v2h-3zM375 457h4v2h-4zM419 457h2v2h-2zM436 457h3v2h-3zM571 457h8v2h-8zM613 457h3v2h-3zM630 457h5v2h-5zM192 458h5v1h-5zM198 458h3v1h-3zM279 458h4v1h-4zM311 458h2v1h-2zM322 458h5v1h-5zM365 458h4v1h-4zM371 458h3v1h-3zM393 458h4v1h-4zM442 458h7v1h-7zM518 458h2v1h-2zM586 458h3v1h-3zM596 458h6v1h-6zM622 458h6v1h-6zM153 455h6v5h-6zM285 455h3v5h-3zM343 455h4v5h-4zM554 455h4v5h-4zM641 455h4v5h-4zM672 455h5v5h-5zM143 456h3v4h-3zM501 456h4v4h-4zM710 456h9v4h-9zM727 456h4v4h-4zM148 457h2v3h-2zM205 457h4v3h-4zM246 457h7v3h-7zM650 457h3v3h-3zM656 457h3v3h-3zM736 457h2v3h-2zM755 457h2v3h-2zM162 458h3v2h-3zM211 458h3v2h-3zM258 458h3v2h-3zM265 458h3v2h-3zM319 458h2v2h-2zM331 458h3v2h-3zM423 458h3v2h-3zM480 458h4v2h-4zM488 458h2v2h-2zM492 458h3v2h-3zM508 458h4v2h-4zM545 458h3v2h-3zM608 458h3v2h-3zM681 458h3v2h-3zM743 458h5v2h-5zM182 459h5v1h-5zM192 459h4v1h-4zM273 459h2v1h-2zM278 459h5v1h-5zM312 459h1v1h-1zM322 459h4v1h-4zM336 459h2v1h-2zM351 459h5v1h-5zM371 459h8v1h-8zM385 459h5v1h-5zM413 459h3v1h-3zM429 459h4v1h-4zM443 459h6v1h-6zM517 459h3v1h-3zM521 459h2v1h-2zM525 459h5v1h-5zM563 459h4v1h-4zM571 459h3v1h-3zM576 459h4v1h-4zM586 459h2v1h-2zM597 459h5v1h-5zM622 459h7v1h-7zM631 459h3v1h-3zM688 459h2v1h-2zM300 455h6v6h-6zM662 455h2v6h-2zM136 456h3v5h-3zM217 456h2v5h-2zM292 456h4v5h-4zM541 456h2v5h-2zM222 457h5v4h-5zM458 457h3v4h-3zM533 457h3v4h-3zM232 458h6v3h-6zM453 458h3v3h-3zM469 458h3v3h-3zM647 458h2v3h-2zM700 458h4v3h-4zM168 459h6v2h-6zM199 459h3v2h-3zM359 459h2v2h-2zM365 459h3v2h-3zM394 459h3v2h-3zM403 459h3v2h-3zM419 459h3v2h-3zM437 459h2v2h-2zM614 459h2v2h-2zM694 459h1v2h-1zM761 459h3v2h-3zM144 460h2v1h-2zM148 460h1v1h-1zM153 460h2v1h-2zM157 460h1v1h-1zM182 460h2v1h-2zM191 460h4v1h-4zM206 460h3v1h-3zM211 460h2v1h-2zM247 460h6v1h-6zM259 460h2v1h-2zM265 460h2v1h-2zM278 460h4v1h-4zM285 460h2v1h-2zM320 460h1v1h-1zM323 460h3v1h-3zM332 460h2v1h-2zM344 460h3v1h-3zM351 460h6v1h-6zM372 460h7v1h-7zM429 460h3v1h-3zM444 460h5v1h-5zM481 460h2v1h-2zM488 460h1v1h-1zM502 460h3v1h-3zM509 460h3v1h-3zM517 460h5v1h-5zM525 460h4v1h-4zM546 460h1v1h-1zM554 460h3v1h-3zM563 460h3v1h-3zM571 460h2v1h-2zM577 460h3v1h-3zM587 460h1v1h-1zM598 460h4v1h-4zM622 460h3v1h-3zM627 460h6v1h-6zM641 460h3v1h-3zM651 460h1v1h-1zM657 460h1v1h-1zM672 460h4v1h-4zM711 460h2v1h-2zM715 460h3v1h-3zM728 460h2v1h-2zM744 460h3v1h-3zM385 460h4v2h-4zM424 460h2v2h-2zM493 460h2v2h-2zM682 460h2v2h-2zM169 461h1v1h-1zM191 461h3v1h-3zM200 461h1v1h-1zM206 461h2v1h-2zM212 461h1v1h-1zM222 461h2v1h-2zM249 461h3v1h-3zM293 461h2v1h-2zM301 461h6v1h-6zM324 461h1v1h-1zM355 461h2v1h-2zM375 461h4v1h-4zM404 461h1v1h-1zM419 461h2v1h-2zM430 461h1v1h-1zM437 461h1v1h-1zM445 461h4v1h-4zM454 461h1v1h-1zM502 461h2v1h-2zM510 461h1v1h-1zM517 461h4v1h-4zM526 461h1v1h-1zM533 461h1v1h-1zM541 461h1v1h-1zM563 461h2v1h-2zM578 461h1v1h-1zM599 461h2v1h-2zM623 461h1v1h-1zM630 461h2v1h-2zM642 461h2v1h-2zM672 461h3v1h-3zM701 461h3v1h-3zM728 461h1v1h-1zM745 461h2v1h-2zM762 461h1v1h-1zM306 462h1v1h-1zM138 464h6v1h-6zM146 464h5v1h-5zM153 464h2v1h-2zM172 464h1v1h-1zM191 464h3v1h-3zM212 464h3v1h-3zM229 464h6v1h-6zM317 464h6v1h-6zM347 464h5v1h-5zM374 464h7v1h-7zM425 464h6v1h-6zM434 464h6v1h-6zM442 464h5v1h-5zM477 464h8v1h-8zM506 464h9v1h-9zM519 464h3v1h-3zM526 464h6v1h-6zM583 464h2v1h-2zM593 464h4v1h-4zM624 464h9v1h-9zM648 464h6v1h-6zM658 464h4v1h-4zM720 464h6v1h-6zM749 464h6v1h-6zM759 464h6v1h-6zM137 465h1v1h-1zM168 465h1v1h-1zM175 465h1v1h-1zM227 465h1v1h-1zM236 465h1v1h-1zM324 465h1v1h-1zM345 465h1v1h-1zM352 465h1v1h-1zM382 465h1v1h-1zM433 465h1v1h-1zM485 465h1v1h-1zM515 465h1v1h-1zM523 465h1v1h-1zM543 465h1v1h-1zM548 465h1v1h-1zM590 465h2v1h-2zM598 465h1v1h-1zM633 465h1v1h-1zM663 465h1v1h-1zM747 465h1v1h-1zM217 465h1v2h-1zM533 465h1v2h-1zM591 466h1v1h-1zM524 466h1v2h-1zM645 466h1v2h-1zM189 466h1v3h-1zM288 466h1v3h-1zM314 466h1v3h-1zM423 466h1v3h-1zM656 466h1v3h-1zM727 466h1v3h-1zM757 466h1v3h-1zM168 468h1v1h-1zM217 468h1v1h-1zM533 468h1v1h-1zM543 468h1v1h-1zM548 468h1v1h-1zM591 468h1v1h-1zM144 469h2v1h-2zM151 469h1v1h-1zM169 469h1v1h-1zM174 469h2v1h-2zM210 469h1v1h-1zM216 469h1v1h-1zM227 469h2v1h-2zM235 469h2v1h-2zM289 469h1v1h-1zM293 469h1v1h-1zM315 469h1v1h-1zM323 469h2v1h-2zM352 469h1v1h-1zM373 469h1v1h-1zM381 469h1v1h-1zM386 469h1v1h-1zM424 469h1v1h-1zM431 469h1v1h-1zM433 469h1v1h-1zM440 469h2v1h-2zM447 469h1v1h-1zM485 469h2v1h-2zM490 469h1v1h-1zM505 469h1v1h-1zM515 469h1v1h-1zM517 469h1v1h-1zM523 469h1v1h-1zM544 469h1v1h-1zM547 469h1v1h-1zM562 469h1v1h-1zM566 469h1v1h-1zM582 469h1v1h-1zM586 469h1v1h-1zM589 469h2v1h-2zM623 469h1v1h-1zM633 469h1v1h-1zM646 469h1v1h-1zM655 469h1v1h-1zM657 469h1v1h-1zM663 469h1v1h-1zM719 469h1v1h-1zM726 469h1v1h-1zM747 469h2v1h-2zM756 469h1v1h-1zM758 469h1v1h-1zM765 469h1v1h-1z"/>
<path fill="#00ffff" d="M388 337h4v1h-4zM387 338h6v1h-6zM381 339h2v1h-2zM386 339h9v1h-9zM382 340h3v1h-3zM386 340h10v1h-10zM383 341h14v2h-14zM383 343h12v1h-12zM383 344h7v1h-7zM383 345h4v1h-4zM383 346h1v1h-1zM648 349h6v1h-6zM666 349h3v1h-3zM680 349h2v1h-2zM683 349h1v1h-1zM546 350h2v1h-2zM637 350h3v1h-3zM646 350h9v1h-9zM662 350h1v1h-1zM664 350h7v1h-7zM679 350h5v1h-5zM544 351h5v1h-5zM554 351h3v1h-3zM596 351h4v1h-4zM638 351h4v1h-4zM645 351h12v1h-12zM659 351h13v1h-13zM677 351h8v1h-8zM547 352h10v1h-10zM584 352h3v1h-3zM594 352h8v1h-8zM620 352h2v1h-2zM640 352h9v1h-9zM651 352h34v1h-34zM547 353h12v1h-12zM583 353h20v1h-20zM618 353h7v1h-7zM628 353h1v1h-1zM642 353h45v1h-45zM546 354h9v1h-9zM558 354h3v1h-3zM583 354h22v1h-22zM616 354h9v1h-9zM626 354h5v1h-5zM644 354h4v1h-4zM649 354h25v1h-25zM675 354h14v1h-14zM545 355h8v1h-8zM560 355h1v1h-1zM582 355h50v1h-50zM646 355h27v1h-27zM676 355h2v1h-2zM680 355h2v1h-2zM686 355h11v1h-11zM548 356h4v1h-4zM582 356h58v1h-58zM643 356h1v1h-1zM647 356h17v1h-17zM666 356h6v1h-6zM688 356h4v1h-4zM697 356h1v1h-1zM582 357h81v1h-81zM668 357h3v1h-3zM704 357h7v1h-7zM581 358h82v1h-82zM703 358h2v1h-2zM709 358h3v1h-3zM573 359h4v1h-4zM581 359h85v1h-85zM699 359h1v1h-1zM573 360h101v1h-101zM698 360h3v1h-3zM711 360h2v1h-2zM565 360h1v2h-1zM572 361h103v1h-103zM686 361h4v1h-4zM699 361h3v1h-3zM705 361h8v2h-8zM163 362h4v1h-4zM563 362h4v1h-4zM570 362h106v1h-106zM686 362h6v1h-6zM701 362h2v1h-2zM162 363h6v1h-6zM519 363h2v1h-2zM561 363h28v1h-28zM591 363h87v1h-87zM682 363h2v1h-2zM686 363h7v1h-7zM700 363h12v1h-12zM161 364h8v1h-8zM518 364h4v1h-4zM541 364h4v1h-4zM559 364h10v1h-10zM571 364h1v1h-1zM576 364h2v1h-2zM582 364h4v1h-4zM592 364h15v1h-15zM609 364h1v1h-1zM616 364h57v1h-57zM674 364h12v1h-12zM688 364h6v1h-6zM698 364h14v1h-14zM161 365h9v1h-9zM184 365h4v1h-4zM473 365h1v1h-1zM517 365h6v1h-6zM530 365h4v1h-4zM539 365h8v1h-8zM559 365h1v1h-1zM564 365h3v1h-3zM594 365h11v1h-11zM617 365h1v1h-1zM620 365h1v1h-1zM623 365h50v1h-50zM675 365h10v1h-10zM687 365h6v1h-6zM697 365h2v1h-2zM706 365h6v1h-6zM755 365h3v1h-3zM148 366h1v1h-1zM160 366h10v1h-10zM182 366h7v1h-7zM198 366h1v1h-1zM202 366h4v1h-4zM472 366h3v1h-3zM498 366h4v1h-4zM516 366h19v1h-19zM538 366h16v1h-16zM595 366h5v1h-5zM628 366h13v1h-13zM642 366h29v1h-29zM674 366h10v1h-10zM695 366h2v1h-2zM699 366h2v1h-2zM756 366h4v1h-4zM145 367h9v1h-9zM159 367h11v1h-11zM181 367h8v1h-8zM198 367h8v1h-8zM471 367h5v1h-5zM483 367h4v1h-4zM496 367h7v1h-7zM511 367h9v1h-9zM521 367h6v1h-6zM530 367h6v1h-6zM551 367h1v1h-1zM595 367h1v1h-1zM634 367h5v1h-5zM643 367h25v1h-25zM672 367h4v1h-4zM679 367h1v1h-1zM694 367h7v1h-7zM703 367h1v1h-1zM707 367h1v1h-1zM146 368h31v1h-31zM180 368h9v1h-9zM199 368h7v1h-7zM470 368h8v1h-8zM481 368h7v1h-7zM501 368h1v1h-1zM510 368h3v1h-3zM514 368h3v1h-3zM532 368h1v1h-1zM643 368h26v1h-26zM670 368h4v1h-4zM692 368h9v1h-9zM702 368h3v1h-3zM707 368h4v1h-4zM170 369h19v1h-19zM199 369h8v1h-8zM469 369h20v1h-20zM643 369h21v1h-21zM666 369h6v1h-6zM695 369h11v1h-11zM707 369h5v1h-5zM713 369h1v1h-1zM147 369h20v2h-20zM171 370h18v1h-18zM199 370h9v1h-9zM468 370h22v1h-22zM644 370h20v1h-20zM757 367h11v5h-11zM667 370h4v2h-4zM171 371h20v1h-20zM199 371h10v1h-10zM421 371h2v1h-2zM459 371h1v1h-1zM468 371h2v1h-2zM644 371h19v1h-19zM147 371h19v2h-19zM171 372h2v1h-2zM199 372h4v1h-4zM204 372h5v1h-5zM420 372h5v1h-5zM460 372h3v1h-3zM467 372h1v1h-1zM645 372h17v1h-17zM758 372h10v1h-10zM697 370h17v4h-17zM175 372h15v2h-15zM148 373h18v1h-18zM171 373h1v1h-1zM199 373h2v1h-2zM419 373h6v1h-6zM646 373h14v1h-14zM759 373h9v1h-9zM669 372h2v3h-2zM147 374h15v1h-15zM164 374h7v1h-7zM176 374h14v1h-14zM418 374h8v1h-8zM429 374h3v1h-3zM436 374h9v1h-9zM651 374h9v1h-9zM697 374h10v1h-10zM710 374h5v1h-5zM761 374h7v1h-7zM647 374h2v2h-2zM146 375h14v1h-14zM177 375h10v1h-10zM417 375h16v1h-16zM434 375h9v1h-9zM651 375h2v1h-2zM655 375h5v1h-5zM711 375h1v1h-1zM713 375h1v1h-1zM763 375h5v1h-5zM156 376h2v1h-2zM409 376h21v1h-21zM434 376h4v1h-4zM648 376h1v1h-1zM767 376h1v1h-1zM136 377h1v1h-1zM141 377h1v1h-1zM406 377h16v1h-16zM136 378h9v1h-9zM403 378h3v1h-3zM408 378h5v1h-5zM414 378h6v1h-6zM654 377h1v3h-1zM136 379h14v1h-14zM401 379h2v1h-2zM404 379h1v1h-1zM136 380h16v1h-16zM156 380h2v1h-2zM395 380h1v1h-1zM402 380h1v1h-1zM136 381h24v1h-24zM168 381h7v1h-7zM394 381h2v1h-2zM766 381h2v1h-2zM136 382h33v1h-33zM173 382h2v1h-2zM392 382h4v1h-4zM762 382h6v1h-6zM136 383h31v1h-31zM391 383h5v1h-5zM758 383h10v1h-10zM136 384h20v1h-20zM159 384h5v1h-5zM391 384h3v1h-3zM444 384h4v1h-4zM756 384h12v1h-12zM136 385h11v1h-11zM148 385h7v1h-7zM390 385h5v1h-5zM443 385h5v1h-5zM755 385h13v1h-13zM140 386h4v1h-4zM153 386h5v1h-5zM390 386h7v1h-7zM432 386h1v1h-1zM755 386h1v1h-1zM758 386h2v1h-2zM761 386h7v1h-7zM391 387h7v1h-7zM429 387h4v1h-4zM765 387h3v1h-3zM451 386h1v3h-1zM155 387h4v2h-4zM752 387h5v2h-5zM408 388h3v1h-3zM430 388h2v1h-2zM157 389h3v1h-3zM757 389h1v1h-1zM158 390h1v2h-1zM136 392h3v1h-3zM141 392h3v1h-3zM136 393h10v1h-10zM137 394h8v1h-8zM140 395h3v1h-3zM561 399h1v1h-1zM540 400h2v1h-2zM546 400h9v1h-9zM559 400h5v1h-5zM548 401h4v1h-4zM589 401h3v1h-3zM540 401h1v2h-1zM446 402h1v1h-1zM588 402h5v1h-5zM590 403h2v1h-2zM466 408h1v1h-1zM470 409h4v1h-4zM537 409h1v1h-1zM467 410h1v1h-1zM469 410h4v1h-4zM538 410h5v1h-5zM468 411h3v1h-3zM538 411h3v1h-3zM144 465h3v1h-3zM150 465h3v1h-3zM155 465h1v1h-1zM169 465h6v1h-6zM190 465h1v1h-1zM194 465h1v1h-1zM210 465h3v1h-3zM215 465h2v1h-2zM228 465h2v1h-2zM234 465h2v1h-2zM289 465h1v1h-1zM292 465h2v1h-2zM315 465h3v1h-3zM322 465h2v1h-2zM346 465h1v1h-1zM373 465h2v1h-2zM381 465h1v1h-1zM383 465h1v1h-1zM386 465h1v1h-1zM424 465h1v1h-1zM431 465h1v1h-1zM440 465h2v1h-2zM447 465h1v1h-1zM476 465h1v1h-1zM486 465h5v1h-5zM505 465h1v1h-1zM514 465h1v1h-1zM517 465h2v1h-2zM522 465h1v1h-1zM525 465h1v1h-1zM532 465h1v1h-1zM544 465h4v1h-4zM562 465h5v1h-5zM582 465h1v1h-1zM586 465h4v1h-4zM592 465h1v1h-1zM597 465h1v1h-1zM632 465h1v1h-1zM646 465h3v1h-3zM653 465h3v1h-3zM657 465h1v1h-1zM662 465h1v1h-1zM719 465h1v1h-1zM726 465h1v1h-1zM748 465h2v1h-2zM754 465h3v1h-3zM758 465h1v1h-1zM765 465h1v1h-1zM210 466h1v1h-1zM315 466h1v1h-1zM590 466h1v1h-1zM756 466h1v1h-1zM168 466h1v2h-1zM543 466h1v2h-1zM548 466h1v2h-1zM217 467h1v1h-1zM533 467h1v1h-1zM590 467h2v1h-2zM623 465h1v4h-1zM137 466h1v3h-1zM175 466h1v3h-1zM227 466h1v3h-1zM236 466h1v3h-1zM324 466h1v3h-1zM345 466h1v3h-1zM352 466h1v3h-1zM382 466h1v3h-1zM433 466h1v3h-1zM485 466h1v3h-1zM515 466h1v3h-1zM523 466h1v3h-1zM598 466h1v3h-1zM633 466h1v3h-1zM646 466h1v3h-1zM655 466h1v3h-1zM663 466h1v3h-1zM747 466h1v3h-1zM210 468h1v1h-1zM315 468h1v1h-1zM373 468h1v1h-1zM441 468h1v1h-1zM490 468h1v1h-1zM505 468h1v1h-1zM517 468h1v1h-1zM562 468h1v1h-1zM586 468h1v1h-1zM590 468h1v1h-1zM719 468h1v1h-1zM756 468h1v1h-1zM138 469h3v1h-3zM142 469h2v1h-2zM146 469h5v1h-5zM152 469h4v1h-4zM170 469h4v1h-4zM190 469h5v1h-5zM211 469h5v1h-5zM229 469h6v1h-6zM290 469h3v1h-3zM316 469h7v1h-7zM346 469h6v1h-6zM374 469h7v1h-7zM383 469h3v1h-3zM425 469h6v1h-6zM434 469h6v1h-6zM442 469h5v1h-5zM476 469h2v1h-2zM483 469h2v1h-2zM487 469h3v1h-3zM506 469h2v1h-2zM513 469h2v1h-2zM518 469h5v1h-5zM525 469h4v1h-4zM530 469h3v1h-3zM545 469h2v1h-2zM563 469h3v1h-3zM583 469h3v1h-3zM587 469h2v1h-2zM592 469h6v1h-6zM624 469h2v1h-2zM631 469h2v1h-2zM647 469h8v1h-8zM658 469h5v1h-5zM720 469h6v1h-6zM749 469h7v1h-7zM759 469h6v1h-6z"/>
<path fill="#ffff00" d="M272 350h1v1h-1zM262 351h13v1h-13zM258 352h1v1h-1zM260 352h17v1h-17zM257 353h8v1h-8zM272 353h6v1h-6zM255 354h9v1h-9zM274 354h6v1h-6zM252 355h5v1h-5zM276 355h6v1h-6zM251 356h5v1h-5zM277 356h6v1h-6zM250 357h5v1h-5zM278 357h12v1h-12zM295 357h1v1h-1zM300 357h2v1h-2zM249 358h5v1h-5zM275 358h13v1h-13zM289 358h8v1h-8zM298 358h3v1h-3zM302 358h1v1h-1zM248 359h5v1h-5zM274 359h11v1h-11zM297 359h7v1h-7zM246 360h6v1h-6zM274 360h9v1h-9zM245 361h7v1h-7zM272 361h9v1h-9zM393 361h1v1h-1zM396 361h2v1h-2zM730 361h6v1h-6zM299 360h6v3h-6zM245 362h8v1h-8zM254 362h1v1h-1zM259 362h1v1h-1zM262 362h1v1h-1zM264 362h2v1h-2zM270 362h11v1h-11zM386 362h3v1h-3zM393 362h5v1h-5zM730 362h10v1h-10zM243 363h19v1h-19zM264 363h19v1h-19zM296 363h1v1h-1zM298 363h7v1h-7zM384 363h16v1h-16zM729 363h6v1h-6zM736 363h5v1h-5zM242 364h18v1h-18zM265 364h7v1h-7zM273 364h4v1h-4zM280 364h4v1h-4zM295 364h11v1h-11zM382 364h16v1h-16zM399 364h1v1h-1zM407 364h1v1h-1zM443 364h2v1h-2zM739 364h2v1h-2zM228 365h2v1h-2zM231 365h2v1h-2zM236 365h1v1h-1zM239 365h19v1h-19zM267 365h2v1h-2zM295 365h12v1h-12zM379 365h13v1h-13zM395 365h1v1h-1zM412 365h5v1h-5zM419 365h8v1h-8zM430 365h7v1h-7zM440 365h13v1h-13zM741 365h1v1h-1zM274 365h3v2h-3zM231 366h27v1h-27zM281 366h4v1h-4zM286 366h21v1h-21zM378 366h15v1h-15zM413 366h40v1h-40zM684 366h7v1h-7zM719 366h6v1h-6zM231 367h26v1h-26zM275 367h2v1h-2zM278 367h12v1h-12zM292 367h10v1h-10zM376 367h18v1h-18zM413 367h43v1h-43zM458 367h2v1h-2zM676 367h3v1h-3zM685 367h7v1h-7zM718 367h5v1h-5zM232 368h23v1h-23zM276 368h4v1h-4zM292 368h2v1h-2zM298 368h3v1h-3zM374 368h20v1h-20zM413 368h47v1h-47zM674 368h2v1h-2zM687 368h5v1h-5zM721 368h2v1h-2zM745 368h3v1h-3zM233 369h9v1h-9zM244 369h1v1h-1zM247 369h6v1h-6zM299 369h4v1h-4zM372 369h23v1h-23zM411 369h48v1h-48zM664 369h2v1h-2zM672 369h2v1h-2zM689 369h5v1h-5zM269 368h1v3h-1zM722 369h2v2h-2zM747 369h1v2h-1zM237 370h3v1h-3zM299 370h5v1h-5zM370 370h2v1h-2zM374 370h11v1h-11zM386 370h9v1h-9zM410 370h49v1h-49zM664 370h3v1h-3zM689 370h4v1h-4zM695 370h2v2h-2zM265 371h1v1h-1zM268 371h1v1h-1zM301 371h4v1h-4zM368 371h1v1h-1zM370 371h1v1h-1zM386 371h10v1h-10zM409 371h12v1h-12zM423 371h17v1h-17zM448 371h10v1h-10zM663 371h4v1h-4zM723 371h2v1h-2zM671 370h2v3h-2zM256 372h3v1h-3zM267 372h2v1h-2zM302 372h4v1h-4zM309 372h1v1h-1zM366 372h1v1h-1zM387 372h18v1h-18zM408 372h12v1h-12zM425 372h12v1h-12zM452 372h5v1h-5zM662 372h7v1h-7zM725 372h1v1h-1zM696 372h1v2h-1zM255 373h4v1h-4zM268 373h1v1h-1zM302 373h6v1h-6zM309 373h8v1h-8zM319 373h1v1h-1zM362 373h2v1h-2zM387 373h32v1h-32zM425 373h5v1h-5zM432 373h5v1h-5zM671 373h3v1h-3zM726 373h2v1h-2zM748 373h1v1h-1zM660 373h9v2h-9zM210 374h4v1h-4zM248 374h3v1h-3zM254 374h5v1h-5zM306 374h20v1h-20zM341 374h2v1h-2zM352 374h1v1h-1zM360 374h3v1h-3zM387 374h31v1h-31zM426 374h3v1h-3zM671 374h7v1h-7zM707 374h3v1h-3zM726 374h3v1h-3zM747 374h2v1h-2zM206 375h9v1h-9zM247 375h11v1h-11zM307 375h1v1h-1zM310 375h9v1h-9zM335 375h2v1h-2zM340 375h2v1h-2zM352 375h3v1h-3zM359 375h3v1h-3zM386 375h31v1h-31zM660 375h18v1h-18zM726 375h5v1h-5zM733 375h1v1h-1zM744 375h2v1h-2zM747 375h3v1h-3zM268 374h2v3h-2zM697 375h14v2h-14zM176 376h4v1h-4zM202 376h12v1h-12zM224 376h3v1h-3zM247 376h5v1h-5zM256 376h2v1h-2zM312 376h7v1h-7zM335 376h7v1h-7zM354 376h7v1h-7zM386 376h23v1h-23zM687 376h1v1h-1zM717 376h1v1h-1zM726 376h8v1h-8zM743 376h7v1h-7zM655 376h23v2h-23zM175 377h7v1h-7zM194 377h5v1h-5zM202 377h4v1h-4zM225 377h3v1h-3zM235 377h17v1h-17zM257 377h1v1h-1zM267 377h3v1h-3zM310 377h9v1h-9zM360 377h1v1h-1zM386 377h20v1h-20zM686 377h3v1h-3zM697 377h7v1h-7zM709 377h3v1h-3zM715 377h4v1h-4zM724 377h1v1h-1zM732 377h1v1h-1zM742 377h6v1h-6zM751 377h1v1h-1zM174 378h12v1h-12zM191 378h6v1h-6zM202 378h2v1h-2zM227 378h2v1h-2zM232 378h7v1h-7zM240 378h5v1h-5zM309 378h4v1h-4zM314 378h3v1h-3zM386 378h9v1h-9zM397 378h6v1h-6zM655 378h14v1h-14zM673 378h1v1h-1zM677 378h1v1h-1zM697 378h2v1h-2zM711 378h2v1h-2zM714 378h2v1h-2zM717 378h3v1h-3zM723 378h1v1h-1zM752 378h1v1h-1zM182 379h2v1h-2zM234 379h4v1h-4zM380 379h4v1h-4zM393 379h3v1h-3zM655 379h7v1h-7zM718 379h2v1h-2zM722 379h1v1h-1zM173 379h2v2h-2zM235 380h1v1h-1zM378 380h3v1h-3zM382 380h2v1h-2zM394 380h1v1h-1zM655 380h5v1h-5zM720 380h2v1h-2zM379 381h4v1h-4zM655 381h3v1h-3zM380 382h3v1h-3zM655 382h2v1h-2zM754 382h1v4h-1zM173 383h1v3h-1zM436 385h3v1h-3zM440 385h3v1h-3zM448 385h3v1h-3zM655 383h1v4h-1zM158 386h17v1h-17zM751 386h4v1h-4zM654 387h1v1h-1zM751 387h1v1h-1zM750 388h2v1h-2zM649 389h3v1h-3zM749 389h2v1h-2zM648 390h2v1h-2zM749 390h1v1h-1zM647 391h2v1h-2zM748 391h20v1h-20zM155 392h3v1h-3zM155 393h1v5h-1zM157 393h1v5h-1zM615 397h2v2h-2zM136 398h272v1h-272zM658 398h110v1h-110zM542 399h1v1h-1zM614 399h154v1h-154zM136 399h310v2h-310zM542 400h4v1h-4zM612 400h156v2h-156zM136 401h311v1h-311zM541 401h7v1h-7zM552 401h14v1h-14zM569 401h2v1h-2zM574 401h5v1h-5zM583 401h4v1h-4zM599 401h2v1h-2zM609 401h2v1h-2zM136 402h310v1h-310zM541 402h39v1h-39zM582 402h6v1h-6zM600 402h3v1h-3zM607 402h161v1h-161zM136 403h311v1h-311zM541 403h49v1h-49zM592 403h176v1h-176zM157 404h2v1h-2zM186 404h1v1h-1zM188 404h2v1h-2zM209 404h2v1h-2zM214 404h2v1h-2zM231 404h3v1h-3zM295 404h2v1h-2zM307 404h2v1h-2zM313 404h3v1h-3zM319 404h2v1h-2zM323 404h9v1h-9zM348 404h1v1h-1zM355 404h1v1h-1zM366 404h1v1h-1zM370 404h3v1h-3zM377 404h1v1h-1zM389 404h3v1h-3zM403 404h3v1h-3zM421 404h2v1h-2zM425 404h2v1h-2zM545 404h7v1h-7zM559 404h1v1h-1zM563 404h3v1h-3zM571 404h2v1h-2zM583 404h5v1h-5zM592 404h1v1h-1zM599 404h2v1h-2zM604 404h1v1h-1zM607 404h2v1h-2zM613 404h3v1h-3zM619 404h1v1h-1zM627 404h4v1h-4zM635 404h1v1h-1zM637 404h3v1h-3zM648 404h1v1h-1zM655 404h1v1h-1zM665 404h2v1h-2zM680 404h27v1h-27zM713 404h2v1h-2zM732 404h2v1h-2zM736 404h2v1h-2zM754 404h3v1h-3zM147 404h2v2h-2zM173 404h2v2h-2zM181 404h2v2h-2zM344 404h1v2h-1zM434 404h4v2h-4zM642 404h3v2h-3zM722 404h4v2h-4zM157 405h1v1h-1zM189 405h1v1h-1zM215 405h1v1h-1zM232 405h1v1h-1zM307 405h1v1h-1zM314 405h1v1h-1zM323 405h1v1h-1zM326 405h2v1h-2zM329 405h3v1h-3zM371 405h2v1h-2zM389 405h2v1h-2zM403 405h2v1h-2zM425 405h1v1h-1zM458 405h1v1h-1zM546 405h2v1h-2zM584 405h3v1h-3zM613 405h2v1h-2zM628 405h1v1h-1zM692 405h3v1h-3zM705 405h2v1h-2zM714 405h1v1h-1zM756 405h1v1h-1zM158 465h1v1h-1zM166 465h1v1h-1zM179 465h8v1h-8zM196 465h5v1h-5zM204 465h5v1h-5zM220 465h6v1h-6zM239 465h3v1h-3zM244 465h3v1h-3zM249 465h2v1h-2zM259 465h2v1h-2zM264 465h2v1h-2zM273 465h2v1h-2zM276 465h2v1h-2zM285 465h2v1h-2zM295 465h1v1h-1zM304 465h2v1h-2zM307 465h1v1h-1zM312 465h1v1h-1zM326 465h2v1h-2zM334 465h2v1h-2zM338 465h3v1h-3zM343 465h2v1h-2zM354 465h7v1h-7zM363 465h2v1h-2zM369 465h2v1h-2zM388 465h3v1h-3zM396 465h3v1h-3zM402 465h1v1h-1zM406 465h2v1h-2zM411 465h11v1h-11zM450 465h9v1h-9zM462 465h3v1h-3zM472 465h3v1h-3zM494 465h10v1h-10zM535 465h6v1h-6zM551 465h9v1h-9zM569 465h11v1h-11zM601 465h8v1h-8zM612 465h1v1h-1zM619 465h2v1h-2zM636 465h2v1h-2zM642 465h2v1h-2zM666 465h6v1h-6zM675 465h2v1h-2zM682 465h2v1h-2zM686 465h8v1h-8zM697 465h1v1h-1zM703 465h2v1h-2zM708 465h1v1h-1zM715 465h2v1h-2zM730 465h7v1h-7zM740 465h5v1h-5zM178 466h1v1h-1zM335 466h1v1h-1zM361 466h1v1h-1zM388 466h1v1h-1zM401 466h1v1h-1zM421 466h2v1h-2zM459 466h1v1h-1zM474 466h1v1h-1zM685 466h2v1h-2zM693 466h2v1h-2zM739 466h1v1h-1zM745 466h1v1h-1zM195 466h1v2h-1zM275 466h2v2h-2zM306 466h1v2h-1zM353 466h1v2h-1zM399 466h1v2h-1zM449 466h2v2h-2zM493 466h1v2h-1zM503 466h2v2h-2zM550 466h1v2h-1zM560 466h1v2h-1zM568 466h2v2h-2zM580 466h1v2h-1zM600 466h1v2h-1zM665 466h1v2h-1zM729 466h1v2h-1zM737 466h1v2h-1zM287 467h1v1h-1zM313 467h1v1h-1zM361 467h2v1h-2zM422 467h1v1h-1zM459 467h2v1h-2zM672 467h1v1h-1zM685 467h1v1h-1zM694 467h1v1h-1zM705 467h1v1h-1zM157 466h1v3h-1zM167 466h1v3h-1zM187 466h1v3h-1zM203 466h1v3h-1zM209 466h1v3h-1zM219 466h1v3h-1zM248 466h1v3h-1zM261 466h1v3h-1zM294 466h1v3h-1zM371 466h1v3h-1zM410 466h2v3h-2zM462 466h1v3h-1zM541 466h1v3h-1zM609 466h1v3h-1zM611 466h1v3h-1zM621 466h1v3h-1zM635 466h1v3h-1zM644 466h1v3h-1zM696 466h1v3h-1zM707 466h1v3h-1zM178 468h1v1h-1zM195 468h2v1h-2zM201 468h1v1h-1zM225 468h1v1h-1zM239 468h1v1h-1zM246 468h1v1h-1zM264 468h1v1h-1zM276 468h1v1h-1zM305 468h2v1h-2zM326 468h1v1h-1zM335 468h1v1h-1zM338 468h1v1h-1zM344 468h1v1h-1zM354 468h1v1h-1zM360 468h2v1h-2zM388 468h1v1h-1zM398 468h2v1h-2zM401 468h1v1h-1zM421 468h2v1h-2zM450 468h1v1h-1zM458 468h2v1h-2zM474 468h1v1h-1zM493 468h2v1h-2zM503 468h1v1h-1zM535 468h1v1h-1zM550 468h2v1h-2zM559 468h2v1h-2zM569 468h1v1h-1zM579 468h2v1h-2zM600 468h2v1h-2zM665 468h2v1h-2zM671 468h1v1h-1zM683 468h1v1h-1zM686 468h1v1h-1zM693 468h1v1h-1zM716 468h1v1h-1zM729 468h2v1h-2zM736 468h2v1h-2zM739 468h1v1h-1zM745 468h1v1h-1zM159 469h7v1h-7zM180 469h5v1h-5zM221 469h3v1h-3zM241 469h4v1h-4zM250 469h10v1h-10zM265 469h9v1h-9zM277 469h9v1h-9zM296 469h9v1h-9zM308 469h4v1h-4zM327 469h7v1h-7zM340 469h3v1h-3zM364 469h6v1h-6zM390 469h8v1h-8zM403 469h4v1h-4zM413 469h7v1h-7zM453 469h4v1h-4zM463 469h11v1h-11zM496 469h6v1h-6zM537 469h3v1h-3zM553 469h5v1h-5zM571 469h7v1h-7zM603 469h4v1h-4zM613 469h7v1h-7zM637 469h6v1h-6zM676 469h7v1h-7zM698 469h6v1h-6zM709 469h7v1h-7zM742 469h1v1h-1z"/>
<path fill="#ffaa00" d="M265 353h7v1h-7zM264 354h10v1h-10zM257 355h19v1h-19zM256 356h21v1h-21zM255 357h23v1h-23zM254 358h21v1h-21zM288 358h1v1h-1zM253 359h21v1h-21zM285 359h12v1h-12zM252 360h22v1h-22zM283 360h16v1h-16zM252 361h20v1h-20zM281 361h18v2h-18zM253 362h1v1h-1zM255 362h4v1h-4zM260 362h2v1h-2zM263 362h1v1h-1zM266 362h4v1h-4zM262 363h2v1h-2zM283 363h13v1h-13zM297 363h1v1h-1zM409 363h2v1h-2zM735 363h1v1h-1zM260 364h1v1h-1zM262 364h3v1h-3zM272 364h1v1h-1zM398 364h1v1h-1zM400 364h5v1h-5zM408 364h4v1h-4zM727 364h12v1h-12zM284 364h11v2h-11zM258 365h2v1h-2zM262 365h5v1h-5zM269 365h5v1h-5zM392 365h3v1h-3zM398 365h3v1h-3zM402 365h1v1h-1zM404 365h8v1h-8zM726 365h1v1h-1zM734 365h7v1h-7zM258 366h1v1h-1zM263 366h11v1h-11zM285 366h1v1h-1zM393 366h3v1h-3zM407 366h6v1h-6zM725 366h1v1h-1zM257 367h2v1h-2zM265 367h10v1h-10zM291 367h1v1h-1zM394 367h3v1h-3zM408 367h5v1h-5zM680 367h5v1h-5zM723 367h1v1h-1zM280 368h9v1h-9zM294 368h4v1h-4zM394 368h4v1h-4zM407 368h6v1h-6zM676 368h2v1h-2zM686 368h1v1h-1zM743 368h2v1h-2zM255 368h4v2h-4zM266 368h3v2h-3zM270 368h6v2h-6zM296 369h1v1h-1zM395 369h4v1h-4zM407 369h4v1h-4zM674 369h3v1h-3zM688 369h1v1h-1zM694 369h1v1h-1zM298 369h1v2h-1zM746 369h1v2h-1zM255 370h6v1h-6zM265 370h4v1h-4zM270 370h4v1h-4zM372 370h2v1h-2zM385 370h1v1h-1zM395 370h7v1h-7zM406 370h4v1h-4zM673 370h1v1h-1zM693 370h2v1h-2zM724 370h1v1h-1zM256 371h6v1h-6zM263 371h2v1h-2zM266 371h2v1h-2zM269 371h4v1h-4zM299 371h2v1h-2zM369 371h1v1h-1zM371 371h15v1h-15zM396 371h8v1h-8zM405 371h4v1h-4zM692 371h3v1h-3zM725 371h3v1h-3zM269 372h5v1h-5zM367 372h7v1h-7zM385 372h2v1h-2zM405 372h3v1h-3zM673 372h2v1h-2zM726 372h3v1h-3zM746 371h2v3h-2zM300 372h2v2h-2zM695 372h1v2h-1zM269 373h4v1h-4zM364 373h4v1h-4zM674 373h5v1h-5zM728 373h3v1h-3zM386 373h1v2h-1zM270 374h3v1h-3zM300 374h6v1h-6zM326 374h1v1h-1zM328 374h2v1h-2zM347 374h5v1h-5zM363 374h3v1h-3zM695 374h2v1h-2zM729 374h5v1h-5zM746 374h1v2h-1zM221 375h2v1h-2zM299 375h2v1h-2zM302 375h5v1h-5zM308 375h2v1h-2zM323 375h2v1h-2zM330 375h2v1h-2zM334 375h1v1h-1zM342 375h1v1h-1zM344 375h2v1h-2zM362 375h3v1h-3zM686 375h2v1h-2zM731 375h2v1h-2zM741 375h3v1h-3zM385 375h1v2h-1zM696 375h1v2h-1zM214 376h8v1h-8zM252 376h1v1h-1zM254 376h2v1h-2zM299 376h1v1h-1zM309 376h3v1h-3zM353 376h1v1h-1zM361 376h3v1h-3zM685 376h2v1h-2zM688 376h1v1h-1zM725 376h1v1h-1zM740 376h3v1h-3zM678 374h1v4h-1zM270 375h4v3h-4zM319 375h2v3h-2zM206 377h2v1h-2zM255 377h2v1h-2zM309 377h1v1h-1zM335 377h5v1h-5zM356 377h4v1h-4zM361 377h1v1h-1zM685 377h1v1h-1zM689 377h1v1h-1zM704 377h5v1h-5zM725 377h2v1h-2zM738 377h4v1h-4zM748 377h3v1h-3zM384 377h2v2h-2zM733 377h1v2h-1zM186 378h5v1h-5zM197 378h5v1h-5zM204 378h2v1h-2zM226 378h1v1h-1zM231 378h1v1h-1zM239 378h1v1h-1zM245 378h6v1h-6zM256 378h2v1h-2zM267 378h6v1h-6zM313 378h1v1h-1zM317 378h3v1h-3zM359 378h2v1h-2zM378 378h2v1h-2zM674 378h3v1h-3zM685 378h5v1h-5zM693 378h1v1h-1zM695 378h1v1h-1zM699 378h2v1h-2zM702 378h9v1h-9zM716 378h1v1h-1zM724 378h3v1h-3zM738 378h12v1h-12zM751 378h1v1h-1zM179 379h3v1h-3zM186 379h20v1h-20zM227 379h7v1h-7zM238 379h1v1h-1zM240 379h7v1h-7zM257 379h4v1h-4zM262 379h8v1h-8zM311 379h2v1h-2zM315 379h3v1h-3zM374 379h6v1h-6zM385 379h8v1h-8zM662 379h1v1h-1zM685 379h3v1h-3zM697 379h3v1h-3zM704 379h6v1h-6zM716 379h2v1h-2zM723 379h4v1h-4zM744 379h1v1h-1zM747 379h3v2h-3zM196 380h1v1h-1zM203 380h2v1h-2zM236 380h1v1h-1zM243 380h2v1h-2zM260 380h7v1h-7zM376 380h2v1h-2zM660 380h2v1h-2zM699 380h1v1h-1zM718 380h2v1h-2zM722 380h4v1h-4zM387 380h7v2h-7zM263 381h1v1h-1zM378 381h1v1h-1zM658 381h2v1h-2zM748 381h2v1h-2zM383 381h1v2h-1zM379 382h1v1h-1zM387 382h5v1h-5zM657 382h2v1h-2zM747 382h1v2h-1zM379 383h5v1h-5zM656 383h2v1h-2zM753 382h1v3h-1zM386 383h5v2h-5zM381 384h2v1h-2zM174 383h1v3h-1zM435 385h1v1h-1zM752 385h2v1h-2zM656 384h1v3h-1zM435 386h3v1h-3zM440 386h11v1h-11zM416 387h2v1h-2zM436 387h2v1h-2zM439 387h3v1h-3zM449 387h2v1h-2zM655 387h2v1h-2zM653 388h4v1h-4zM652 389h5v1h-5zM450 390h1v1h-1zM650 390h7v1h-7zM415 388h3v4h-3zM427 388h2v4h-2zM436 388h6v4h-6zM449 391h2v1h-2zM649 391h8v1h-8zM154 392h1v1h-1zM158 392h291v1h-291zM646 392h122v1h-122zM146 393h9v1h-9zM158 393h290v1h-290zM630 393h6v1h-6zM647 393h121v1h-121zM136 394h1v1h-1zM145 394h10v1h-10zM158 394h289v1h-289zM626 394h12v1h-12zM646 394h122v1h-122zM136 395h4v1h-4zM143 395h12v1h-12zM619 395h1v1h-1zM623 395h15v1h-15zM641 395h127v1h-127zM158 395h288v3h-288zM136 396h19v2h-19zM617 396h151v2h-151zM408 398h38v1h-38zM617 398h41v1h-41zM159 465h7v1h-7zM242 465h2v1h-2zM251 465h8v1h-8zM266 465h7v1h-7zM278 465h7v1h-7zM296 465h8v1h-8zM308 465h4v1h-4zM328 465h6v1h-6zM341 465h2v1h-2zM365 465h4v1h-4zM391 465h5v1h-5zM403 465h3v1h-3zM465 465h7v1h-7zM613 465h6v1h-6zM638 465h4v1h-4zM677 465h5v1h-5zM698 465h5v1h-5zM709 465h6v1h-6zM166 466h1v1h-1zM179 466h1v1h-1zM185 466h2v1h-2zM196 466h2v1h-2zM200 466h2v1h-2zM204 466h1v1h-1zM220 466h1v1h-1zM312 466h1v1h-1zM334 466h1v1h-1zM354 466h2v1h-2zM359 466h2v1h-2zM370 466h1v1h-1zM389 466h1v1h-1zM412 466h2v1h-2zM419 466h2v1h-2zM456 466h3v1h-3zM473 466h1v1h-1zM501 466h2v1h-2zM540 466h1v1h-1zM551 466h2v1h-2zM558 466h2v1h-2zM570 466h2v1h-2zM601 466h2v1h-2zM612 466h1v1h-1zM666 466h2v1h-2zM670 466h2v1h-2zM687 466h2v1h-2zM691 466h2v1h-2zM708 466h1v1h-1zM740 466h1v1h-1zM744 466h1v1h-1zM208 466h1v2h-1zM225 466h1v2h-1zM239 466h1v2h-1zM246 466h1v2h-1zM260 466h1v2h-1zM264 466h1v2h-1zM274 466h1v2h-1zM286 466h1v2h-1zM305 466h1v2h-1zM326 466h1v2h-1zM338 466h1v2h-1zM344 466h1v2h-1zM363 466h1v2h-1zM398 466h1v2h-1zM451 466h2v2h-2zM463 466h1v2h-1zM494 466h2v2h-2zM535 466h1v2h-1zM578 466h2v2h-2zM608 466h1v2h-1zM636 466h1v2h-1zM643 466h1v2h-1zM683 466h1v2h-1zM716 466h1v2h-1zM730 466h2v2h-2zM735 466h2v2h-2zM178 467h2v1h-2zM186 467h1v1h-1zM196 467h1v1h-1zM201 467h1v1h-1zM335 467h1v1h-1zM354 467h1v1h-1zM360 467h1v1h-1zM388 467h2v1h-2zM401 467h1v1h-1zM412 467h1v1h-1zM420 467h2v1h-2zM457 467h2v1h-2zM473 467h2v1h-2zM502 467h1v1h-1zM551 467h1v1h-1zM559 467h1v1h-1zM570 467h1v1h-1zM601 467h1v1h-1zM666 467h1v1h-1zM671 467h1v1h-1zM686 467h2v1h-2zM692 467h2v1h-2zM739 467h1v1h-1zM745 467h1v1h-1zM158 466h1v3h-1zM249 466h1v3h-1zM295 466h1v3h-1zM407 466h1v3h-1zM620 466h1v3h-1zM675 466h1v3h-1zM704 466h1v3h-1zM166 468h1v1h-1zM179 468h3v1h-3zM184 468h3v1h-3zM197 468h4v1h-4zM204 468h5v1h-5zM220 468h1v1h-1zM224 468h1v1h-1zM240 468h1v1h-1zM245 468h1v1h-1zM259 468h2v1h-2zM265 468h1v1h-1zM273 468h2v1h-2zM277 468h1v1h-1zM285 468h2v1h-2zM304 468h1v1h-1zM307 468h1v1h-1zM312 468h1v1h-1zM327 468h1v1h-1zM334 468h1v1h-1zM339 468h1v1h-1zM343 468h1v1h-1zM355 468h5v1h-5zM363 468h2v1h-2zM370 468h1v1h-1zM389 468h2v1h-2zM397 468h1v1h-1zM402 468h1v1h-1zM412 468h9v1h-9zM451 468h7v1h-7zM463 468h2v1h-2zM472 468h2v1h-2zM495 468h8v1h-8zM536 468h1v1h-1zM540 468h1v1h-1zM552 468h7v1h-7zM570 468h9v1h-9zM602 468h2v1h-2zM606 468h3v1h-3zM612 468h1v1h-1zM636 468h2v1h-2zM642 468h2v1h-2zM667 468h4v1h-4zM682 468h1v1h-1zM687 468h6v1h-6zM697 468h1v1h-1zM708 468h1v1h-1zM715 468h1v1h-1zM731 468h5v1h-5zM740 468h2v1h-2zM743 468h2v1h-2z"/>
<path fill="#0066ff" d="M696 361h1v1h-1zM695 362h6v1h-6zM589 363h2v1h-2zM695 363h5v1h-5zM569 364h2v1h-2zM572 364h4v1h-4zM578 364h4v1h-4zM586 364h6v1h-6zM607 364h2v1h-2zM610 364h6v1h-6zM673 364h1v1h-1zM686 364h2v1h-2zM694 364h4v1h-4zM557 365h2v1h-2zM560 365h4v1h-4zM567 365h12v1h-12zM581 365h13v1h-13zM605 365h12v1h-12zM621 365h2v1h-2zM673 365h2v1h-2zM685 365h2v1h-2zM693 365h4v1h-4zM702 365h3v1h-3zM554 366h23v1h-23zM583 366h12v1h-12zM600 366h17v1h-17zM622 366h4v1h-4zM641 366h1v1h-1zM671 366h3v1h-3zM691 366h4v1h-4zM701 366h5v1h-5zM520 367h1v1h-1zM536 367h15v1h-15zM552 367h20v1h-20zM584 367h11v1h-11zM596 367h20v1h-20zM623 367h1v1h-1zM628 367h6v1h-6zM639 367h4v1h-4zM668 367h4v1h-4zM692 367h2v1h-2zM701 367h2v1h-2zM704 367h3v1h-3zM493 368h1v1h-1zM496 368h5v1h-5zM502 368h3v1h-3zM513 368h1v1h-1zM517 368h6v1h-6zM533 368h1v1h-1zM538 368h11v1h-11zM555 368h14v1h-14zM587 368h6v1h-6zM595 368h20v1h-20zM669 368h1v1h-1zM701 368h1v1h-1zM705 368h2v1h-2zM628 368h15v2h-15zM167 369h3v1h-3zM491 369h28v1h-28zM539 369h3v1h-3zM544 369h3v1h-3zM556 369h5v1h-5zM602 369h6v1h-6zM706 369h1v1h-1zM167 370h4v1h-4zM490 370h12v1h-12zM557 370h2v1h-2zM603 370h5v1h-5zM628 370h16v1h-16zM475 371h11v1h-11zM489 371h11v1h-11zM604 371h2v1h-2zM629 371h5v1h-5zM637 371h5v1h-5zM458 372h2v1h-2zM464 372h2v1h-2zM477 372h7v1h-7zM490 372h8v1h-8zM630 372h3v1h-3zM166 371h5v3h-5zM446 373h9v1h-9zM457 373h1v1h-1zM459 373h7v1h-7zM478 373h6v1h-6zM492 373h4v1h-4zM645 373h1v1h-1zM445 374h1v1h-1zM448 374h5v1h-5zM464 374h1v1h-1zM479 374h4v1h-4zM646 374h1v2h-1zM649 374h2v2h-2zM443 375h3v1h-3zM653 375h2v1h-2zM430 376h4v1h-4zM438 376h1v1h-1zM441 376h3v1h-3zM646 376h2v1h-2zM649 376h6v1h-6zM422 377h17v1h-17zM649 377h5v2h-5zM406 378h2v1h-2zM420 378h9v1h-9zM432 378h5v1h-5zM396 379h2v1h-2zM405 379h6v1h-6zM420 379h4v1h-4zM427 379h2v1h-2zM652 379h1v1h-1zM396 380h4v1h-4zM403 380h7v1h-7zM396 381h13v1h-13zM396 382h9v1h-9zM422 382h4v1h-4zM396 383h10v1h-10zM421 383h7v1h-7zM394 384h12v1h-12zM413 384h4v1h-4zM420 384h13v1h-13zM441 384h1v1h-1zM147 385h1v1h-1zM395 385h10v1h-10zM413 385h20v1h-20zM451 385h1v1h-1zM144 386h9v1h-9zM397 386h35v1h-35zM756 386h2v1h-2zM760 386h1v1h-1zM142 387h13v1h-13zM398 387h4v1h-4zM404 387h12v1h-12zM420 387h9v1h-9zM757 387h8v1h-8zM150 388h1v1h-1zM154 388h1v1h-1zM400 388h1v1h-1zM412 388h1v1h-1zM421 388h5v1h-5zM757 388h11v1h-11zM155 389h2v1h-2zM758 389h10v1h-10zM136 390h5v1h-5zM155 390h3v1h-3zM758 390h3v1h-3zM763 390h5v1h-5zM136 391h6v1h-6zM147 391h8v1h-8zM157 391h1v1h-1zM139 392h2v1h-2zM146 392h8v1h-8zM646 393h1v1h-1zM614 394h4v1h-4zM638 394h4v1h-4zM614 395h5v1h-5zM638 395h3v1h-3zM614 396h3v1h-3zM541 399h1v1h-1zM574 400h1v1h-1zM571 401h3v1h-3zM611 401h1v1h-1zM458 404h5v1h-5zM463 405h1v1h-1zM464 406h1v1h-1zM630 406h2v1h-2zM409 407h2v1h-2zM629 407h4v2h-4zM513 408h1v1h-1zM408 408h4v2h-4zM630 409h2v1h-2zM409 410h2v1h-2zM502 411h4v1h-4zM706 411h2v1h-2zM705 412h4v2h-4zM148 414h1v1h-1zM706 414h2v1h-2zM147 415h3v1h-3zM146 416h5v1h-5zM147 417h3v1h-3zM148 418h1v1h-1zM138 465h2v1h-2zM143 465h1v1h-1zM147 465h3v1h-3zM153 465h2v1h-2zM191 465h3v1h-3zM213 465h2v1h-2zM230 465h4v1h-4zM290 465h2v1h-2zM318 465h4v1h-4zM347 465h1v1h-1zM350 465h2v1h-2zM375 465h6v1h-6zM384 465h2v1h-2zM425 465h6v1h-6zM434 465h2v1h-2zM438 465h2v1h-2zM442 465h5v1h-5zM477 465h1v1h-1zM483 465h2v1h-2zM506 465h2v1h-2zM513 465h1v1h-1zM519 465h3v1h-3zM526 465h1v1h-1zM531 465h1v1h-1zM583 465h3v1h-3zM593 465h4v1h-4zM624 465h2v1h-2zM631 465h1v1h-1zM649 465h4v1h-4zM658 465h4v1h-4zM720 465h6v1h-6zM750 465h4v1h-4zM759 465h2v1h-2zM763 465h2v1h-2zM289 466h1v1h-1zM316 466h1v1h-1zM424 466h1v1h-1zM476 466h1v1h-1zM486 466h1v1h-1zM525 466h1v1h-1zM544 466h1v1h-1zM547 466h1v1h-1zM582 466h1v1h-1zM654 466h1v1h-1zM657 466h1v1h-1zM726 466h1v1h-1zM755 466h1v1h-1zM765 466h1v1h-1zM169 466h1v2h-1zM174 466h1v2h-1zM216 466h1v2h-1zM323 466h1v2h-1zM373 466h1v2h-1zM440 466h2v2h-2zM490 466h1v2h-1zM505 466h1v2h-1zM517 466h1v2h-1zM562 466h1v2h-1zM586 466h1v2h-1zM647 466h1v2h-1zM719 466h1v2h-1zM748 466h1v2h-1zM210 467h1v1h-1zM315 467h1v1h-1zM755 467h2v1h-2zM144 466h2v3h-2zM151 466h1v3h-1zM228 466h1v3h-1zM235 466h1v3h-1zM293 466h1v3h-1zM381 466h1v3h-1zM431 466h1v3h-1zM447 466h1v3h-1zM566 466h1v3h-1zM758 466h1v3h-1zM169 468h2v1h-2zM173 468h2v1h-2zM194 468h1v1h-1zM211 468h1v1h-1zM215 468h2v1h-2zM289 468h1v1h-1zM316 468h1v1h-1zM322 468h2v1h-2zM386 468h1v1h-1zM424 468h1v1h-1zM440 468h1v1h-1zM476 468h1v1h-1zM486 468h1v1h-1zM489 468h1v1h-1zM514 468h1v1h-1zM522 468h1v1h-1zM525 468h1v1h-1zM532 468h1v1h-1zM544 468h4v1h-4zM563 468h1v1h-1zM582 468h1v1h-1zM587 468h1v1h-1zM589 468h1v1h-1zM592 468h1v1h-1zM597 468h1v1h-1zM632 468h1v1h-1zM647 468h2v1h-2zM653 468h2v1h-2zM657 468h1v1h-1zM662 468h1v1h-1zM726 468h1v1h-1zM748 468h2v1h-2zM754 468h2v1h-2zM765 468h1v1h-1zM141 469h1v1h-1zM478 469h5v1h-5zM508 469h5v1h-5zM529 469h1v1h-1zM626 469h5v1h-5z"/>
<path fill="#ff5500" d="M261 364h1v1h-1zM260 365h2v1h-2zM403 365h1v1h-1zM728 365h6v1h-6zM259 366h4v1h-4zM726 366h1v1h-1zM732 366h2v1h-2zM259 367h1v1h-1zM262 367h3v1h-3zM397 367h1v1h-1zM407 367h1v1h-1zM724 367h1v1h-1zM263 368h3v1h-3zM723 368h1v1h-1zM406 368h1v2h-1zM265 369h1v1h-1zM298 371h1v1h-1zM299 372h1v1h-1zM374 372h1v1h-1zM675 372h2v1h-2zM385 373h1v2h-1zM686 374h2v1h-2zM684 375h2v1h-2zM253 376h1v1h-1zM342 376h1v1h-1zM208 377h2v1h-2zM252 377h1v1h-1zM254 377h1v1h-1zM321 377h1v1h-1zM690 377h4v1h-4zM727 377h5v1h-5zM684 376h1v3h-1zM696 377h1v2h-1zM206 378h3v1h-3zM251 378h2v1h-2zM255 378h1v1h-1zM273 378h3v1h-3zM320 378h1v1h-1zM376 378h1v1h-1zM380 378h4v1h-4zM678 378h1v1h-1zM727 378h1v1h-1zM732 378h1v1h-1zM736 378h2v1h-2zM750 378h1v1h-1zM184 379h2v1h-2zM247 379h5v1h-5zM256 379h1v1h-1zM270 379h1v1h-1zM275 379h2v1h-2zM362 379h3v1h-3zM372 379h2v1h-2zM675 379h4v1h-4zM745 379h2v1h-2zM750 379h2v1h-2zM185 380h7v1h-7zM197 380h6v1h-6zM232 380h3v1h-3zM242 380h1v1h-1zM250 380h1v1h-1zM258 380h1v1h-1zM267 380h2v1h-2zM374 380h2v1h-2zM385 380h2v1h-2zM716 380h2v1h-2zM750 380h1v1h-1zM199 381h3v1h-3zM262 381h1v1h-1zM264 381h4v1h-4zM376 381h1v1h-1zM717 381h4v1h-4zM747 381h1v1h-1zM386 381h1v2h-1zM433 384h1v1h-1zM657 385h95v1h-95zM175 385h215v2h-215zM433 385h2v2h-2zM657 386h94v2h-94zM159 387h232v1h-232zM402 387h2v1h-2zM418 387h2v1h-2zM433 387h3v1h-3zM442 387h7v1h-7zM159 388h241v1h-241zM401 388h7v1h-7zM411 388h1v1h-1zM413 388h2v1h-2zM418 388h3v1h-3zM426 388h1v1h-1zM429 388h1v1h-1zM432 388h4v1h-4zM657 388h93v1h-93zM442 388h9v2h-9zM160 389h255v1h-255zM657 389h92v2h-92zM442 390h8v1h-8zM418 389h9v3h-9zM429 389h7v3h-7zM159 390h256v2h-256zM442 391h7v1h-7zM657 391h91v1h-91zM159 466h1v1h-1zM165 466h1v1h-1zM180 466h5v1h-5zM198 466h2v1h-2zM205 466h3v1h-3zM221 466h1v1h-1zM223 466h2v1h-2zM240 466h2v1h-2zM244 466h2v1h-2zM265 466h2v1h-2zM277 466h2v1h-2zM327 466h2v1h-2zM333 466h1v1h-1zM356 466h3v1h-3zM369 466h1v1h-1zM390 466h3v1h-3zM394 466h4v1h-4zM406 466h1v1h-1zM414 466h5v1h-5zM453 466h3v1h-3zM464 466h2v1h-2zM471 466h2v1h-2zM496 466h5v1h-5zM536 466h4v1h-4zM553 466h5v1h-5zM572 466h6v1h-6zM603 466h5v1h-5zM613 466h1v1h-1zM637 466h2v1h-2zM641 466h2v1h-2zM668 466h2v1h-2zM689 466h2v1h-2zM709 466h1v1h-1zM741 466h3v1h-3zM250 466h1v2h-1zM259 466h1v2h-1zM273 466h1v2h-1zM285 466h1v2h-1zM296 466h1v2h-1zM304 466h1v2h-1zM307 466h1v2h-1zM339 466h1v2h-1zM343 466h1v2h-1zM364 466h1v2h-1zM402 466h1v2h-1zM619 466h1v2h-1zM676 466h1v2h-1zM682 466h1v2h-1zM697 466h1v2h-1zM703 466h1v2h-1zM715 466h1v2h-1zM732 466h3v2h-3zM166 467h1v1h-1zM180 467h6v1h-6zM197 467h4v1h-4zM204 467h4v1h-4zM220 467h1v1h-1zM224 467h1v1h-1zM240 467h1v1h-1zM245 467h1v1h-1zM265 467h1v1h-1zM277 467h1v1h-1zM312 467h1v1h-1zM327 467h1v1h-1zM334 467h1v1h-1zM355 467h5v1h-5zM370 467h1v1h-1zM390 467h2v1h-2zM396 467h2v1h-2zM413 467h7v1h-7zM453 467h4v1h-4zM464 467h1v1h-1zM472 467h1v1h-1zM496 467h6v1h-6zM536 467h1v1h-1zM540 467h1v1h-1zM552 467h7v1h-7zM571 467h7v1h-7zM602 467h6v1h-6zM612 467h1v1h-1zM637 467h1v1h-1zM642 467h1v1h-1zM667 467h4v1h-4zM688 467h4v1h-4zM708 467h1v1h-1zM740 467h5v1h-5zM159 468h2v1h-2zM164 468h2v1h-2zM182 468h2v1h-2zM221 468h3v1h-3zM241 468h4v1h-4zM250 468h2v1h-2zM257 468h2v1h-2zM266 468h2v1h-2zM271 468h2v1h-2zM278 468h2v1h-2zM284 468h1v1h-1zM296 468h2v1h-2zM302 468h2v1h-2zM308 468h4v1h-4zM328 468h6v1h-6zM340 468h3v1h-3zM365 468h5v1h-5zM391 468h6v1h-6zM403 468h4v1h-4zM465 468h7v1h-7zM537 468h3v1h-3zM604 468h2v1h-2zM613 468h7v1h-7zM638 468h4v1h-4zM676 468h2v1h-2zM681 468h1v1h-1zM698 468h2v1h-2zM701 468h3v1h-3zM709 468h2v1h-2zM714 468h1v1h-1zM742 468h1v1h-1z"/>
<path fill="#ffa0a8" d="M396 365h2v1h-2zM727 365h1v1h-1zM397 366h3v1h-3zM402 366h5v1h-5zM727 366h3v1h-3zM734 366h6v1h-6zM290 367h1v1h-1zM725 367h16v1h-16zM398 367h8v2h-8zM289 368h2v1h-2zM678 368h8v1h-8zM724 368h18v1h-18zM284 369h8v1h-8zM297 369h1v1h-1zM399 369h7v1h-7zM677 369h11v1h-11zM724 369h20v1h-20zM274 370h20v1h-20zM296 370h2v1h-2zM404 370h1v1h-1zM674 370h15v1h-15zM728 370h18v1h-18zM274 371h24v1h-24zM674 371h18v1h-18zM730 371h16v1h-16zM274 372h25v1h-25zM376 372h7v1h-7zM677 372h18v1h-18zM733 372h13v1h-13zM274 373h26v1h-26zM368 373h16v1h-16zM679 373h16v1h-16zM734 373h12v1h-12zM273 374h26v1h-26zM366 374h19v1h-19zM679 374h7v1h-7zM689 374h6v1h-6zM734 374h7v1h-7zM742 374h4v1h-4zM274 375h25v1h-25zM321 375h2v1h-2zM332 375h2v1h-2zM365 375h20v1h-20zM690 375h6v1h-6zM734 375h6v1h-6zM679 375h5v2h-5zM274 376h24v1h-24zM321 376h13v1h-13zM343 376h1v1h-1zM352 376h1v1h-1zM364 376h21v1h-21zM692 376h4v1h-4zM734 376h5v1h-5zM300 376h9v2h-9zM275 377h23v1h-23zM322 377h12v1h-12zM362 377h3v1h-3zM376 377h8v1h-8zM695 377h1v1h-1zM734 377h4v1h-4zM679 377h4v2h-4zM276 378h13v1h-13zM294 378h4v1h-4zM300 378h4v1h-4zM326 378h8v1h-8zM734 378h1v1h-1zM342 377h11v3h-11zM278 379h3v1h-3z"/>
<path fill="#ff2020" d="M401 365h1v1h-1zM396 366h1v1h-1zM400 366h2v1h-2zM730 366h2v1h-2zM740 366h2v1h-2zM260 367h2v1h-2zM406 367h1v1h-1zM741 367h2v1h-2zM259 368h4v1h-4zM291 368h1v1h-1zM742 368h1v1h-1zM259 369h6v1h-6zM276 369h8v1h-8zM292 369h4v1h-4zM744 369h2v1h-2zM261 370h4v1h-4zM294 370h2v1h-2zM402 370h2v1h-2zM405 370h1v1h-1zM725 370h3v1h-3zM262 371h1v1h-1zM273 371h1v1h-1zM404 371h1v1h-1zM673 371h1v1h-1zM728 371h2v1h-2zM375 372h1v1h-1zM383 372h2v1h-2zM729 372h4v1h-4zM273 373h1v1h-1zM384 373h1v1h-1zM731 373h3v1h-3zM299 374h1v1h-1zM327 374h1v1h-1zM688 374h1v1h-1zM741 374h1v1h-1zM301 375h1v1h-1zM325 375h5v1h-5zM343 375h1v1h-1zM346 375h6v1h-6zM688 375h2v1h-2zM740 375h1v1h-1zM222 376h2v1h-2zM298 376h1v1h-1zM344 376h8v1h-8zM689 376h3v1h-3zM739 376h1v1h-1zM334 376h1v2h-1zM210 377h15v1h-15zM253 377h1v1h-1zM274 377h1v1h-1zM340 377h2v1h-2zM353 377h3v1h-3zM365 377h11v1h-11zM298 377h2v2h-2zM683 377h1v2h-1zM694 377h1v2h-1zM209 378h17v1h-17zM253 378h2v1h-2zM289 378h5v1h-5zM304 378h5v1h-5zM321 378h5v1h-5zM334 378h8v1h-8zM353 378h6v1h-6zM361 378h15v1h-15zM377 378h1v1h-1zM669 378h4v1h-4zM690 378h3v1h-3zM701 378h1v1h-1zM713 378h1v1h-1zM728 378h4v1h-4zM735 378h1v1h-1zM175 379h4v1h-4zM206 379h21v1h-21zM239 379h1v1h-1zM252 379h4v1h-4zM271 379h4v1h-4zM277 379h1v1h-1zM281 379h30v1h-30zM313 379h2v1h-2zM318 379h24v1h-24zM353 379h9v1h-9zM365 379h7v1h-7zM663 379h12v1h-12zM679 379h6v1h-6zM688 379h9v1h-9zM700 379h4v1h-4zM710 379h6v1h-6zM727 379h17v1h-17zM752 379h2v1h-2zM384 379h1v2h-1zM175 380h10v1h-10zM192 380h4v1h-4zM205 380h27v1h-27zM237 380h5v1h-5zM245 380h5v1h-5zM251 380h7v1h-7zM259 380h1v1h-1zM269 380h105v1h-105zM662 380h37v1h-37zM700 380h16v1h-16zM726 380h21v1h-21zM751 380h3v1h-3zM175 381h24v1h-24zM202 381h60v1h-60zM268 381h108v1h-108zM377 381h1v1h-1zM660 381h57v1h-57zM721 381h26v1h-26zM750 381h4v1h-4zM659 382h88v1h-88zM384 381h2v3h-2zM175 382h204v2h-204zM748 382h5v2h-5zM658 383h89v1h-89zM175 384h206v1h-206zM383 384h3v1h-3zM657 384h96v1h-96zM160 466h5v1h-5zM222 466h1v1h-1zM242 466h2v1h-2zM267 466h6v1h-6zM279 466h6v1h-6zM329 466h4v1h-4zM365 466h4v1h-4zM393 466h1v1h-1zM403 466h3v1h-3zM466 466h5v1h-5zM614 466h5v1h-5zM639 466h2v1h-2zM710 466h5v1h-5zM251 466h8v2h-8zM297 466h7v2h-7zM308 466h4v2h-4zM340 466h3v2h-3zM677 466h5v2h-5zM698 466h5v2h-5zM159 467h7v1h-7zM221 467h3v1h-3zM241 467h4v1h-4zM266 467h7v1h-7zM278 467h7v1h-7zM328 467h6v1h-6zM365 467h5v1h-5zM392 467h4v1h-4zM403 467h4v1h-4zM465 467h7v1h-7zM537 467h3v1h-3zM613 467h6v1h-6zM638 467h4v1h-4zM709 467h6v1h-6zM161 468h3v1h-3zM252 468h5v1h-5zM268 468h3v1h-3zM280 468h4v1h-4zM298 468h4v1h-4zM678 468h3v1h-3zM700 468h1v1h-1zM711 468h3v1h-3z"/>
<path fill="#0000b4" d="M579 365h2v1h-2zM618 365h2v1h-2zM577 366h6v1h-6zM617 366h5v1h-5zM626 366h2v1h-2zM527 367h3v1h-3zM572 367h12v1h-12zM616 367h7v1h-7zM624 367h4v1h-4zM523 368h9v1h-9zM534 368h4v1h-4zM549 368h6v1h-6zM569 368h18v1h-18zM593 368h2v1h-2zM615 368h13v1h-13zM519 369h20v1h-20zM542 369h2v1h-2zM547 369h9v1h-9zM561 369h41v1h-41zM608 369h20v2h-20zM502 370h55v1h-55zM559 370h44v1h-44zM470 371h5v1h-5zM486 371h3v1h-3zM500 371h104v1h-104zM606 371h3v1h-3zM620 371h9v1h-9zM634 371h3v1h-3zM642 371h2v1h-2zM468 372h9v1h-9zM484 372h6v1h-6zM498 372h23v1h-23zM525 372h36v1h-36zM564 372h44v1h-44zM633 372h1v1h-1zM635 372h10v1h-10zM455 373h2v1h-2zM458 373h1v1h-1zM466 373h12v1h-12zM484 373h8v1h-8zM496 373h17v1h-17zM517 373h3v1h-3zM525 373h34v1h-34zM570 373h10v1h-10zM589 373h6v1h-6zM601 373h5v1h-5zM637 373h8v1h-8zM446 374h2v1h-2zM453 374h11v1h-11zM465 374h14v1h-14zM483 374h6v1h-6zM491 374h20v1h-20zM526 374h10v1h-10zM539 374h9v1h-9zM572 374h8v1h-8zM591 374h3v1h-3zM638 374h8v2h-8zM446 375h5v1h-5zM453 375h3v1h-3zM460 375h1v1h-1zM463 375h26v1h-26zM527 375h3v1h-3zM541 375h4v1h-4zM575 375h5v1h-5zM439 376h2v1h-2zM444 376h6v1h-6zM464 376h11v1h-11zM484 376h5v1h-5zM639 376h7v1h-7zM439 377h11v1h-11zM466 377h2v1h-2zM486 377h3v1h-3zM640 377h9v1h-9zM413 378h1v1h-1zM429 378h3v1h-3zM440 378h2v1h-2zM443 378h2v1h-2zM643 378h5v1h-5zM411 379h9v1h-9zM424 379h3v1h-3zM429 379h7v1h-7zM644 379h3v1h-3zM410 380h21v1h-21zM654 380h1v2h-1zM409 381h30v1h-30zM405 382h17v1h-17zM426 382h15v1h-15zM406 383h15v1h-15zM428 383h13v1h-13zM406 384h7v1h-7zM417 384h3v1h-3zM434 384h7v1h-7zM405 385h8v1h-8zM439 385h1v1h-1zM653 382h2v5h-2zM136 386h4v1h-4zM438 386h2v1h-2zM136 387h6v1h-6zM438 387h1v1h-1zM452 387h1v2h-1zM136 388h14v1h-14zM151 388h3v1h-3zM136 389h19v1h-19zM451 389h1v1h-1zM141 390h14v1h-14zM142 391h5v1h-5zM155 391h2v1h-2zM144 392h2v1h-2zM633 392h4v1h-4zM627 393h3v1h-3zM636 393h4v1h-4zM618 394h2v1h-2zM624 394h2v1h-2zM620 395h3v1h-3zM613 396h1v1h-1zM552 398h4v1h-4zM543 399h2v1h-2zM551 399h10v1h-10zM555 400h4v1h-4zM575 400h3v1h-3zM611 400h1v1h-1zM601 401h1v1h-1zM608 401h1v1h-1zM605 402h2v1h-2zM487 408h3v1h-3zM511 408h2v1h-2zM486 409h4v1h-4zM505 409h2v1h-2zM508 409h4v1h-4zM531 409h5v1h-5zM486 410h11v1h-11zM503 410h8v1h-8zM533 410h1v1h-1zM489 411h1v1h-1zM140 465h3v1h-3zM348 465h2v1h-2zM436 465h2v1h-2zM478 465h5v1h-5zM508 465h5v1h-5zM527 465h4v1h-4zM626 465h5v1h-5zM761 465h2v1h-2zM138 466h1v1h-1zM146 466h1v1h-1zM150 466h1v1h-1zM152 466h1v1h-1zM170 466h4v1h-4zM190 466h1v1h-1zM211 466h2v1h-2zM214 466h2v1h-2zM317 466h2v1h-2zM320 466h3v1h-3zM346 466h1v1h-1zM383 466h1v1h-1zM430 466h1v1h-1zM434 466h1v1h-1zM484 466h1v1h-1zM487 466h3v1h-3zM506 466h1v1h-1zM518 466h1v1h-1zM545 466h2v1h-2zM565 466h1v1h-1zM587 466h3v1h-3zM624 466h1v1h-1zM648 466h2v1h-2zM652 466h2v1h-2zM720 466h1v1h-1zM749 466h6v1h-6zM194 466h1v2h-1zM229 466h1v2h-1zM234 466h1v2h-1zM374 466h1v2h-1zM386 466h1v2h-1zM514 466h1v2h-1zM522 466h1v2h-1zM532 466h1v2h-1zM563 466h1v2h-1zM592 466h1v2h-1zM597 466h1v2h-1zM632 466h1v2h-1zM662 466h1v2h-1zM170 467h1v1h-1zM173 467h1v1h-1zM211 467h1v1h-1zM215 467h1v1h-1zM289 467h1v1h-1zM316 467h2v1h-2zM322 467h1v1h-1zM424 467h1v1h-1zM476 467h1v1h-1zM486 467h1v1h-1zM489 467h1v1h-1zM525 467h1v1h-1zM544 467h4v1h-4zM582 467h1v1h-1zM587 467h1v1h-1zM589 467h1v1h-1zM648 467h1v1h-1zM653 467h2v1h-2zM657 467h1v1h-1zM726 467h1v1h-1zM749 467h2v1h-2zM754 467h1v1h-1zM765 467h1v1h-1zM138 468h1v1h-1zM146 468h5v1h-5zM152 468h1v1h-1zM155 468h1v1h-1zM171 468h2v1h-2zM190 468h1v1h-1zM212 468h3v1h-3zM229 468h6v1h-6zM290 468h3v1h-3zM317 468h5v1h-5zM346 468h1v1h-1zM351 468h1v1h-1zM374 468h2v1h-2zM380 468h1v1h-1zM383 468h1v1h-1zM385 468h1v1h-1zM425 468h1v1h-1zM430 468h1v1h-1zM434 468h1v1h-1zM439 468h1v1h-1zM442 468h1v1h-1zM446 468h1v1h-1zM484 468h1v1h-1zM487 468h2v1h-2zM506 468h1v1h-1zM518 468h4v1h-4zM526 468h1v1h-1zM564 468h2v1h-2zM585 468h1v1h-1zM588 468h1v1h-1zM593 468h1v1h-1zM596 468h1v1h-1zM624 468h1v1h-1zM649 468h4v1h-4zM658 468h1v1h-1zM661 468h1v1h-1zM720 468h1v1h-1zM725 468h1v1h-1zM750 468h4v1h-4zM759 468h1v1h-1zM764 468h1v1h-1z"/>
<path fill="#3300aa" d="M609 371h11v1h-11zM521 372h4v1h-4zM561 372h3v1h-3zM608 372h22v1h-22zM634 372h1v1h-1zM513 373h4v1h-4zM520 373h5v1h-5zM559 373h11v1h-11zM580 373h9v1h-9zM595 373h6v1h-6zM606 373h31v1h-31zM489 374h2v1h-2zM511 374h15v1h-15zM536 374h3v1h-3zM548 374h24v1h-24zM580 374h11v1h-11zM594 374h44v1h-44zM451 375h2v1h-2zM456 375h4v1h-4zM461 375h2v1h-2zM489 375h38v1h-38zM530 375h11v1h-11zM545 375h30v1h-30zM580 375h58v1h-58zM450 376h14v1h-14zM475 376h9v1h-9zM489 376h150v1h-150zM450 377h16v1h-16zM468 377h18v1h-18zM489 377h11v1h-11zM505 377h7v1h-7zM515 377h29v1h-29zM545 377h2v1h-2zM548 377h32v1h-32zM584 377h56v1h-56zM437 378h3v1h-3zM442 378h1v1h-1zM445 378h17v1h-17zM463 378h22v1h-22zM492 378h6v1h-6zM507 378h2v1h-2zM517 378h5v1h-5zM525 378h13v1h-13zM540 378h3v1h-3zM546 378h1v1h-1zM552 378h4v1h-4zM558 378h9v1h-9zM570 378h8v1h-8zM587 378h10v1h-10zM601 378h10v1h-10zM612 378h31v1h-31zM648 378h1v1h-1zM436 379h26v1h-26zM465 379h20v1h-20zM518 379h3v1h-3zM527 379h4v1h-4zM546 379h2v1h-2zM559 379h7v1h-7zM573 379h5v1h-5zM589 379h7v1h-7zM604 379h2v1h-2zM612 379h32v1h-32zM647 379h5v1h-5zM653 379h1v1h-1zM431 380h23v1h-23zM456 380h3v1h-3zM466 380h7v1h-7zM476 380h5v1h-5zM484 380h1v1h-1zM547 380h1v1h-1zM560 380h4v1h-4zM593 380h2v1h-2zM616 380h38v1h-38zM439 381h16v1h-16zM466 381h6v1h-6zM561 381h1v1h-1zM617 381h37v1h-37zM441 382h15v1h-15zM625 382h28v1h-28zM441 383h16v1h-16zM626 383h5v1h-5zM636 383h13v1h-13zM442 384h2v1h-2zM448 384h11v1h-11zM638 384h8v1h-8zM651 383h2v3h-2zM452 385h9v1h-9zM639 385h1v1h-1zM452 386h8v1h-8zM453 387h6v1h-6zM453 388h3v1h-3zM649 388h4v1h-4zM647 389h2v1h-2zM646 390h1v1h-1zM645 391h2v1h-2zM614 392h4v1h-4zM629 392h4v1h-4zM643 392h3v1h-3zM614 393h5v1h-5zM623 393h4v1h-4zM641 393h5v1h-5zM620 394h4v1h-4zM642 394h4v1h-4zM446 397h1v1h-1zM583 397h2v1h-2zM582 398h5v1h-5zM573 399h3v1h-3zM580 399h9v1h-9zM446 400h1v1h-1zM570 400h4v1h-4zM578 400h13v1h-13zM447 401h1v1h-1zM579 401h4v1h-4zM587 401h2v1h-2zM447 402h5v1h-5zM580 402h2v1h-2zM603 402h2v1h-2zM447 403h6v1h-6zM462 403h3v1h-3zM449 404h9v1h-9zM463 404h3v1h-3zM464 405h2v1h-2zM465 406h1v1h-1zM510 408h1v1h-1zM530 408h6v1h-6zM475 409h5v1h-5zM507 409h1v1h-1zM524 409h1v1h-1zM497 410h5v1h-5zM498 411h4v1h-4zM143 466h1v1h-1zM147 466h3v1h-3zM213 466h1v1h-1zM290 466h3v1h-3zM319 466h1v1h-1zM375 466h1v1h-1zM379 466h2v1h-2zM384 466h2v1h-2zM429 466h1v1h-1zM439 466h1v1h-1zM477 466h1v1h-1zM513 466h1v1h-1zM519 466h3v1h-3zM526 466h1v1h-1zM531 466h1v1h-1zM564 466h1v1h-1zM585 466h1v1h-1zM593 466h1v1h-1zM596 466h1v1h-1zM650 466h2v1h-2zM658 466h2v1h-2zM661 466h1v1h-1zM764 466h1v1h-1zM155 466h1v2h-1zM230 466h4v2h-4zM351 466h1v2h-1zM425 466h1v2h-1zM442 466h1v2h-1zM446 466h1v2h-1zM725 466h1v2h-1zM759 466h1v2h-1zM138 467h1v1h-1zM146 467h2v1h-2zM149 467h2v1h-2zM152 467h1v1h-1zM171 467h2v1h-2zM190 467h1v1h-1zM212 467h3v1h-3zM290 467h1v1h-1zM292 467h1v1h-1zM318 467h4v1h-4zM346 467h1v1h-1zM380 467h1v1h-1zM383 467h1v1h-1zM430 467h1v1h-1zM434 467h1v1h-1zM484 467h1v1h-1zM487 467h2v1h-2zM506 467h1v1h-1zM518 467h2v1h-2zM521 467h1v1h-1zM564 467h2v1h-2zM588 467h1v1h-1zM624 467h1v1h-1zM649 467h4v1h-4zM658 467h1v1h-1zM720 467h1v1h-1zM751 467h3v1h-3zM139 468h1v1h-1zM143 468h1v1h-1zM153 468h1v1h-1zM191 468h3v1h-3zM347 468h1v1h-1zM350 468h1v1h-1zM376 468h4v1h-4zM384 468h1v1h-1zM426 468h4v1h-4zM435 468h1v1h-1zM438 468h1v1h-1zM443 468h3v1h-3zM477 468h1v1h-1zM483 468h1v1h-1zM507 468h1v1h-1zM512 468h2v1h-2zM527 468h1v1h-1zM530 468h2v1h-2zM583 468h2v1h-2zM594 468h2v1h-2zM625 468h1v1h-1zM631 468h1v1h-1zM659 468h2v1h-2zM721 468h4v1h-4zM760 468h1v1h-1zM763 468h1v1h-1z"/>
<path fill="#8800aa" d="M500 377h5v1h-5zM512 377h3v1h-3zM544 377h1v1h-1zM547 377h1v1h-1zM580 377h4v1h-4zM462 378h1v1h-1zM485 378h7v1h-7zM498 378h9v1h-9zM509 378h8v1h-8zM522 378h3v1h-3zM538 378h2v1h-2zM543 378h3v1h-3zM547 378h5v1h-5zM556 378h2v1h-2zM567 378h3v1h-3zM578 378h9v1h-9zM597 378h4v1h-4zM611 378h1v1h-1zM462 379h3v1h-3zM485 379h33v1h-33zM521 379h6v1h-6zM531 379h15v1h-15zM548 379h11v1h-11zM566 379h7v1h-7zM578 379h11v1h-11zM596 379h8v1h-8zM606 379h6v1h-6zM454 380h2v1h-2zM459 380h7v1h-7zM473 380h3v1h-3zM481 380h3v1h-3zM485 380h62v1h-62zM548 380h12v1h-12zM564 380h29v1h-29zM595 380h21v1h-21zM455 381h11v1h-11zM472 381h89v1h-89zM562 381h55v1h-55zM456 382h169v1h-169zM457 383h169v1h-169zM631 383h5v1h-5zM649 383h2v1h-2zM459 384h179v1h-179zM646 384h5v1h-5zM461 385h178v1h-178zM640 385h11v1h-11zM460 386h193v1h-193zM459 387h195v1h-195zM456 388h193v1h-193zM452 389h195v1h-195zM451 390h195v1h-195zM451 391h194v1h-194zM449 392h165v1h-165zM618 392h11v1h-11zM637 392h6v1h-6zM448 393h166v1h-166zM619 393h4v1h-4zM640 393h1v1h-1zM447 394h167v1h-167zM446 395h168v1h-168zM446 396h167v1h-167zM447 397h136v1h-136zM585 397h29v1h-29zM446 398h106v1h-106zM556 398h26v1h-26zM587 398h28v1h-28zM446 399h95v1h-95zM545 399h6v1h-6zM562 399h11v1h-11zM576 399h4v1h-4zM589 399h25v1h-25zM447 400h93v1h-93zM564 400h6v1h-6zM591 400h20v1h-20zM448 401h92v1h-92zM566 401h3v1h-3zM592 401h7v1h-7zM602 401h6v1h-6zM452 402h88v1h-88zM593 402h7v1h-7zM453 403h9v1h-9zM465 403h76v1h-76zM466 404h75v2h-75zM466 406h76v2h-76zM467 408h20v1h-20zM490 408h20v1h-20zM514 408h16v1h-16zM536 408h7v1h-7zM467 409h3v1h-3zM480 409h6v1h-6zM490 409h15v1h-15zM515 409h9v1h-9zM538 409h6v1h-6zM468 410h1v1h-1zM481 410h4v1h-4zM502 410h1v1h-1zM482 411h2v1h-2zM139 466h4v1h-4zM376 466h3v1h-3zM426 466h3v1h-3zM435 466h4v1h-4zM478 466h6v1h-6zM507 466h6v1h-6zM527 466h4v1h-4zM583 466h2v1h-2zM594 466h2v1h-2zM660 466h1v1h-1zM760 466h4v1h-4zM153 466h2v2h-2zM191 466h3v2h-3zM347 466h4v2h-4zM443 466h3v2h-3zM625 466h7v2h-7zM721 466h4v2h-4zM139 467h5v1h-5zM148 467h1v1h-1zM291 467h1v1h-1zM375 467h5v1h-5zM384 467h2v1h-2zM426 467h4v1h-4zM435 467h5v1h-5zM477 467h7v1h-7zM507 467h7v1h-7zM520 467h1v1h-1zM526 467h6v1h-6zM583 467h3v1h-3zM593 467h4v1h-4zM659 467h3v1h-3zM760 467h5v1h-5zM140 468h3v1h-3zM154 468h1v1h-1zM348 468h2v1h-2zM436 468h2v1h-2zM478 468h5v1h-5zM508 468h4v1h-4zM528 468h2v1h-2zM626 468h5v1h-5zM761 468h2v1h-2z"/></g>
<rect x="136" y="157" width="632" height="316" fill="none" stroke="#000" stroke-width="2"/>
<path fill="#000" d="M160 158h1v4h-1zM160 468h1v4h-1zM184 158h2v9h-2zM184 463h2v9h-2zM210 158h1v4h-1zM210 468h1v4h-1zM235 158h2v9h-2zM235 463h2v9h-2zM261 158h1v4h-1zM261 468h1v4h-1zM286 158h2v9h-2zM286 463h2v9h-2zM312 158h1v4h-1zM312 468h1v4h-1zM336 158h2v9h-2zM336 463h2v9h-2zM363 158h1v4h-1zM363 468h1v4h-1zM387 158h2v9h-2zM387 463h2v9h-2zM414 158h1v4h-1zM414 468h1v4h-1zM438 158h2v9h-2zM438 463h2v9h-2zM465 158h1v4h-1zM465 468h1v4h-1zM489 158h2v9h-2zM489 463h2v9h-2zM515 158h1v4h-1zM515 468h1v4h-1zM540 158h2v9h-2zM540 463h2v9h-2zM566 158h1v4h-1zM566 468h1v4h-1zM591 158h2v9h-2zM591 463h2v9h-2zM617 158h1v4h-1zM617 468h1v4h-1zM641 158h2v9h-2zM641 463h2v9h-2zM668 158h1v4h-1zM668 468h1v4h-1zM692 158h2v9h-2zM692 463h2v9h-2zM719 158h1v4h-1zM719 468h1v4h-1zM743 158h2v9h-2zM743 463h2v9h-2zM137 459h4v1h-4zM763 459h4v1h-4zM137 443h4v1h-4zM763 443h4v1h-4zM137 427h4v1h-4zM763 427h4v1h-4zM137 411h4v1h-4zM763 411h4v1h-4zM137 394h8v2h-8zM759 394h8v2h-8zM137 379h4v1h-4zM763 379h4v1h-4zM137 363h4v1h-4zM763 363h4v1h-4zM137 347h4v1h-4zM763 347h4v1h-4zM137 331h4v1h-4zM763 331h4v1h-4zM137 314h8v2h-8zM759 314h8v2h-8zM137 299h4v1h-4zM763 299h4v1h-4zM137 283h4v1h-4zM763 283h4v1h-4zM137 267h4v1h-4zM763 267h4v1h-4zM137 251h4v1h-4zM763 251h4v1h-4zM137 234h8v2h-8zM759 234h8v2h-8zM137 219h4v1h-4zM763 219h4v1h-4zM137 203h4v1h-4zM763 203h4v1h-4zM137 187h4v1h-4zM763 187h4v1h-4zM137 171h4v1h-4zM763 171h4v1h-4z"/>
<rect x="784" y="247.0" width="18" height="22.7" fill="#ff2020"/>
<rect x="784" y="269.7" width="18" height="22.7" fill="#ff5500"/>
<rect x="784" y="292.4" width="18" height="22.7" fill="#ffaa00"/>
<rect x="784" y="315.1" width="18" height="22.7" fill="#ffff00"/>
<rect x="784" y="337.8" width="18" height="22.7" fill="#88ff00"/>
<rect x="784" y="360.5" width="18" height="22.7" fill="#00ff88"/>
<rect x="784" y="383.2" width="18" height="22.7" fill="#00ffff"/>
<rect x="784" y="405.9" width="18" height="22.7" fill="#0066ff"/>
<rect x="784" y="428.6" width="18" height="22.7" fill="#0000b4"/>
<rect x="784" y="451.3" width="18" height="22.7" fill="#3300aa"/>
<path d="M784 247L793.4 206.3L802 247z" fill="#ffa0a8" stroke="#000" stroke-width="2" stroke-linejoin="miter"/>
<path d="M784 474L793.4 515L802 474z" fill="#8800aa" stroke="#000" stroke-width="2" stroke-linejoin="miter"/>
<path d="M784 247.0H802M784 269.7H802M784 292.4H802M784 315.1H802M784 337.8H802M784 360.5H802M784 383.2H802M784 405.9H802M784 428.6H802M784 451.3H802M784 474.0H802M784 247V474M802 247V474" stroke="#000" stroke-width="2" fill="none"/>
<text x="224" y="112" font-family="DejaVu Sans Light, DejaVu Sans, Liberation Sans, sans-serif" font-weight="200" font-size="27.3" textLength="456" lengthAdjust="spacingAndGlyphs" class="lt">potential temperature deviation</text>
<text x="46.5" y="133.8" font-family="DejaVu Sans, Liberation Sans, sans-serif" font-size="16" textLength="98.5" lengthAdjust="spacingAndGlyphs" class="med">(×1000 m)</text>
<text x="684" y="517.3" font-family="DejaVu Sans, Liberation Sans, sans-serif" font-size="16" textLength="98.5" lengthAdjust="spacingAndGlyphs" class="med">(×1000 m)</text>
<text x="777.5" y="168.8" font-family="DejaVu Sans Light, DejaVu Sans, Liberation Sans, sans-serif" font-weight="200" font-size="16" textLength="120.5" lengthAdjust="spacingAndGlyphs" class="lt">t=1.2924e+06</text>
<text x="377.5" y="547" font-family="DejaVu Sans, Liberation Sans, sans-serif" font-size="22.6" textLength="149" lengthAdjust="spacingAndGlyphs" class="thin2">X coordinate</text>
<text transform="translate(90.7 389) rotate(-90)" font-family="DejaVu Sans, Liberation Sans, sans-serif" font-size="22.6" textLength="149" lengthAdjust="spacingAndGlyphs" class="thin2">Z coordinate</text>
<text x="185.5" y="494.7" font-family="DejaVu Sans, Liberation Sans, sans-serif" font-size="17" text-anchor="middle" class="med">4</text>
<text x="236.3" y="494.7" font-family="DejaVu Sans, Liberation Sans, sans-serif" font-size="17" text-anchor="middle" class="med">8</text>
<text x="287.1" y="494.7" font-family="DejaVu Sans, Liberation Sans, sans-serif" font-size="17" text-anchor="middle" class="med">12</text>
<text x="338.0" y="494.7" font-family="DejaVu Sans, Liberation Sans, sans-serif" font-size="17" text-anchor="middle" class="med">16</text>
<text x="388.8" y="494.7" font-family="DejaVu Sans, Liberation Sans, sans-serif" font-size="17" text-anchor="middle" class="med">20</text>
<text x="439.6" y="494.7" font-family="DejaVu Sans, Liberation Sans, sans-serif" font-size="17" text-anchor="middle" class="med">24</text>
<text x="490.4" y="494.7" font-family="DejaVu Sans, Liberation Sans, sans-serif" font-size="17" text-anchor="middle" class="med">28</text>
<text x="541.2" y="494.7" font-family="DejaVu Sans, Liberation Sans, sans-serif" font-size="17" text-anchor="middle" class="med">32</text>
<text x="592.1" y="494.7" font-family="DejaVu Sans, Liberation Sans, sans-serif" font-size="17" text-anchor="middle" class="med">36</text>
<text x="642.9" y="494.7" font-family="DejaVu Sans, Liberation Sans, sans-serif" font-size="17" text-anchor="middle" class="med">40</text>
<text x="693.7" y="494.7" font-family="DejaVu Sans, Liberation Sans, sans-serif" font-size="17" text-anchor="middle" class="med">44</text>
<text x="744.5" y="494.7" font-family="DejaVu Sans, Liberation Sans, sans-serif" font-size="17" text-anchor="middle" class="med">48</text>
<text x="127" y="399.7" font-family="DejaVu Sans, Liberation Sans, sans-serif" font-size="17" text-anchor="end" class="med">5</text>
<text x="127" y="320.7" font-family="DejaVu Sans, Liberation Sans, sans-serif" font-size="17" text-anchor="end" class="med">10</text>
<text x="127" y="240.7" font-family="DejaVu Sans, Liberation Sans, sans-serif" font-size="17" text-anchor="end" class="med">15</text>
<text x="810" y="274.5" font-family="DejaVu Sans, Liberation Sans, sans-serif" font-size="15" textLength="35" lengthAdjust="spacingAndGlyphs" class="med">0.32</text>
<text x="810" y="319.8" font-family="DejaVu Sans, Liberation Sans, sans-serif" font-size="15" textLength="35" lengthAdjust="spacingAndGlyphs" class="med">0.16</text>
<text x="810" y="365.2" font-family="DejaVu Sans, Liberation Sans, sans-serif" font-size="15" textLength="10" lengthAdjust="spacingAndGlyphs" class="med">0</text>
<text x="810" y="410.6" font-family="DejaVu Sans, Liberation Sans, sans-serif" font-size="15" textLength="48.5" lengthAdjust="spacingAndGlyphs" class="med">−0.16</text>
<text x="810" y="456.0" font-family="DejaVu Sans, Liberation Sans, sans-serif" font-size="15" textLength="48.5" lengthAdjust="spacingAndGlyphs" class="med">−0.32</text>
</svg>
</body></html>
